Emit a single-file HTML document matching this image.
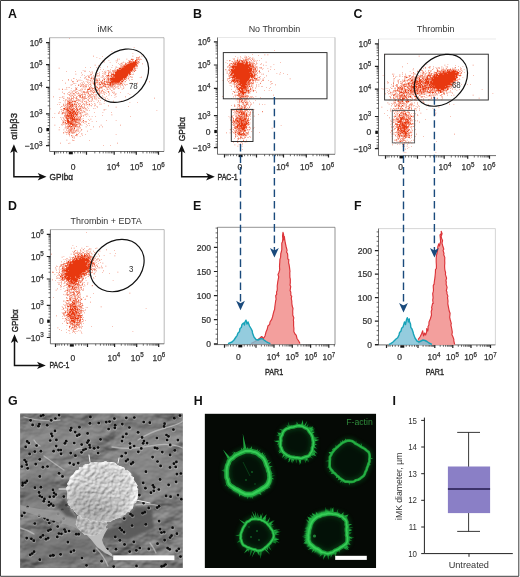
<!DOCTYPE html>
<html><head><meta charset="utf-8"><title>Figure</title>
<style>html,body{margin:0;padding:0;background:#fff;}svg{display:block;}text{font-family:"Liberation Sans",sans-serif;}</style></head>
<body>
<div style="width:520px;height:577px;transform:translateZ(0);will-change:transform;background:#fff">
<svg width="520" height="577" viewBox="0 0 520 577" font-family="Liberation Sans, sans-serif">
<rect x="0" y="0" width="520" height="577" fill="#fff"/>
<defs><filter id="b1" x="-50%" y="-50%" width="200%" height="200%"><feGaussianBlur stdDeviation="1"/></filter><filter id="b15" x="-50%" y="-50%" width="200%" height="200%"><feGaussianBlur stdDeviation="1.6"/></filter><filter id="b2" x="-50%" y="-50%" width="200%" height="200%"><feGaussianBlur stdDeviation="2.2"/></filter><filter id="b4" x="-50%" y="-50%" width="200%" height="200%"><feGaussianBlur stdDeviation="4"/></filter><filter id="b06" x="-30%" y="-30%" width="160%" height="160%"><feGaussianBlur stdDeviation="0.6"/></filter><filter id="b03" x="-5%" y="-5%" width="110%" height="110%"><feGaussianBlur stdDeviation="0.35"/></filter></defs>
<text transform="translate(8.00,18.00)" font-size="12.4" text-anchor="start" fill="#111" font-weight="bold" >A</text>
<ellipse cx="0" cy="0" rx="10.5" ry="2.6" transform="translate(124.5,71.6) rotate(-40)" fill="#e8380f" opacity="1.0" filter="url(#b1)"/>
<path transform="scale(0.6)" d="M115 64h1v1h-1m108 14h1v1h-1m-37 5h1v1h-1m35 3h1v1h-1m-66 3h1v1h-1m66-1h1v1h-1m15-1h1v1h-1m-66 0h1v1h-1m62-1h1v1h-1m-71 0h1v1h-1m67-1h1v1h-1m3-1h1v1h-1m-4 0h2v1h-2m3-1h1v1h-1m2-1h1v1h-1m-66 0h1v1h-1m64-1h1v1h-1m-35 0h1v1h-1m3-1h1v1h-1m13-1h1v1h-1m8-1h1v1h-1m2-1h1v1h-1m6-1h1v1h-1m2-1h1v1h-1m5-1h1v1h-1m-16 0h5v1h-5m9-1h2v1h-2m3-1h3v1h-3m5-1h1v1h-1m-54 0h1v1h-1m40-1h1v1h-1m4-1h4v1h-4m7-1h1v1h-1m-61 0h1v1h-1m22-1h1v1h-1m2-1h1v1h-1m19-1h2v1h-2m3-1h1v1h-1m3-1h1v1h-1m5-1h2v1h-2m3-1h1v1h-1m-55 0h1v1h-1m42-1h5v1h-5m6-1h2v1h-2m3-1h3v1h-3m4-1h1v1h-1m2-1h2v1h-2m-25 0h1v1h-1m10-1h1v1h-1m3-1h1v1h-1m3-1h8v1h-8m9-1h1v1h-1m-57 0h1v1h-1m10-1h1v1h-1m11-1h1v1h-1m9-1h1v1h-1m5-1h1v1h-1m4-1h16v1h-16m17-1h1v1h-1m2-1h2v1h-2m-34 0h1v1h-1m6-1h1v1h-1m6-1h2v1h-2m7-1h11v1h-11m12-1h2v1h-2m-27 0h2v1h-2m8-1h1v1h-1m2-1h1v1h-1m2-1h16v1h-16m17-1h1v1h-1m7-1h1v1h-1m-38 0h1v1h-1m5-1h1v1h-1m4-1h2v1h-2m3-1h17v1h-17m-53 0h1v1h-1m42-1h1v1h-1m5-1h1v1h-1m2-1h1v1h-1m2-1h20v1h-20m-45 0h1v1h-1m23-1h1v1h-1m15-1h2v1h-2m4-1h2v1h-2m3-1h17v1h-17m18-1h1v1h-1m2-1h1v1h-1m-27 0h1v1h-1m2-1h1v1h-1m2-1h20v1h-20m21-1h3v1h-3m-48 0h1v1h-1m14-1h1v1h-1m7-1h1v1h-1m3-1h1v1h-1m2-1h20v1h-20m21-1h1v1h-1m-84 0h1v1h-1m8-1h1v1h-1m10-1h1v1h-1m7-1h1v1h-1m19-1h1v1h-1m7-1h1v1h-1m3-1h1v1h-1m6-1h1v1h-1m2-1h2v1h-2m3-1h17v1h-17m-109 0h1v1h-1m100-1h4v1h-4m5-1h19v1h-19m20-1h2v1h-2m3-1h1v1h-1m2-1h1v1h-1m-36 0h1v1h-1m6-1h24v1h-24m25-1h1v1h-1m2-1h1v1h-1m-58 0h1v1h-1m5-1h1v1h-1m19-1h1v1h-1m4-1h1v1h-1m3-1h1v1h-1m3-1h21v1h-21m23-1h1v1h-1m-40 0h1v1h-1m9-1h1v1h-1m2-1h27v1h-27m28-1h1v1h-1m2-1h1v1h-1m-87 0h1v1h-1m23-1h2v1h-2m18-1h2v1h-2m8-1h2v1h-2m3-1h1v1h-1m2-1h2v1h-2m3-1h25v1h-25m26-1h2v1h-2m4-1h2v1h-2m-85 0h1v1h-1m2-1h1v1h-1m34-1h1v1h-1m4-1h1v1h-1m2-1h1v1h-1m6-1h2v1h-2m3-1h1v1h-1m3-1h27v1h-27m29-1h2v1h-2m-113 0h1v1h-1m15-1h1v1h-1m24-1h1v1h-1m4-1h1v1h-1m17-1h1v1h-1m4-1h1v1h-1m10-1h1v1h-1m3-1h1v1h-1m3-1h1v1h-1m2-1h25v1h-25m26-1h1v1h-1m5-1h1v1h-1m-72 0h1v1h-1m3-1h1v1h-1m6-1h1v1h-1m13-1h1v1h-1m2-1h1v1h-1m6-1h2v1h-2m7-1h2v1h-2m3-1h27v1h-27m30-1h1v1h-1m-86 0h1v1h-1m30-1h1v1h-1m11-1h1v1h-1m5-1h1v1h-1m3-1h2v1h-2m7-1h27v1h-27m-37 0h1v1h-1m8-1h2v1h-2m8-1h1v1h-1m3-1h1v1h-1m7-1h1v1h-1m6-1h1v1h-1m3-1h1v1h-1m3-1h25v1h-25m-66 0h1v1h-1m25-1h1v1h-1m8-1h1v1h-1m14-1h1v1h-1m2-1h1v1h-1m5-1h2v1h-2m5-1h1v1h-1m2-1h3v1h-3m4-1h23v1h-23m24-1h4v1h-4m7-1h1v1h-1m-85 0h1v1h-1m14-1h2v1h-2m10-1h1v1h-1m4-1h1v1h-1m20-1h29v1h-29m30-1h1v1h-1m2-1h1v1h-1m3-1h1v1h-1m-84 0h1v1h-1m4-1h1v1h-1m6-1h1v1h-1m2-1h1v1h-1m3-1h1v1h-1m9-1h1v1h-1m11-1h1v1h-1m7-1h1v1h-1m2-1h2v1h-2m3-1h2v1h-2m3-1h1v1h-1m2-1h26v1h-26m27-1h1v1h-1m-60 0h1v1h-1m4-1h1v1h-1m3-1h1v1h-1m2-1h2v1h-2m7-1h1v1h-1m6-1h5v1h-5m8-1h2v1h-2m4-1h24v1h-24m-45 0h1v1h-1m3-1h1v1h-1m11-1h1v1h-1m3-1h1v1h-1m11-1h1v1h-1m3-1h1v1h-1m4-1h1v1h-1m3-1h1v1h-1m2-1h3v1h-3m4-1h24v1h-24m26-1h1v1h-1m3-1h2v1h-2m-75 0h1v1h-1m5-1h3v1h-3m5-1h2v1h-2m6-1h1v1h-1m10-1h1v1h-1m2-1h1v1h-1m10-1h1v1h-1m6-1h2v1h-2m3-1h1v1h-1m2-1h20v1h-20m25-1h1v1h-1m4-1h1v1h-1m15-1h1v1h-1m-101 0h1v1h-1m7-1h1v1h-1m15-1h1v1h-1m17-1h1v1h-1m4-1h1v1h-1m2-1h1v1h-1m2-1h1v1h-1m3-1h2v1h-2m3-1h24v1h-24m26-1h1v1h-1m6-1h1v1h-1m14-1h1v1h-1m-111 0h2v1h-2m18-1h1v1h-1m12-1h1v1h-1m3-1h1v1h-1m8-1h1v1h-1m12-1h1v1h-1m3-1h1v1h-1m3-1h1v1h-1m2-1h22v1h-22m23-1h3v1h-3m4-1h1v1h-1m4-1h1v1h-1m-71 0h1v1h-1m7-1h1v1h-1m2-1h2v1h-2m3-1h1v1h-1m3-1h1v1h-1m2-1h1v1h-1m5-1h1v1h-1m7-1h1v1h-1m2-1h1v1h-1m5-1h3v1h-3m4-1h23v1h-23m24-1h2v1h-2m4-1h1v1h-1m3-1h1v1h-1m-100 0h1v1h-1m13-1h1v1h-1m17-1h2v1h-2m3-1h1v1h-1m8-1h1v1h-1m6-1h1v1h-1m12-1h2v1h-2m4-1h1v1h-1m2-1h2v1h-2m3-1h1v1h-1m2-1h21v1h-21m22-1h4v1h-4m13-1h2v1h-2m-105 0h1v1h-1m5-1h1v1h-1m12-1h1v1h-1m2-1h1v1h-1m24-1h1v1h-1m2-1h2v1h-2m3-1h2v1h-2m3-1h2v1h-2m5-1h1v1h-1m4-1h1v1h-1m6-1h2v1h-2m3-1h20v1h-20m21-1h2v1h-2m11-1h1v1h-1m-111 0h1v1h-1m25-1h1v1h-1m7-1h1v1h-1m10-1h1v1h-1m2-1h1v1h-1m2-1h2v1h-2m4-1h1v1h-1m3-1h1v1h-1m3-1h1v1h-1m2-1h1v1h-1m8-1h2v1h-2m7-1h1v1h-1m2-1h1v1h-1m2-1h1v1h-1m3-1h2v1h-2m3-1h15v1h-15m16-1h1v1h-1m2-1h2v1h-2m5-1h1v1h-1m-89 0h1v1h-1m7-1h2v1h-2m15-1h1v1h-1m8-1h1v1h-1m5-1h1v1h-1m7-1h1v1h-1m4-1h2v1h-2m7-1h1v1h-1m2-1h1v1h-1m4-1h1v1h-1m2-1h1v1h-1m3-1h16v1h-16m17-1h3v1h-3m7-1h1v1h-1m-89 0h1v1h-1m2-1h1v1h-1m17-1h1v1h-1m7-1h1v1h-1m7-1h1v1h-1m4-1h1v1h-1m3-1h1v1h-1m2-1h1v1h-1m7-1h2v1h-2m4-1h2v1h-2m3-1h5v1h-5m7-1h17v1h-17m19-1h3v1h-3m4-1h1v1h-1m2-1h1v1h-1m41-1h1v1h-1m-113 0h1v1h-1m9-1h1v1h-1m4-1h1v1h-1m7-1h1v1h-1m2-1h1v1h-1m2-1h1v1h-1m2-1h2v1h-2m3-1h2v1h-2m3-1h2v1h-2m3-1h1v1h-1m6-1h1v1h-1m2-1h12v1h-12m13-1h6v1h-6m7-1h2v1h-2m-90 0h1v1h-1m28-1h1v1h-1m3-1h1v1h-1m7-1h1v1h-1m3-1h1v1h-1m3-1h1v1h-1m2-1h1v1h-1m3-1h2v1h-2m3-1h1v1h-1m5-1h1v1h-1m3-1h1v1h-1m2-1h4v1h-4m7-1h1v1h-1m3-1h5v1h-5m6-1h2v1h-2m3-1h4v1h-4m5-1h1v1h-1m2-1h2v1h-2m3-1h4v1h-4m18-1h1v1h-1m11-1h1v1h-1m-107 0h1v1h-1m2-1h1v1h-1m2-1h1v1h-1m8-1h1v1h-1m21-1h1v1h-1m3-1h1v1h-1m5-1h1v1h-1m2-1h1v1h-1m4-1h3v1h-3m5-1h2v1h-2m5-1h1v1h-1m4-1h3v1h-3m4-1h3v1h-3m4-1h1v1h-1m2-1h2v1h-2m3-1h1v1h-1m2-1h1v1h-1m2-1h1v1h-1m2-1h1v1h-1m4-1h1v1h-1m-88 0h1v1h-1m2-1h1v1h-1m13-1h1v1h-1m4-1h1v1h-1m9-1h1v1h-1m3-1h3v1h-3m6-1h1v1h-1m4-1h1v1h-1m3-1h1v1h-1m4-1h2v1h-2m4-1h2v1h-2m3-1h9v1h-9m10-1h2v1h-2m4-1h5v1h-5m7-1h4v1h-4m6-1h1v1h-1m3-1h1v1h-1m4-1h2v1h-2m3-1h1v1h-1m2-1h1v1h-1m-82 0h1v1h-1m5-1h1v1h-1m3-1h2v1h-2m4-1h1v1h-1m2-1h1v1h-1m15-1h1v1h-1m4-1h1v1h-1m2-1h4v1h-4m8-1h1v1h-1m2-1h1v1h-1m4-1h1v1h-1m2-1h7v1h-7m8-1h1v1h-1m3-1h1v1h-1m6-1h2v1h-2m3-1h1v1h-1m3-1h1v1h-1m-86 0h1v1h-1m7-1h1v1h-1m5-1h2v1h-2m6-1h1v1h-1m4-1h1v1h-1m7-1h1v1h-1m5-1h1v1h-1m6-1h1v1h-1m14-1h2v1h-2m10-1h1v1h-1m2-1h1v1h-1m3-1h2v1h-2m4-1h1v1h-1m12-1h1v1h-1m6-1h1v1h-1m-75 0h1v1h-1m2-1h1v1h-1m6-1h1v1h-1m2-1h1v1h-1m6-1h1v1h-1m8-1h1v1h-1m3-1h1v1h-1m10-1h3v1h-3m4-1h2v1h-2m5-1h2v1h-2m3-1h4v1h-4m8-1h1v1h-1m4-1h1v1h-1m2-1h1v1h-1m3-1h1v1h-1m5-1h1v1h-1m-71 0h1v1h-1m4-1h2v1h-2m3-1h1v1h-1m2-1h1v1h-1m4-1h1v1h-1m4-1h1v1h-1m8-1h2v1h-2m6-1h1v1h-1m2-1h1v1h-1m2-1h2v1h-2m5-1h2v1h-2m4-1h1v1h-1m9-1h2v1h-2m3-1h1v1h-1m3-1h1v1h-1m-80 0h1v1h-1m2-1h1v1h-1m10-1h1v1h-1m3-1h1v1h-1m15-1h1v1h-1m6-1h1v1h-1m4-1h1v1h-1m4-1h1v1h-1m4-1h2v1h-2m5-1h4v1h-4m10-1h1v1h-1m3-1h3v1h-3m4-1h1v1h-1m2-1h1v1h-1m8-1h1v1h-1m8-1h1v1h-1m-91 0h1v1h-1m28-1h1v1h-1m3-1h1v1h-1m8-1h1v1h-1m2-1h2v1h-2m6-1h1v1h-1m3-1h1v1h-1m2-1h1v1h-1m3-1h1v1h-1m3-1h1v1h-1m2-1h1v1h-1m7-1h1v1h-1m10-1h1v1h-1m2-1h1v1h-1m3-1h1v1h-1m4-1h1v1h-1m10-1h1v1h-1m-87 0h1v1h-1m7-1h2v1h-2m10-1h1v1h-1m13-1h2v1h-2m4-1h4v1h-4m11-1h3v1h-3m4-1h1v1h-1m14-1h1v1h-1m8-1h1v1h-1m7-1h2v1h-2m8-1h1v1h-1m-107 0h1v1h-1m6-1h1v1h-1m22-1h2v1h-2m16-1h1v1h-1m4-1h4v1h-4m8-1h1v1h-1m3-1h1v1h-1m6-1h2v1h-2m15-1h2v1h-2m6-1h1v1h-1m5-1h1v1h-1m14-1h1v1h-1m-99 0h1v1h-1m4-1h1v1h-1m3-1h1v1h-1m15-1h1v1h-1m2-1h1v1h-1m6-1h1v1h-1m2-1h2v1h-2m4-1h1v1h-1m5-1h4v1h-4m5-1h1v1h-1m3-1h1v1h-1m5-1h1v1h-1m2-1h2v1h-2m5-1h1v1h-1m6-1h1v1h-1m3-1h1v1h-1m7-1h1v1h-1m9-1h1v1h-1m-72 0h1v1h-1m4-1h1v1h-1m2-1h2v1h-2m7-1h2v1h-2m5-1h1v1h-1m14-1h1v1h-1m3-1h1v1h-1m2-1h2v1h-2m3-1h1v1h-1m4-1h2v1h-2m4-1h1v1h-1m4-1h1v1h-1m6-1h1v1h-1m10-1h1v1h-1m-52 0h1v1h-1m11-1h2v1h-2m6-1h2v1h-2m11-1h1v1h-1m3-1h1v1h-1m4-1h2v1h-2m17-1h1v1h-1m-65 0h1v1h-1m2-1h1v1h-1m4-1h1v1h-1m2-1h1v1h-1m7-1h1v1h-1m3-1h2v1h-2m7-1h1v1h-1m3-1h1v1h-1m2-1h1v1h-1m3-1h1v1h-1m3-1h1v1h-1m3-1h1v1h-1m5-1h1v1h-1m3-1h1v1h-1m4-1h1v1h-1m6-1h1v1h-1m2-1h2v1h-2m-76 0h1v1h-1m11-1h1v1h-1m3-1h1v1h-1m2-1h1v1h-1m5-1h1v1h-1m13-1h3v1h-3m5-1h3v1h-3m4-1h1v1h-1m4-1h1v1h-1m3-1h1v1h-1m2-1h2v1h-2m3-1h1v1h-1m5-1h1v1h-1m5-1h1v1h-1m3-1h1v1h-1m2-1h1v1h-1m6-1h1v1h-1m8-1h1v1h-1m2-1h1v1h-1m-76 0h1v1h-1m11-1h1v1h-1m2-1h1v1h-1m3-1h1v1h-1m6-1h1v1h-1m4-1h1v1h-1m2-1h1v1h-1m4-1h1v1h-1m9-1h2v1h-2m10-1h1v1h-1m2-1h1v1h-1m8-1h1v1h-1m6-1h1v1h-1m6-1h1v1h-1m13-1h1v1h-1m-94 0h1v1h-1m12-1h1v1h-1m5-1h1v1h-1m4-1h1v1h-1m3-1h1v1h-1m13-1h1v1h-1m4-1h1v1h-1m8-1h1v1h-1m9-1h1v1h-1m2-1h1v1h-1m2-1h1v1h-1m3-1h1v1h-1m6-1h1v1h-1m12-1h1v1h-1m24-1h1v1h-1m-106 0h1v1h-1m5-1h1v1h-1m5-1h1v1h-1m4-1h3v1h-3m8-1h1v1h-1m2-1h1v1h-1m2-1h1v1h-1m4-1h1v1h-1m3-1h1v1h-1m6-1h2v1h-2m6-1h1v1h-1m12-1h2v1h-2m9-1h1v1h-1m9-1h1v1h-1m9-1h1v1h-1m2-1h1v1h-1m-79 0h2v1h-2m21-1h2v1h-2m3-1h1v1h-1m2-1h1v1h-1m2-1h1v1h-1m7-1h1v1h-1m2-1h1v1h-1m2-1h2v1h-2m5-1h1v1h-1m2-1h1v1h-1m5-1h2v1h-2m9-1h1v1h-1m18-1h1v1h-1m24-1h1v1h-1m-100 0h1v1h-1m3-1h1v1h-1m5-1h2v1h-2m8-1h2v1h-2m5-1h1v1h-1m5-1h1v1h-1m6-1h1v1h-1m2-1h1v1h-1m5-1h1v1h-1m3-1h1v1h-1m2-1h1v1h-1m21-1h1v1h-1m-65 0h1v1h-1m4-1h2v1h-2m10-1h2v1h-2m3-1h2v1h-2m3-1h1v1h-1m9-1h1v1h-1m4-1h1v1h-1m2-1h1v1h-1m19-1h1v1h-1m15-1h1v1h-1m6-1h1v1h-1m-87 0h1v1h-1m2-1h1v1h-1m11-1h1v1h-1m5-1h1v1h-1m7-1h1v1h-1m4-1h1v1h-1m4-1h1v1h-1m3-1h3v1h-3m7-1h1v1h-1m2-1h1v1h-1m3-1h1v1h-1m4-1h1v1h-1m5-1h1v1h-1m5-1h1v1h-1m11-1h1v1h-1m16-1h1v1h-1m-104 0h1v1h-1m30-1h1v1h-1m3-1h1v1h-1m5-1h1v1h-1m5-1h3v1h-3m5-1h2v1h-2m10-1h1v1h-1m3-1h1v1h-1m4-1h1v1h-1m3-1h2v1h-2m14-1h1v1h-1m38-1h1v1h-1m-110 0h1v1h-1m2-1h1v1h-1m3-1h1v1h-1m8-1h1v1h-1m3-1h1v1h-1m7-1h1v1h-1m2-1h1v1h-1m3-1h1v1h-1m6-1h1v1h-1m2-1h1v1h-1m2-1h2v1h-2m4-1h1v1h-1m5-1h1v1h-1m5-1h2v1h-2m12-1h1v1h-1m5-1h1v1h-1m5-1h1v1h-1m18-1h1v1h-1m-85 0h1v1h-1m6-1h1v1h-1m2-1h1v1h-1m5-1h1v1h-1m6-1h1v1h-1m2-1h1v1h-1m9-1h1v1h-1m2-1h1v1h-1m2-1h3v1h-3m8-1h1v1h-1m5-1h1v1h-1m4-1h2v1h-2m3-1h1v1h-1m8-1h1v1h-1m7-1h1v1h-1m82-1h1v1h-1m-151 0h1v1h-1m9-1h2v1h-2m4-1h4v1h-4m8-1h1v1h-1m2-1h1v1h-1m9-1h1v1h-1m5-1h2v1h-2m6-1h1v1h-1m5-1h1v1h-1m10-1h2v1h-2m15-1h1v1h-1m-80 0h1v1h-1m10-1h1v1h-1m4-1h1v1h-1m4-1h1v1h-1m2-1h1v1h-1m3-1h1v1h-1m8-1h2v1h-2m3-1h1v1h-1m4-1h2v1h-2m3-1h1v1h-1m13-1h1v1h-1m5-1h1v1h-1m23-1h1v1h-1m-71 0h1v1h-1m5-1h1v1h-1m3-1h1v1h-1m9-1h1v1h-1m2-1h1v1h-1m17-1h2v1h-2m7-1h1v1h-1m8-1h1v1h-1m14-1h1v1h-1m-70 0h1v1h-1m4-1h1v1h-1m3-1h2v1h-2m4-1h1v1h-1m2-1h1v1h-1m9-1h2v1h-2m3-1h1v1h-1m2-1h2v1h-2m6-1h1v1h-1m9-1h1v1h-1m6-1h1v1h-1m11-1h1v1h-1m3-1h1v1h-1m10-1h1v1h-1m-69 0h1v1h-1m5-1h1v1h-1m2-1h1v1h-1m2-1h1v1h-1m2-1h8v1h-8m12-1h1v1h-1m5-1h2v1h-2m7-1h1v1h-1m8-1h1v1h-1m23-1h1v1h-1m15-1h1v1h-1m13-1h1v1h-1m-90 0h3v1h-3m4-1h1v1h-1m4-1h1v1h-1m4-1h2v1h-2m10-1h1v1h-1m6-1h2v1h-2m3-1h1v1h-1m5-1h2v1h-2m4-1h1v1h-1m4-1h1v1h-1m8-1h1v1h-1m-66 0h1v1h-1m2-1h1v1h-1m15-1h2v1h-2m3-1h2v1h-2m5-1h1v1h-1m3-1h1v1h-1m3-1h1v1h-1m7-1h2v1h-2m8-1h1v1h-1m2-1h1v1h-1m16-1h1v1h-1m54-1h1v1h-1m13-1h1v1h-1m-121 0h1v1h-1m4-1h7v1h-7m8-1h1v1h-1m6-1h1v1h-1m3-1h1v1h-1m14-1h1v1h-1m23-1h1v1h-1m-54 0h1v1h-1m2-1h2v1h-2m4-1h1v1h-1m6-1h1v1h-1m6-1h1v1h-1m2-1h1v1h-1m2-1h1v1h-1m5-1h1v1h-1m4-1h1v1h-1m9-1h1v1h-1m5-1h1v1h-1m16-1h1v1h-1m-68 0h1v1h-1m4-1h1v1h-1m2-1h2v1h-2m3-1h5v1h-5m6-1h2v1h-2m3-1h3v1h-3m4-1h1v1h-1m4-1h1v1h-1m7-1h1v1h-1m2-1h1v1h-1m4-1h1v1h-1m4-1h2v1h-2m10-1h1v1h-1m10-1h1v1h-1m-73 0h1v1h-1m4-1h1v1h-1m7-1h1v1h-1m5-1h1v1h-1m2-1h1v1h-1m2-1h1v1h-1m3-1h4v1h-4m6-1h1v1h-1m2-1h2v1h-2m4-1h1v1h-1m4-1h1v1h-1m3-1h1v1h-1m4-1h1v1h-1m4-1h2v1h-2m4-1h1v1h-1m5-1h1v1h-1m12-1h1v1h-1m-61 0h1v1h-1m3-1h1v1h-1m3-1h3v1h-3m4-1h1v1h-1m2-1h2v1h-2m3-1h1v1h-1m2-1h1v1h-1m6-1h1v1h-1m4-1h1v1h-1m3-1h1v1h-1m8-1h1v1h-1m8-1h1v1h-1m8-1h1v1h-1m-53 0h1v1h-1m3-1h1v1h-1m4-1h1v1h-1m4-1h5v1h-5m6-1h1v1h-1m2-1h1v1h-1m2-1h1v1h-1m5-1h1v1h-1m3-1h1v1h-1m5-1h1v1h-1m8-1h1v1h-1m4-1h1v1h-1m5-1h1v1h-1m23-1h1v1h-1m-78 0h2v1h-2m5-1h1v1h-1m3-1h1v1h-1m2-1h2v1h-2m3-1h4v1h-4m5-1h2v1h-2m3-1h1v1h-1m3-1h2v1h-2m4-1h2v1h-2m3-1h3v1h-3m28-1h1v1h-1m53-1h1v1h-1m-103 0h1v1h-1m3-1h3v1h-3m4-1h1v1h-1m3-1h1v1h-1m5-1h2v1h-2m10-1h3v1h-3m4-1h1v1h-1m5-1h1v1h-1m17-1h1v1h-1m31-1h1v1h-1m-93 0h1v1h-1m8-1h2v1h-2m3-1h3v1h-3m5-1h1v1h-1m2-1h2v1h-2m4-1h1v1h-1m3-1h1v1h-1m3-1h1v1h-1m3-1h1v1h-1m3-1h1v1h-1m7-1h1v1h-1m-36 0h4v1h-4m6-1h3v1h-3m4-1h1v1h-1m2-1h2v1h-2m5-1h1v1h-1m2-1h1v1h-1m3-1h2v1h-2m6-1h1v1h-1m3-1h1v1h-1m2-1h2v1h-2m4-1h2v1h-2m5-1h1v1h-1m8-1h1v1h-1m3-1h1v1h-1m-75 0h1v1h-1m23-1h3v1h-3m4-1h1v1h-1m2-1h1v1h-1m2-1h3v1h-3m4-1h1v1h-1m2-1h3v1h-3m4-1h1v1h-1m3-1h2v1h-2m5-1h3v1h-3m9-1h1v1h-1m-40 0h2v1h-2m6-1h7v1h-7m9-1h6v1h-6m9-1h2v1h-2m3-1h2v1h-2m3-1h2v1h-2m12-1h1v1h-1m30-1h1v1h-1m3-1h1v1h-1m-73 0h1v1h-1m2-1h1v1h-1m5-1h1v1h-1m2-1h3v1h-3m5-1h1v1h-1m2-1h5v1h-5m7-1h1v1h-1m2-1h3v1h-3m5-1h1v1h-1m2-1h2v1h-2m8-1h1v1h-1m2-1h1v1h-1m28-1h1v1h-1m-68 0h1v1h-1m3-1h1v1h-1m3-1h6v1h-6m7-1h3v1h-3m5-1h2v1h-2m4-1h1v1h-1m2-1h1v1h-1m5-1h1v1h-1m5-1h1v1h-1m10-1h1v1h-1m112-1h1v1h-1m-159 0h1v1h-1m7-1h2v1h-2m3-1h1v1h-1m2-1h4v1h-4m5-1h6v1h-6m8-1h2v1h-2m4-1h1v1h-1m9-1h1v1h-1m-41 0h1v1h-1m7-1h1v1h-1m5-1h2v1h-2m3-1h5v1h-5m7-1h5v1h-5m6-1h1v1h-1m3-1h1v1h-1m2-1h1v1h-1m4-1h1v1h-1m3-1h1v1h-1m2-1h1v1h-1m-37 0h2v1h-2m4-1h1v1h-1m3-1h1v1h-1m2-1h2v1h-2m3-1h7v1h-7m8-1h3v1h-3m4-1h3v1h-3m6-1h1v1h-1m2-1h2v1h-2m5-1h1v1h-1m16-1h1v1h-1m14-1h1v1h-1m14-1h1v1h-1m-88 0h2v1h-2m6-1h3v1h-3m4-1h4v1h-4m5-1h1v1h-1m2-1h10v1h-10m11-1h2v1h-2m3-1h2v1h-2m4-1h1v1h-1m2-1h1v1h-1m9-1h1v1h-1m-52 0h1v1h-1m12-1h1v1h-1m9-1h1v1h-1m2-1h5v1h-5m6-1h2v1h-2m3-1h4v1h-4m5-1h1v1h-1m3-1h1v1h-1m3-1h1v1h-1m2-1h1v1h-1m9-1h1v1h-1m-42 0h1v1h-1m6-1h1v1h-1m3-1h2v1h-2m4-1h1v1h-1m2-1h2v1h-2m4-1h8v1h-8m12-1h2v1h-2m10-1h1v1h-1m-36 0h1v1h-1m2-1h1v1h-1m2-1h2v1h-2m3-1h9v1h-9m11-1h3v1h-3m5-1h1v1h-1m10-1h2v1h-2m5-1h1v1h-1m40-1h1v1h-1m-79 0h1v1h-1m2-1h12v1h-12m13-1h2v1h-2m5-1h2v1h-2m7-1h1v1h-1m2-1h1v1h-1m3-1h1v1h-1m31-1h1v1h-1m-63 0h1v1h-1m2-1h1v1h-1m2-1h4v1h-4m5-1h1v1h-1m2-1h6v1h-6m7-1h2v1h-2m4-1h1v1h-1m6-1h1v1h-1m4-1h1v1h-1m-31 0h1v1h-1m2-1h2v1h-2m3-1h7v1h-7m8-1h3v1h-3m5-1h1v1h-1m2-1h1v1h-1m3-1h2v1h-2m3-1h2v1h-2m10-1h1v1h-1m5-1h1v1h-1m4-1h1v1h-1m6-1h1v1h-1m58-1h1v1h-1m-130 0h1v1h-1m3-1h1v1h-1m10-1h1v1h-1m3-1h1v1h-1m2-1h1v1h-1m5-1h2v1h-2m5-1h3v1h-3m4-1h3v1h-3m4-1h2v1h-2m4-1h1v1h-1m2-1h2v1h-2m4-1h2v1h-2m-25 0h3v1h-3m4-1h3v1h-3m4-1h6v1h-6m7-1h2v1h-2m3-1h1v1h-1m5-1h1v1h-1m2-1h1v1h-1m-28 0h1v1h-1m5-1h3v1h-3m4-1h9v1h-9m10-1h2v1h-2m3-1h1v1h-1m2-1h1v1h-1m2-1h1v1h-1m3-1h1v1h-1m4-1h1v1h-1m-36 0h1v1h-1m4-1h1v1h-1m5-1h4v1h-4m6-1h1v1h-1m2-1h6v1h-6m7-1h5v1h-5m6-1h2v1h-2m4-1h1v1h-1m15-1h1v1h-1m-44 0h1v1h-1m4-1h2v1h-2m5-1h2v1h-2m3-1h9v1h-9m10-1h2v1h-2m3-1h2v1h-2m15-1h1v1h-1m-39 0h2v1h-2m3-1h4v1h-4m6-1h1v1h-1m2-1h8v1h-8m9-1h3v1h-3m11-1h1v1h-1m10-1h1v1h-1m28-1h1v1h-1m16-1h1v1h-1m-89 0h1v1h-1m2-1h1v1h-1m2-1h1v1h-1m3-1h4v1h-4m5-1h1v1h-1m2-1h4v1h-4m6-1h1v1h-1m2-1h2v1h-2m5-1h4v1h-4m7-1h2v1h-2m-33 0h1v1h-1m6-1h7v1h-7m8-1h2v1h-2m3-1h5v1h-5m15-1h1v1h-1m4-1h2v1h-2m3-1h1v1h-1m9-1h1v1h-1m7-1h1v1h-1m-54 0h1v1h-1m3-1h1v1h-1m3-1h8v1h-8m9-1h2v1h-2m4-1h7v1h-7m10-1h1v1h-1m8-1h1v1h-1m-39 0h3v1h-3m4-1h2v1h-2m4-1h4v1h-4m5-1h1v1h-1m2-1h3v1h-3m5-1h1v1h-1m2-1h1v1h-1m2-1h1v1h-1m4-1h1v1h-1m6-1h2v1h-2m-32 0h1v1h-1m3-1h2v1h-2m4-1h1v1h-1m2-1h5v1h-5m6-1h2v1h-2m3-1h1v1h-1m4-1h1v1h-1m4-1h2v1h-2m9-1h1v1h-1m6-1h2v1h-2m-43 0h1v1h-1m4-1h1v1h-1m2-1h5v1h-5m6-1h6v1h-6m7-1h1v1h-1m2-1h2v1h-2m5-1h2v1h-2m3-1h1v1h-1m-31 0h1v1h-1m3-1h1v1h-1m3-1h1v1h-1m6-1h1v1h-1m2-1h9v1h-9m10-1h4v1h-4m7-1h2v1h-2m11-1h1v1h-1m-53 0h1v1h-1m12-1h1v1h-1m11-1h1v1h-1m2-1h1v1h-1m4-1h3v1h-3m4-1h1v1h-1m2-1h2v1h-2m6-1h1v1h-1m4-1h1v1h-1m32-1h1v1h-1m32-1h1v1h-1m-91 0h1v1h-1m3-1h1v1h-1m3-1h3v1h-3m5-1h1v1h-1m2-1h1v1h-1m2-1h3v1h-3m4-1h1v1h-1m5-1h1v1h-1m12-1h1v1h-1m4-1h1v1h-1m-39 0h1v1h-1m2-1h2v1h-2m3-1h8v1h-8m9-1h3v1h-3m4-1h1v1h-1m4-1h1v1h-1m-23 0h1v1h-1m4-1h3v1h-3m5-1h2v1h-2m5-1h1v1h-1m2-1h1v1h-1m2-1h1v1h-1m2-1h2v1h-2m3-1h1v1h-1m11-1h1v1h-1m12-1h1v1h-1m10-1h1v1h-1m5-1h1v1h-1m-71 0h1v1h-1m9-1h1v1h-1m2-1h1v1h-1m3-1h1v1h-1m4-1h2v1h-2m4-1h1v1h-1m2-1h1v1h-1m8-1h1v1h-1m3-1h1v1h-1m-22 0h2v1h-2m5-1h1v1h-1m3-1h1v1h-1m3-1h2v1h-2m5-1h1v1h-1m-20 0h1v1h-1m3-1h1v1h-1m2-1h1v1h-1m3-1h1v1h-1m2-1h3v1h-3m5-1h2v1h-2m8-1h1v1h-1m2-1h1v1h-1m-23 0h1v1h-1m5-1h2v1h-2m3-1h2v1h-2m3-1h1v1h-1m2-1h1v1h-1m4-1h1v1h-1m2-1h1v1h-1m6-1h2v1h-2m16-1h1v1h-1m-53 0h1v1h-1m8-1h1v1h-1m8-1h1v1h-1m3-1h2v1h-2m4-1h1v1h-1m2-1h1v1h-1m7-1h1v1h-1m-20 0h1v1h-1m3-1h1v1h-1m2-1h1v1h-1m2-1h1v1h-1m2-1h1v1h-1m3-1h2v1h-2m4-1h3v1h-3m9-1h1v1h-1m-22 0h1v1h-1m3-1h2v1h-2m3-1h2v1h-2m6-1h1v1h-1m3-1h1v1h-1m2-1h1v1h-1m3-1h1v1h-1m12-1h1v1h-1m-37 0h1v1h-1m5-1h1v1h-1m2-1h1v1h-1m3-1h1v1h-1m4-1h2v1h-2m4-1h1v1h-1m-17 0h4v1h-4m5-1h3v1h-3m4-1h2v1h-2m3-1h3v1h-3m5-1h1v1h-1m6-1h1v1h-1m-27 0h2v1h-2m10-1h1v1h-1m5-1h1v1h-1m4-1h1v1h-1m-10 0h1v1h-1m4-1h1v1h-1m2-1h1v1h-1m2-1h1v1h-1m8-1h1v1h-1m6-1h1v1h-1m-26 0h1v1h-1m3-1h1v1h-1m2-1h1v1h-1m12-1h1v1h-1m9-1h1v1h-1m-21 0h1v1h-1m12-1h3v1h-3m15-1h1v1h-1m51-1h1v1h-1m-74 0h1v1h-1m2-1h1v1h-1m4-1h3v1h-3m12-1h1v1h-1m-22 0h1v1h-1m4-1h1v1h-1m9-1h1v1h-1m-5 0h1v1h-1m10-1h1v1h-1m-13 0h2v1h-2m4 0h1v1h-1m-1 0h1v1h-1m-12 2h1v1h-1m9-1h1v1h-1m2 0h2v1h-2m27-1h1v1h-1m-49 3h1v1h-1m16-1h1v1h-1m79-1h1v1h-1m-81 0h1v1h-1m58 2h1v1h-1m12-1h1v1h-1" fill="#e8380f" opacity="1.0"/>
<line x1="49.6" y1="37.7" x2="164" y2="37.7" stroke="#8a8a8a" stroke-width="0.6"/>
<line x1="164" y1="37.7" x2="164" y2="151.5" stroke="#8a8a8a" stroke-width="0.6"/>
<line x1="49.6" y1="37.7" x2="49.6" y2="151.5" stroke="#4a4a4a" stroke-width="0.8"/>
<line x1="49.6" y1="151.5" x2="164" y2="151.5" stroke="#4a4a4a" stroke-width="0.8"/>
<path d="M46.0 42.7H49.6M46.0 64.6H49.6M46.0 87.3H49.6M46.0 113.8H49.6M46.0 145.7H49.6" stroke="#222" stroke-width="1.2"/>
<path d="M47.7 58.0H49.6M47.7 54.2H49.6M47.7 51.4H49.6M47.7 49.3H49.6M47.7 47.6H49.6M47.7 46.1H49.6M47.7 44.8H49.6M47.7 43.7H49.6M47.7 80.5H49.6M47.7 76.5H49.6M47.7 73.6H49.6M47.7 71.4H49.6M47.7 69.6H49.6M47.7 68.1H49.6M47.7 66.8H49.6M47.7 65.6H49.6M47.7 105.8H49.6M47.7 101.2H49.6M47.7 97.8H49.6M47.7 95.3H49.6M47.7 93.2H49.6M47.7 91.4H49.6M47.7 89.9H49.6M47.7 88.5H49.6M47.7 125.6H49.6M47.7 133.6H49.6M47.7 122.5H49.6M47.7 136.8H49.6M47.7 119.8H49.6M47.7 139.6H49.6M47.7 117.3H49.6M47.7 142.2H49.6M47.7 115.4H49.6M47.7 144.1H49.6" stroke="#2a2a2a" stroke-width="0.7"/>
<rect x="46.4" y="128.0" width="2.6" height="3.2" fill="#111"/>
<path d="M54.5 151.5V154.7M86.5 151.5V154.7M114.2 151.5V154.7M136.3 151.5V154.7M158.5 151.5V154.7" stroke="#222" stroke-width="1.2"/>
<path d="M94.8 151.5V153.4M99.7 151.5V153.4M103.2 151.5V153.4M105.9 151.5V153.4M108.1 151.5V153.4M109.9 151.5V153.4M111.5 151.5V153.4M112.9 151.5V153.4M120.9 151.5V153.4M124.7 151.5V153.4M127.5 151.5V153.4M129.6 151.5V153.4M131.4 151.5V153.4M132.9 151.5V153.4M134.2 151.5V153.4M135.3 151.5V153.4M143.0 151.5V153.4M146.9 151.5V153.4M149.7 151.5V153.4M151.8 151.5V153.4M153.6 151.5V153.4M155.1 151.5V153.4M156.3 151.5V153.4M157.5 151.5V153.4M74.7 151.5V153.4M66.7 151.5V153.4M77.9 151.5V153.4M63.5 151.5V153.4M80.5 151.5V153.4M60.7 151.5V153.4M83.0 151.5V153.4M58.1 151.5V153.4M84.9 151.5V153.4M56.1 151.5V153.4" stroke="#2a2a2a" stroke-width="0.7"/>
<rect x="68.8" y="151.9" width="4" height="2.4" fill="#111"/>
<text transform="translate(29.70,45.80)" font-size="8.8" text-anchor="start" fill="#333" font-weight="normal" stroke="#333" stroke-width="0.25" textLength="12.8" lengthAdjust="spacingAndGlyphs">10<tspan font-size="6.51" dy="-3.2">6</tspan></text>
<text transform="translate(29.70,67.70)" font-size="8.8" text-anchor="start" fill="#333" font-weight="normal" stroke="#333" stroke-width="0.25" textLength="12.8" lengthAdjust="spacingAndGlyphs">10<tspan font-size="6.51" dy="-3.2">5</tspan></text>
<text transform="translate(29.70,90.40)" font-size="8.8" text-anchor="start" fill="#333" font-weight="normal" stroke="#333" stroke-width="0.25" textLength="12.8" lengthAdjust="spacingAndGlyphs">10<tspan font-size="6.51" dy="-3.2">4</tspan></text>
<text transform="translate(29.70,116.90)" font-size="8.8" text-anchor="start" fill="#333" font-weight="normal" stroke="#333" stroke-width="0.25" textLength="12.8" lengthAdjust="spacingAndGlyphs">10<tspan font-size="6.51" dy="-3.2">3</tspan></text>
<text transform="translate(42.50,132.70) scale(0.97,1)" font-size="8.8" text-anchor="end" fill="#333" font-weight="normal" stroke="#333" stroke-width="0.25">0</text>
<text transform="translate(24.50,148.80)" font-size="8.8" text-anchor="start" fill="#333" font-weight="normal" stroke="#333" stroke-width="0.25" textLength="18.0" lengthAdjust="spacingAndGlyphs">−10<tspan font-size="6.51" dy="-3.2">3</tspan></text>
<text transform="translate(73.00,170.20) scale(0.97,1)" font-size="8.8" text-anchor="middle" fill="#333" font-weight="normal" stroke="#333" stroke-width="0.25">0</text>
<text transform="translate(106.80,170.20)" font-size="8.8" text-anchor="start" fill="#333" font-weight="normal" stroke="#333" stroke-width="0.25" textLength="12.8" lengthAdjust="spacingAndGlyphs">10<tspan font-size="6.51" dy="-3.2">4</tspan></text>
<text transform="translate(130.10,170.20)" font-size="8.8" text-anchor="start" fill="#333" font-weight="normal" stroke="#333" stroke-width="0.25" textLength="12.8" lengthAdjust="spacingAndGlyphs">10<tspan font-size="6.51" dy="-3.2">5</tspan></text>
<text transform="translate(152.00,170.20)" font-size="8.8" text-anchor="start" fill="#333" font-weight="normal" stroke="#333" stroke-width="0.25" textLength="12.8" lengthAdjust="spacingAndGlyphs">10<tspan font-size="6.51" dy="-3.2">6</tspan></text>
<text transform="translate(105.20,31.60)" font-size="8.95" text-anchor="middle" fill="#333" font-weight="normal" >iMK</text>
<ellipse cx="0" cy="0" rx="29.9" ry="23.4" transform="translate(121.6,75.7) rotate(-43.6)" fill="none" stroke="#111" stroke-width="1.2"/>
<text transform="translate(133.30,88.90) scale(0.9,1)" font-size="8.8" text-anchor="middle" fill="#333" font-weight="normal" >78</text>
<path d="M13.9 149.3V176.7H41.5" stroke="#111" stroke-width="1.5" fill="none" stroke-linejoin="miter"/>
<path d="M13.9 144.3l-3.7 8.8l3.7 -2.3l3.7 2.3z" fill="#111"/>
<path d="M46.5 176.7l-8.8 -3.7l2.3 3.7l-2.3 3.7z" fill="#111"/>
<text transform="translate(49.60,179.60)" font-size="9.8" text-anchor="start" fill="#2a2a2a" font-weight="normal" stroke="#2a2a2a" stroke-width="0.42" textLength="23.5" lengthAdjust="spacingAndGlyphs">GPIbα</text>
<text transform="translate(16.50,139.80) rotate(-90)" font-size="9.8" text-anchor="start" fill="#2a2a2a" font-weight="normal" stroke="#2a2a2a" stroke-width="0.42" textLength="26.8" lengthAdjust="spacingAndGlyphs">αIIbβ3</text>
<text transform="translate(193.00,18.00)" font-size="12.4" text-anchor="start" fill="#111" font-weight="bold" >B</text>
<ellipse cx="0" cy="0" rx="5.0" ry="4.6" transform="translate(242.0,72.5) rotate(0)" fill="#e8380f" opacity="1.0" filter="url(#b15)"/>
<path transform="scale(0.6)" d="M457 84h1v1h-1m-66 2h1v1h-1m48-1h1v1h-1m-19 2h1v1h-1m21 0h1v1h-1m5-1h1v1h-1m-16 0h1v1h-1m-22 0h1v1h-1m-16 0h1v1h-1m8-1h1v1h-1m10-1h1v1h-1m4-1h1v1h-1m-13 0h1v1h-1m6-1h1v1h-1m4-1h1v1h-1m6-1h1v1h-1m-21 0h1v1h-1m13-1h2v1h-2m6-1h1v1h-1m6-1h1v1h-1m-33 0h1v1h-1m2-1h1v1h-1m14-1h1v1h-1m10-1h2v1h-2m4-1h1v1h-1m17-1h1v1h-1m-39 0h1v1h-1m4-1h1v1h-1m6-1h1v1h-1m3-1h2v1h-2m3-1h2v1h-2m8-1h2v1h-2m3-1h1v1h-1m-34 0h2v1h-2m6-1h1v1h-1m4-1h1v1h-1m7-1h1v1h-1m3-1h2v1h-2m4-1h1v1h-1m3-1h2v1h-2m-38 0h1v1h-1m4-1h1v1h-1m2-1h1v1h-1m6-1h1v1h-1m2-1h1v1h-1m3-1h2v1h-2m4-1h2v1h-2m3-1h1v1h-1m3-1h1v1h-1m2-1h4v1h-4m7-1h1v1h-1m4-1h1v1h-1m11-1h1v1h-1m3-1h1v1h-1m-50 0h1v1h-1m12-1h3v1h-3m5-1h1v1h-1m2-1h5v1h-5m7-1h1v1h-1m2-1h1v1h-1m2-1h1v1h-1m7-1h1v1h-1m3-1h2v1h-2m4-1h1v1h-1m-40 0h2v1h-2m4-1h1v1h-1m2-1h1v1h-1m3-1h1v1h-1m2-1h3v1h-3m6-1h2v1h-2m3-1h2v1h-2m4-1h2v1h-2m5-1h2v1h-2m9-1h1v1h-1m-36 0h1v1h-1m3-1h1v1h-1m2-1h2v1h-2m3-1h4v1h-4m5-1h5v1h-5m6-1h7v1h-7m9-1h1v1h-1m4-1h1v1h-1m7-1h1v1h-1m16-1h1v1h-1m-67 0h1v1h-1m13-1h1v1h-1m2-1h3v1h-3m4-1h4v1h-4m5-1h1v1h-1m4-1h4v1h-4m6-1h3v1h-3m4-1h4v1h-4m5-1h1v1h-1m3-1h1v1h-1m45-1h1v1h-1m-88 0h1v1h-1m4-1h1v1h-1m2-1h2v1h-2m4-1h1v1h-1m2-1h3v1h-3m4-1h11v1h-11m12-1h1v1h-1m2-1h4v1h-4m7-1h1v1h-1m2-1h2v1h-2m4-1h1v1h-1m2-1h1v1h-1m4-1h1v1h-1m-45 0h1v1h-1m3-1h1v1h-1m2-1h5v1h-5m6-1h13v1h-13m14-1h6v1h-6m7-1h3v1h-3m5-1h2v1h-2m3-1h1v1h-1m4-1h1v1h-1m8-1h1v1h-1m-53 0h1v1h-1m5-1h1v1h-1m3-1h23v1h-23m24-1h5v1h-5m7-1h1v1h-1m5-1h1v1h-1m8-1h1v1h-1m22-1h1v1h-1m-74 0h1v1h-1m2-1h1v1h-1m3-1h1v1h-1m2-1h1v1h-1m2-1h3v1h-3m4-1h23v1h-23m24-1h4v1h-4m6-1h1v1h-1m14-1h1v1h-1m-58 0h2v1h-2m5-1h1v1h-1m2-1h4v1h-4m5-1h26v1h-26m27-1h1v1h-1m3-1h1v1h-1m20-1h1v1h-1m-64 0h1v1h-1m4-1h1v1h-1m3-1h29v1h-29m30-1h5v1h-5m6-1h1v1h-1m3-1h1v1h-1m2-1h1v1h-1m-47 0h1v1h-1m4-1h34v1h-34m35-1h5v1h-5m9-1h1v1h-1m23-1h1v1h-1m-72 0h1v1h-1m3-1h1v1h-1m2-1h1v1h-1m2-1h31v1h-31m32-1h1v1h-1m2-1h1v1h-1m2-1h2v1h-2m4-1h2v1h-2m6-1h1v1h-1m2-1h2v1h-2m-52 0h1v1h-1m4-1h4v1h-4m5-1h29v1h-29m30-1h1v1h-1m2-1h3v1h-3m6-1h1v1h-1m6-1h1v1h-1m-52 0h1v1h-1m5-1h26v1h-26m27-1h6v1h-6m7-1h1v1h-1m3-1h2v1h-2m8-1h1v1h-1m5-1h1v1h-1m8-1h1v1h-1m-70 0h1v1h-1m8-1h4v1h-4m5-1h31v1h-31m32-1h2v1h-2m3-1h3v1h-3m5-1h1v1h-1m8-1h1v1h-1m13-1h1v1h-1m7-1h1v1h-1m-81 0h1v1h-1m4-1h1v1h-1m2-1h2v1h-2m3-1h35v1h-35m36-1h2v1h-2m3-1h2v1h-2m-43 0h2v1h-2m4-1h35v1h-35m37-1h1v1h-1m4-1h2v1h-2m3-1h1v1h-1m3-1h1v1h-1m-54 0h1v1h-1m5-1h1v1h-1m2-1h36v1h-36m37-1h4v1h-4m5-1h1v1h-1m5-1h1v1h-1m15-1h1v1h-1m-64 0h2v1h-2m3-1h33v1h-33m34-1h3v1h-3m6-1h2v1h-2m5-1h2v1h-2m-48 0h2v1h-2m3-1h30v1h-30m31-1h2v1h-2m3-1h1v1h-1m2-1h2v1h-2m3-1h2v1h-2m9-1h1v1h-1m33-1h1v1h-1m-89 0h1v1h-1m4-1h1v1h-1m3-1h35v1h-35m36-1h3v1h-3m8-1h1v1h-1m3-1h1v1h-1m-54 0h1v1h-1m4-1h1v1h-1m3-1h35v1h-35m36-1h1v1h-1m3-1h1v1h-1m2-1h1v1h-1m2-1h1v1h-1m33-1h1v1h-1m11-1h1v1h-1m-92 0h1v1h-1m3-1h5v1h-5m7-1h32v1h-32m33-1h2v1h-2m3-1h1v1h-1m10-1h1v1h-1m3-1h1v1h-1m27-1h1v1h-1m-94 0h1v1h-1m12-1h3v1h-3m4-1h29v1h-29m30-1h4v1h-4m6-1h4v1h-4m55-1h1v1h-1m-98 0h2v1h-2m3-1h3v1h-3m4-1h37v1h-37m38-1h1v1h-1m-43 0h2v1h-2m3-1h36v1h-36m37-1h2v1h-2m3-1h1v1h-1m3-1h1v1h-1m15-1h1v1h-1m-63 0h2v1h-2m7-1h37v1h-37m46-1h1v1h-1m-49 0h32v1h-32m33-1h5v1h-5m7-1h1v1h-1m7-1h1v1h-1m-50 0h3v1h-3m4-1h6v1h-6m7-1h24v1h-24m25-1h3v1h-3m4-1h3v1h-3m7-1h2v1h-2m3-1h1v1h-1m8-1h1v1h-1m-59 0h3v1h-3m6-1h4v1h-4m5-1h25v1h-25m27-1h2v1h-2m4-1h2v1h-2m3-1h2v1h-2m3-1h1v1h-1m-50 0h1v1h-1m2-1h1v1h-1m6-1h1v1h-1m3-1h25v1h-25m26-1h1v1h-1m4-1h1v1h-1m3-1h5v1h-5m10-1h1v1h-1m5-1h1v1h-1m45-1h1v1h-1m-97 0h1v1h-1m2-1h5v1h-5m6-1h2v1h-2m3-1h18v1h-18m19-1h6v1h-6m11-1h2v1h-2m4-1h1v1h-1m-52 0h1v1h-1m7-1h6v1h-6m7-1h5v1h-5m6-1h20v1h-20m22-1h2v1h-2m4-1h2v1h-2m3-1h1v1h-1m3-1h1v1h-1m6-1h1v1h-1m2-1h1v1h-1m-68 0h1v1h-1m11-1h1v1h-1m2-1h1v1h-1m2-1h28v1h-28m29-1h3v1h-3m5-1h3v1h-3m4-1h1v1h-1m4-1h1v1h-1m3-1h1v1h-1m7-1h1v1h-1m9-1h1v1h-1m-67 0h1v1h-1m5-1h31v1h-31m37-1h1v1h-1m13-1h1v1h-1m17-1h1v1h-1m-71 0h1v1h-1m4-1h1v1h-1m3-1h2v1h-2m3-1h2v1h-2m3-1h3v1h-3m4-1h14v1h-14m16-1h4v1h-4m6-1h1v1h-1m5-1h1v1h-1m25-1h1v1h-1m-66 0h2v1h-2m6-1h3v1h-3m5-1h4v1h-4m5-1h16v1h-16m18-1h2v1h-2m4-1h1v1h-1m6-1h1v1h-1m-46 0h1v1h-1m2-1h1v1h-1m6-1h2v1h-2m4-1h1v1h-1m2-1h1v1h-1m2-1h12v1h-12m13-1h1v1h-1m2-1h2v1h-2m3-1h1v1h-1m2-1h1v1h-1m3-1h2v1h-2m13-1h1v1h-1m-48 0h1v1h-1m3-1h1v1h-1m5-1h1v1h-1m2-1h2v1h-2m3-1h15v1h-15m16-1h3v1h-3m4-1h3v1h-3m15-1h1v1h-1m18-1h1v1h-1m2-1h1v1h-1m-66 0h1v1h-1m4-1h1v1h-1m3-1h7v1h-7m8-1h10v1h-10m11-1h3v1h-3m5-1h1v1h-1m32-1h1v1h-1m-61 0h2v1h-2m4-1h1v1h-1m3-1h15v1h-15m16-1h3v1h-3m8-1h1v1h-1m6-1h1v1h-1m4-1h1v1h-1m28-1h1v1h-1m-76 0h1v1h-1m11-1h3v1h-3m5-1h10v1h-10m11-1h1v1h-1m2-1h2v1h-2m7-1h1v1h-1m-34 0h1v1h-1m6-1h1v1h-1m3-1h1v1h-1m2-1h1v1h-1m5-1h9v1h-9m10-1h2v1h-2m4-1h2v1h-2m4-1h1v1h-1m2-1h1v1h-1m6-1h1v1h-1m-36 0h1v1h-1m2-1h2v1h-2m3-1h3v1h-3m5-1h12v1h-12m13-1h3v1h-3m4-1h1v1h-1m13-1h1v1h-1m4-1h1v1h-1m2-1h1v1h-1m-47 0h1v1h-1m5-1h2v1h-2m3-1h5v1h-5m6-1h7v1h-7m9-1h1v1h-1m8-1h1v1h-1m5-1h1v1h-1m18-1h1v1h-1m6-1h1v1h-1m-57 0h4v1h-4m6-1h14v1h-14m15-1h1v1h-1m3-1h1v1h-1m3-1h1v1h-1m-24 0h14v1h-14m15-1h1v1h-1m2-1h1v1h-1m4-1h2v1h-2m8-1h1v1h-1m24-1h1v1h-1m-53 0h4v1h-4m5-1h5v1h-5m6-1h1v1h-1m2-1h4v1h-4m8-1h1v1h-1m4-1h1v1h-1m-36 0h1v1h-1m8-1h1v1h-1m2-1h1v1h-1m2-1h3v1h-3m5-1h4v1h-4m5-1h4v1h-4m7-1h1v1h-1m2-1h3v1h-3m-24 0h1v1h-1m4-1h1v1h-1m2-1h3v1h-3m5-1h2v1h-2m3-1h6v1h-6m7-1h3v1h-3m9-1h2v1h-2m3-1h1v1h-1m15-1h1v1h-1m8-1h1v1h-1m4-1h1v1h-1m-54 0h9v1h-9m12-1h5v1h-5m6-1h1v1h-1m2-1h1v1h-1m3-1h2v1h-2m-33 0h2v1h-2m3-1h1v1h-1m5-1h3v1h-3m4-1h6v1h-6m8-1h1v1h-1m3-1h1v1h-1m2-1h2v1h-2m4-1h1v1h-1m5-1h1v1h-1m-31 0h1v1h-1m3-1h1v1h-1m3-1h1v1h-1m3-1h12v1h-12m13-1h1v1h-1m2-1h2v1h-2m12-1h1v1h-1m-37 0h2v1h-2m5-1h1v1h-1m3-1h1v1h-1m2-1h1v1h-1m2-1h8v1h-8m11-1h2v1h-2m-16 0h4v1h-4m5-1h8v1h-8m9-1h1v1h-1m2-1h2v1h-2m3-1h1v1h-1m-29 0h1v1h-1m10-1h1v1h-1m2-1h2v1h-2m4-1h4v1h-4m-6 0h3v1h-3m5-1h2v1h-2m3-1h2v1h-2m4-1h1v1h-1m-18 0h2v1h-2m3-1h3v1h-3m4-1h1v1h-1m2-1h1v1h-1m2-1h1v1h-1m2-1h3v1h-3m4-1h1v1h-1m3-1h1v1h-1m44-1h1v1h-1m-59 0h5v1h-5m6-1h1v1h-1m2-1h1v1h-1m4-1h1v1h-1m2-1h1v1h-1m2-1h2v1h-2m-42 0h1v1h-1m27-1h2v1h-2m5-1h9v1h-9m11-1h2v1h-2m13-1h1v1h-1m-37 0h1v1h-1m3-1h1v1h-1m7-1h4v1h-4m5-1h2v1h-2m5-1h1v1h-1m2-1h2v1h-2m6-1h1v1h-1m2-1h2v1h-2m-20 0h3v1h-3m5-1h1v1h-1m2-1h1v1h-1m2-1h1v1h-1m3-1h1v1h-1m4-1h1v1h-1m3-1h1v1h-1m4-1h1v1h-1m12-1h1v1h-1m-38 0h1v1h-1m5-1h2v1h-2m4-1h1v1h-1m2-1h1v1h-1m5-1h1v1h-1m-27 0h1v1h-1m10-1h1v1h-1m2-1h1v1h-1m2-1h1v1h-1m3-1h1v1h-1m6-1h1v1h-1m2-1h2v1h-2m6-1h1v1h-1m-20 0h1v1h-1m2-1h5v1h-5m6-1h1v1h-1m3-1h1v1h-1m2-1h1v1h-1m2-1h1v1h-1m3-1h1v1h-1m-21 0h1v1h-1m3-1h1v1h-1m2-1h1v1h-1m2-1h1v1h-1m4-1h1v1h-1m4-1h1v1h-1m3-1h1v1h-1m-12 0h1v1h-1m3-1h3v1h-3m6-1h1v1h-1m17-1h1v1h-1m-26 0h1v1h-1m3-1h1v1h-1m4-1h3v1h-3m5-1h1v1h-1m4-1h1v1h-1m-19 0h1v1h-1m3-1h1v1h-1m2-1h3v1h-3m10-1h1v1h-1m-15 0h1v1h-1m2-1h1v1h-1m3-1h1v1h-1m2-1h3v1h-3m5-1h2v1h-2m3-1h1v1h-1m6-1h1v1h-1m-18 0h1v1h-1m4-1h1v1h-1m2-1h1v1h-1m4-1h2v1h-2m3-1h2v1h-2m10-1h1v1h-1m-16 0h1v1h-1m6-1h1v1h-1m6-1h1v1h-1m-20 0h1v1h-1m6-1h2v1h-2m6-1h2v1h-2m22-1h1v1h-1m-42 0h1v1h-1m5-1h1v1h-1m2-1h2v1h-2m9-1h1v1h-1m2-1h1v1h-1m2-1h1v1h-1m2-1h2v1h-2m5-1h1v1h-1m2-1h1v1h-1m18-1h1v1h-1m4-1h1v1h-1m-56 0h1v1h-1m11-1h1v1h-1m2-1h2v1h-2m9-1h2v1h-2m7-1h1v1h-1m3-1h1v1h-1m-27 0h2v1h-2m9-1h1v1h-1m2-1h2v1h-2m4-1h1v1h-1m2-1h1v1h-1m2-1h2v1h-2m-18 0h1v1h-1m6-1h1v1h-1m2-1h1v1h-1m3-1h1v1h-1m2-1h1v1h-1m4-1h1v1h-1m8-1h1v1h-1m-21 0h1v1h-1m8-1h1v1h-1m3-1h4v1h-4m9-1h1v1h-1m-16 0h2v1h-2m3-1h1v1h-1m2-1h1v1h-1m3-1h1v1h-1m5-1h1v1h-1m3-1h1v1h-1m-22 0h1v1h-1m3-1h1v1h-1m2-1h2v1h-2m3-1h4v1h-4m5-1h2v1h-2m8-1h1v1h-1m-18 0h1v1h-1m4-1h3v1h-3m7-1h1v1h-1m2-1h3v1h-3m-25 0h1v1h-1m7-1h1v1h-1m2-1h1v1h-1m4-1h1v1h-1m3-1h4v1h-4m6-1h1v1h-1m3-1h1v1h-1m3-1h1v1h-1m10-1h2v1h-2m-33 0h1v1h-1m5-1h2v1h-2m5-1h1v1h-1m2-1h1v1h-1m6-1h6v1h-6m-20 0h1v1h-1m3-1h1v1h-1m3-1h2v1h-2m4-1h2v1h-2m3-1h5v1h-5m15-1h1v1h-1m4-1h1v1h-1m-29 0h1v1h-1m2-1h1v1h-1m2-1h3v1h-3m6-1h1v1h-1m3-1h1v1h-1m6-1h1v1h-1m28-1h1v1h-1m-52 0h1v1h-1m9-1h2v1h-2m3-1h12v1h-12m15-1h1v1h-1m2-1h1v1h-1m3-1h1v1h-1m20-1h1v1h-1m-48 0h1v1h-1m2-1h2v1h-2m6-1h3v1h-3m4-1h3v1h-3m4-1h1v1h-1m2-1h1v1h-1m3-1h1v1h-1m6-1h2v1h-2m5-1h1v1h-1m-27 0h2v1h-2m5-1h1v1h-1m2-1h7v1h-7m8-1h1v1h-1m2-1h1v1h-1m-20 0h1v1h-1m2-1h1v1h-1m4-1h2v1h-2m5-1h2v1h-2m3-1h3v1h-3m5-1h2v1h-2m6-1h2v1h-2m-21 0h1v1h-1m3-1h1v1h-1m2-1h1v1h-1m2-1h1v1h-1m2-1h5v1h-5m6-1h2v1h-2m5-1h3v1h-3m15-1h1v1h-1m-39 0h1v1h-1m2-1h1v1h-1m4-1h1v1h-1m3-1h6v1h-6m7-1h1v1h-1m2-1h3v1h-3m5-1h1v1h-1m-25 0h1v1h-1m4-1h1v1h-1m3-1h4v1h-4m8-1h1v1h-1m2-1h2v1h-2m3-1h4v1h-4m6-1h2v1h-2m-30 0h3v1h-3m8-1h1v1h-1m4-1h1v1h-1m2-1h1v1h-1m2-1h2v1h-2m6-1h2v1h-2m3-1h2v1h-2m13-1h1v1h-1m-42 0h1v1h-1m4-1h1v1h-1m7-1h1v1h-1m2-1h2v1h-2m4-1h10v1h-10m11-1h2v1h-2m3-1h3v1h-3m5-1h1v1h-1m-32 0h1v1h-1m2-1h1v1h-1m8-1h4v1h-4m5-1h6v1h-6m7-1h1v1h-1m2-1h2v1h-2m-26 0h1v1h-1m5-1h1v1h-1m5-1h3v1h-3m6-1h2v1h-2m4-1h1v1h-1m2-1h1v1h-1m2-1h2v1h-2m3-1h1v1h-1m4-1h1v1h-1m-25 0h1v1h-1m4-1h12v1h-12m13-1h6v1h-6m8-1h1v1h-1m-26 0h2v1h-2m4-1h2v1h-2m3-1h1v1h-1m2-1h6v1h-6m7-1h2v1h-2m3-1h3v1h-3m4-1h1v1h-1m2-1h2v1h-2m4-1h1v1h-1m-33 0h1v1h-1m8-1h3v1h-3m4-1h1v1h-1m3-1h4v1h-4m5-1h6v1h-6m7-1h2v1h-2m-27 0h1v1h-1m5-1h1v1h-1m3-1h6v1h-6m7-1h17v1h-17m-13 0h1v1h-1m2-1h2v1h-2m3-1h2v1h-2m3-1h3v1h-3m4-1h2v1h-2m3-1h6v1h-6m7-1h1v1h-1m4-1h2v1h-2m-23 0h3v1h-3m5-1h10v1h-10m11-1h1v1h-1m2-1h6v1h-6m-20 0h2v1h-2m3-1h3v1h-3m4-1h5v1h-5m7-1h11v1h-11m12-1h2v1h-2m-27 0h1v1h-1m2-1h1v1h-1m3-1h1v1h-1m3-1h1v1h-1m3-1h7v1h-7m9-1h1v1h-1m3-1h3v1h-3m4-1h2v1h-2m3-1h1v1h-1m-27 0h1v1h-1m4-1h3v1h-3m5-1h10v1h-10m11-1h4v1h-4m5-1h1v1h-1m-25 0h2v1h-2m3-1h2v1h-2m3-1h1v1h-1m2-1h3v1h-3m4-1h4v1h-4m5-1h8v1h-8m10-1h1v1h-1m-29 0h1v1h-1m3-1h1v1h-1m3-1h1v1h-1m2-1h1v1h-1m2-1h3v1h-3m4-1h11v1h-11m12-1h3v1h-3m-24 0h1v1h-1m6-1h16v1h-16m19-1h1v1h-1m-26 0h1v1h-1m2-1h2v1h-2m3-1h1v1h-1m2-1h3v1h-3m4-1h11v1h-11m13-1h1v1h-1m56-1h1v1h-1m-76 0h16v1h-16m17-1h3v1h-3m6-1h1v1h-1m-25 0h1v1h-1m2-1h1v1h-1m2-1h3v1h-3m5-1h5v1h-5m6-1h6v1h-6m-17 0h1v1h-1m2-1h1v1h-1m2-1h1v1h-1m2-1h3v1h-3m5-1h1v1h-1m2-1h11v1h-11m12-1h1v1h-1m2-1h2v1h-2m8-1h1v1h-1m-33 0h1v1h-1m2-1h9v1h-9m10-1h7v1h-7m8-1h1v1h-1m7-1h1v1h-1m36-1h1v1h-1m-67 0h1v1h-1m5-1h2v1h-2m6-1h1v1h-1m2-1h10v1h-10m11-1h1v1h-1m12-1h1v1h-1m-39 0h1v1h-1m5-1h1v1h-1m5-1h1v1h-1m2-1h1v1h-1m2-1h3v1h-3m5-1h5v1h-5m6-1h1v1h-1m3-1h1v1h-1m2-1h1v1h-1m3-1h1v1h-1m-32 0h1v1h-1m5-1h1v1h-1m4-1h1v1h-1m3-1h1v1h-1m2-1h1v1h-1m2-1h2v1h-2m3-1h6v1h-6m9-1h1v1h-1m3-1h1v1h-1m-25 0h1v1h-1m3-1h2v1h-2m4-1h1v1h-1m2-1h4v1h-4m5-1h1v1h-1m2-1h4v1h-4m5-1h1v1h-1m-19 0h2v1h-2m4-1h4v1h-4m5-1h1v1h-1m2-1h1v1h-1m2-1h1v1h-1m2-1h3v1h-3m7-1h1v1h-1m-27 0h1v1h-1m3-1h1v1h-1m3-1h1v1h-1m2-1h1v1h-1m5-1h4v1h-4m5-1h1v1h-1m2-1h1v1h-1m12-1h1v1h-1m-31 0h1v1h-1m3-1h3v1h-3m5-1h1v1h-1m2-1h3v1h-3m7-1h1v1h-1m4-1h2v1h-2m4-1h1v1h-1m19-1h1v1h-1m-55 0h1v1h-1m6-1h1v1h-1m6-1h1v1h-1m3-1h2v1h-2m4-1h5v1h-5m6-1h1v1h-1m3-1h2v1h-2m5-1h1v1h-1m2-1h1v1h-1m2-1h1v1h-1m-24 0h1v1h-1m5-1h2v1h-2m3-1h2v1h-2m3-1h1v1h-1m2-1h5v1h-5m7-1h1v1h-1m2-1h1v1h-1m-20 0h1v1h-1m4-1h9v1h-9m10-1h4v1h-4m6-1h1v1h-1m2-1h1v1h-1m-22 0h2v1h-2m5-1h1v1h-1m2-1h5v1h-5m6-1h3v1h-3m5-1h1v1h-1m-12 0h2v1h-2m3-1h6v1h-6m7-1h2v1h-2m3-1h1v1h-1m-19 0h2v1h-2m4-1h1v1h-1m5-1h1v1h-1m5-1h1v1h-1m2-1h1v1h-1m2-1h1v1h-1m-18 0h1v1h-1m3-1h1v1h-1m5-1h1v1h-1m15-1h1v1h-1m-23 0h1v1h-1m9-1h3v1h-3m6-1h1v1h-1m2-1h1v1h-1m8-1h1v1h-1m-20 0h1v1h-1m3-1h2v1h-2m8-1h1v1h-1m4-1h1v1h-1m2-1h1v1h-1m-24 0h1v1h-1m7-1h1v1h-1m2-1h1v1h-1m2-1h1v1h-1m2-1h3v1h-3m4-1h1v1h-1m-12 0h1v1h-1m2-1h1v1h-1m3-1h1v1h-1m-3 0h1v1h-1m8 0h1v1h-1m5-1h1v1h-1m-15 0h1v1h-1m10-1h1v1h-1m-16 0h1v1h-1m7-1h1v1h-1m9-1h1v1h-1m4-1h2v1h-2m-14 0h2v1h-2m6-1h1v1h-1m10-1h1v1h-1m-22 0h1v1h-1m7-1h1v1h-1m6-1h1v1h-1m6-1h1v1h-1m-4 0h1v1h-1m-4 0h1v1h-1m-2 0h1v1h-1m6-1h1v1h-1m-13 0h1v1h-1m5 1h1v1h-1m7-1h1v1h-1m1 5h1v1h-1" fill="#e8380f" opacity="1.0"/>
<line x1="217.5" y1="37.5" x2="335" y2="37.5" stroke="#d8d8d8" stroke-width="0.6"/>
<line x1="335" y1="37.5" x2="335" y2="154.3" stroke="#8a8a8a" stroke-width="0.6"/>
<line x1="217.5" y1="37.5" x2="217.5" y2="154.3" stroke="#4a4a4a" stroke-width="0.8"/>
<line x1="217.5" y1="154.3" x2="335" y2="154.3" stroke="#4a4a4a" stroke-width="0.8"/>
<path d="M213.9 41.9H217.5M213.9 65.0H217.5M213.9 88.3H217.5M213.9 115.6H217.5M213.9 147.7H217.5" stroke="#222" stroke-width="1.2"/>
<path d="M215.6 58.0H217.5M215.6 54.0H217.5M215.6 51.1H217.5M215.6 48.9H217.5M215.6 47.0H217.5M215.6 45.5H217.5M215.6 44.1H217.5M215.6 43.0H217.5M215.6 81.3H217.5M215.6 77.2H217.5M215.6 74.3H217.5M215.6 72.0H217.5M215.6 70.2H217.5M215.6 68.6H217.5M215.6 67.3H217.5M215.6 66.1H217.5M215.6 107.4H217.5M215.6 102.6H217.5M215.6 99.2H217.5M215.6 96.5H217.5M215.6 94.4H217.5M215.6 92.5H217.5M215.6 90.9H217.5M215.6 89.5H217.5M215.6 127.5H217.5M215.6 135.6H217.5M215.6 124.3H217.5M215.6 138.8H217.5M215.6 121.6H217.5M215.6 141.5H217.5M215.6 119.1H217.5M215.6 144.1H217.5M215.6 117.2H217.5M215.6 146.1H217.5" stroke="#2a2a2a" stroke-width="0.7"/>
<rect x="214.3" y="129.9" width="2.6" height="3.2" fill="#111"/>
<path d="M224.5 154.3V157.5M256.5 154.3V157.5M283.5 154.3V157.5M306.3 154.3V157.5M328.5 154.3V157.5" stroke="#222" stroke-width="1.2"/>
<path d="M264.6 154.3V156.2M269.4 154.3V156.2M272.8 154.3V156.2M275.4 154.3V156.2M277.5 154.3V156.2M279.3 154.3V156.2M280.9 154.3V156.2M282.3 154.3V156.2M290.4 154.3V156.2M294.4 154.3V156.2M297.2 154.3V156.2M299.4 154.3V156.2M301.2 154.3V156.2M302.8 154.3V156.2M304.1 154.3V156.2M305.3 154.3V156.2M313.0 154.3V156.2M316.9 154.3V156.2M319.7 154.3V156.2M321.8 154.3V156.2M323.6 154.3V156.2M325.1 154.3V156.2M326.3 154.3V156.2M327.5 154.3V156.2M244.6 154.3V156.2M236.6 154.3V156.2M247.8 154.3V156.2M233.4 154.3V156.2M250.5 154.3V156.2M230.6 154.3V156.2M253.0 154.3V156.2M228.0 154.3V156.2M254.9 154.3V156.2M226.1 154.3V156.2" stroke="#2a2a2a" stroke-width="0.7"/>
<rect x="238.6" y="154.7" width="4" height="2.4" fill="#111"/>
<text transform="translate(197.70,45.00)" font-size="8.8" text-anchor="start" fill="#333" font-weight="normal" stroke="#333" stroke-width="0.25" textLength="12.8" lengthAdjust="spacingAndGlyphs">10<tspan font-size="6.51" dy="-3.2">6</tspan></text>
<text transform="translate(197.70,68.10)" font-size="8.8" text-anchor="start" fill="#333" font-weight="normal" stroke="#333" stroke-width="0.25" textLength="12.8" lengthAdjust="spacingAndGlyphs">10<tspan font-size="6.51" dy="-3.2">5</tspan></text>
<text transform="translate(197.70,91.40)" font-size="8.8" text-anchor="start" fill="#333" font-weight="normal" stroke="#333" stroke-width="0.25" textLength="12.8" lengthAdjust="spacingAndGlyphs">10<tspan font-size="6.51" dy="-3.2">4</tspan></text>
<text transform="translate(197.70,118.70)" font-size="8.8" text-anchor="start" fill="#333" font-weight="normal" stroke="#333" stroke-width="0.25" textLength="12.8" lengthAdjust="spacingAndGlyphs">10<tspan font-size="6.51" dy="-3.2">3</tspan></text>
<text transform="translate(210.50,134.60) scale(0.97,1)" font-size="8.8" text-anchor="end" fill="#333" font-weight="normal" stroke="#333" stroke-width="0.25">0</text>
<text transform="translate(192.50,150.80)" font-size="8.8" text-anchor="start" fill="#333" font-weight="normal" stroke="#333" stroke-width="0.25" textLength="18.0" lengthAdjust="spacingAndGlyphs">−10<tspan font-size="6.51" dy="-3.2">3</tspan></text>
<text transform="translate(239.90,170.00) scale(0.97,1)" font-size="8.8" text-anchor="middle" fill="#333" font-weight="normal" stroke="#333" stroke-width="0.25">0</text>
<text transform="translate(276.20,170.00)" font-size="8.8" text-anchor="start" fill="#333" font-weight="normal" stroke="#333" stroke-width="0.25" textLength="12.8" lengthAdjust="spacingAndGlyphs">10<tspan font-size="6.51" dy="-3.2">4</tspan></text>
<text transform="translate(300.10,170.00)" font-size="8.8" text-anchor="start" fill="#333" font-weight="normal" stroke="#333" stroke-width="0.25" textLength="12.8" lengthAdjust="spacingAndGlyphs">10<tspan font-size="6.51" dy="-3.2">5</tspan></text>
<text transform="translate(321.30,170.00)" font-size="8.8" text-anchor="start" fill="#333" font-weight="normal" stroke="#333" stroke-width="0.25" textLength="12.8" lengthAdjust="spacingAndGlyphs">10<tspan font-size="6.51" dy="-3.2">6</tspan></text>
<text transform="translate(274.40,31.60)" font-size="8.95" text-anchor="middle" fill="#333" font-weight="normal" >No Thrombin</text>
<rect x="223.3" y="52.6" width="103.7" height="46.2" fill="none" stroke="#2a2a2a" stroke-width="0.95"/>
<rect x="231.3" y="109.4" width="21.7" height="32.1" fill="none" stroke="#2a2a2a" stroke-width="0.95"/>
<path d="M181.7 149.5V176.7H209.8" stroke="#111" stroke-width="1.5" fill="none" stroke-linejoin="miter"/>
<path d="M181.7 144.5l-3.7 8.8l3.7 -2.3l3.7 2.3z" fill="#111"/>
<path d="M214.8 176.7l-8.8 -3.7l2.3 3.7l-2.3 3.7z" fill="#111"/>
<text transform="translate(217.60,179.50)" font-size="9.8" text-anchor="start" fill="#2a2a2a" font-weight="normal" stroke="#2a2a2a" stroke-width="0.42" textLength="20.0" lengthAdjust="spacingAndGlyphs">PAC-1</text>
<text transform="translate(185.20,141.20) rotate(-90)" font-size="9.8" text-anchor="start" fill="#2a2a2a" font-weight="normal" stroke="#2a2a2a" stroke-width="0.42" textLength="24.0" lengthAdjust="spacingAndGlyphs">GPIbα</text>
<text transform="translate(353.50,18.00)" font-size="12.4" text-anchor="start" fill="#111" font-weight="bold" >C</text>
<ellipse cx="0" cy="0" rx="6.8" ry="3.8" transform="translate(446.0,79.5) rotate(-30)" fill="#e8380f" opacity="1.0" filter="url(#b15)"/>
<path transform="scale(0.6)" d="M641 91h1v1h-1m57 1h1v1h-1m-19 11h1v1h-1m32 1h1v1h-1m35-1h1v1h-1m-5 0h1v1h-1m47-1h1v1h-1m-29 0h1v1h-1m-14 0h1v1h-1m19-1h1v1h-1m7-1h1v1h-1m-101 0h1v1h-1m36-1h1v1h-1m9-1h1v1h-1m2-1h1v1h-1m5-1h1v1h-1m14-1h1v1h-1m7-1h1v1h-1m-34 0h1v1h-1m5-1h2v1h-2m12-1h1v1h-1m5-1h1v1h-1m14-1h1v1h-1m13-1h2v1h-2m9-1h1v1h-1m-58 0h1v1h-1m19-1h1v1h-1m3-1h2v1h-2m5-1h1v1h-1m3-1h1v1h-1m15-1h1v1h-1m4-1h1v1h-1m-69 0h1v1h-1m16-1h1v1h-1m11-1h1v1h-1m6-1h1v1h-1m5-1h1v1h-1m16-1h2v1h-2m7-1h1v1h-1m6-1h1v1h-1m11-1h1v1h-1m2-1h1v1h-1m-70 0h1v1h-1m21-1h2v1h-2m20-1h1v1h-1m8-1h1v1h-1m2-1h1v1h-1m3-1h2v1h-2m6-1h1v1h-1m5-1h1v1h-1m3-1h1v1h-1m6-1h1v1h-1m-85 0h1v1h-1m14-1h1v1h-1m26-1h2v1h-2m7-1h1v1h-1m2-1h3v1h-3m5-1h1v1h-1m2-1h4v1h-4m5-1h3v1h-3m6-1h3v1h-3m5-1h1v1h-1m3-1h1v1h-1m5-1h1v1h-1m-66 0h1v1h-1m2-1h1v1h-1m10-1h1v1h-1m2-1h1v1h-1m2-1h1v1h-1m11-1h2v1h-2m6-1h1v1h-1m5-1h1v1h-1m2-1h1v1h-1m3-1h2v1h-2m4-1h1v1h-1m2-1h2v1h-2m3-1h3v1h-3m4-1h2v1h-2m6-1h1v1h-1m5-1h1v1h-1m-74 0h1v1h-1m9-1h1v1h-1m5-1h1v1h-1m5-1h1v1h-1m4-1h1v1h-1m10-1h2v1h-2m3-1h2v1h-2m3-1h2v1h-2m3-1h6v1h-6m8-1h6v1h-6m7-1h9v1h-9m10-1h1v1h-1m4-1h1v1h-1m4-1h1v1h-1m-87 0h1v1h-1m13-1h1v1h-1m9-1h1v1h-1m12-1h1v1h-1m6-1h1v1h-1m6-1h2v1h-2m3-1h1v1h-1m2-1h1v1h-1m2-1h1v1h-1m2-1h2v1h-2m3-1h1v1h-1m2-1h3v1h-3m4-1h4v1h-4m5-1h11v1h-11m13-1h1v1h-1m2-1h1v1h-1m-97 0h1v1h-1m19-1h1v1h-1m12-1h1v1h-1m5-1h1v1h-1m5-1h1v1h-1m3-1h1v1h-1m2-1h1v1h-1m9-1h3v1h-3m4-1h1v1h-1m4-1h2v1h-2m3-1h1v1h-1m2-1h3v1h-3m4-1h1v1h-1m2-1h15v1h-15m17-1h4v1h-4m5-1h1v1h-1m3-1h1v1h-1m5-1h1v1h-1m-85 0h1v1h-1m15-1h3v1h-3m11-1h2v1h-2m8-1h2v1h-2m3-1h2v1h-2m4-1h1v1h-1m2-1h1v1h-1m2-1h2v1h-2m3-1h28v1h-28m32-1h1v1h-1m-83 0h1v1h-1m5-1h1v1h-1m13-1h1v1h-1m2-1h1v1h-1m3-1h2v1h-2m7-1h1v1h-1m2-1h3v1h-3m9-1h2v1h-2m3-1h15v1h-15m16-1h20v1h-20m21-1h1v1h-1m2-1h1v1h-1m-115 0h1v1h-1m2-1h1v1h-1m14-1h1v1h-1m5-1h1v1h-1m14-1h1v1h-1m2-1h1v1h-1m10-1h1v1h-1m7-1h1v1h-1m5-1h3v1h-3m6-1h1v1h-1m3-1h1v1h-1m2-1h6v1h-6m8-1h6v1h-6m7-1h24v1h-24m28-1h1v1h-1m-101 0h1v1h-1m27-1h1v1h-1m11-1h2v1h-2m4-1h1v1h-1m8-1h2v1h-2m3-1h1v1h-1m4-1h3v1h-3m4-1h3v1h-3m4-1h34v1h-34m-93 0h1v1h-1m46-1h1v1h-1m19-1h2v1h-2m4-1h1v1h-1m6-1h7v1h-7m8-1h1v1h-1m2-1h46v1h-46m66-1h1v1h-1m-134 0h1v1h-1m11-1h1v1h-1m10-1h1v1h-1m5-1h3v1h-3m8-1h1v1h-1m5-1h1v1h-1m3-1h2v1h-2m3-1h4v1h-4m9-1h1v1h-1m2-1h5v1h-5m6-1h1v1h-1m3-1h1v1h-1m2-1h3v1h-3m4-1h33v1h-33m34-1h2v1h-2m5-1h1v1h-1m2-1h1v1h-1m12-1h1v1h-1m-124 0h1v1h-1m6-1h1v1h-1m5-1h1v1h-1m4-1h1v1h-1m4-1h2v1h-2m8-1h1v1h-1m4-1h2v1h-2m3-1h1v1h-1m4-1h1v1h-1m2-1h1v1h-1m4-1h2v1h-2m5-1h2v1h-2m3-1h1v1h-1m4-1h2v1h-2m4-1h3v1h-3m6-1h8v1h-8m9-1h32v1h-32m-71 0h1v1h-1m15-1h1v1h-1m2-1h3v1h-3m11-1h1v1h-1m4-1h2v1h-2m3-1h1v1h-1m5-1h1v1h-1m2-1h1v1h-1m2-1h1v1h-1m3-1h2v1h-2m3-1h1v1h-1m2-1h3v1h-3m6-1h2v1h-2m3-1h1v1h-1m2-1h41v1h-41m-46 0h2v1h-2m3-1h1v1h-1m2-1h1v1h-1m4-1h2v1h-2m4-1h1v1h-1m2-1h2v1h-2m3-1h5v1h-5m7-1h1v1h-1m3-1h2v1h-2m6-1h3v1h-3m5-1h1v1h-1m2-1h42v1h-42m43-1h3v1h-3m11-1h1v1h-1m-114 0h1v1h-1m26-1h2v1h-2m3-1h2v1h-2m5-1h5v1h-5m7-1h2v1h-2m5-1h3v1h-3m4-1h1v1h-1m3-1h5v1h-5m6-1h1v1h-1m3-1h3v1h-3m4-1h39v1h-39m-67 0h1v1h-1m18-1h1v1h-1m2-1h1v1h-1m6-1h1v1h-1m2-1h1v1h-1m5-1h2v1h-2m3-1h1v1h-1m4-1h1v1h-1m2-1h2v1h-2m6-1h2v1h-2m4-1h2v1h-2m3-1h3v1h-3m4-1h45v1h-45m50-1h1v1h-1m-100 0h1v1h-1m15-1h2v1h-2m6-1h3v1h-3m5-1h2v1h-2m3-1h1v1h-1m3-1h1v1h-1m2-1h4v1h-4m6-1h2v1h-2m3-1h10v1h-10m11-1h41v1h-41m43-1h1v1h-1m2-1h1v1h-1m2-1h1v1h-1m-110 0h1v1h-1m7-1h1v1h-1m7-1h1v1h-1m3-1h2v1h-2m6-1h2v1h-2m3-1h1v1h-1m2-1h4v1h-4m6-1h3v1h-3m4-1h2v1h-2m4-1h5v1h-5m6-1h1v1h-1m2-1h1v1h-1m2-1h5v1h-5m6-1h1v1h-1m4-1h43v1h-43m-55 0h1v1h-1m10-1h1v1h-1m2-1h1v1h-1m2-1h1v1h-1m2-1h1v1h-1m6-1h3v1h-3m4-1h1v1h-1m4-1h2v1h-2m3-1h1v1h-1m2-1h4v1h-4m6-1h1v1h-1m2-1h3v1h-3m4-1h2v1h-2m3-1h5v1h-5m6-1h37v1h-37m38-1h1v1h-1m2-1h1v1h-1m2-1h2v1h-2m-105 0h1v1h-1m7-1h1v1h-1m5-1h1v1h-1m3-1h4v1h-4m5-1h1v1h-1m7-1h2v1h-2m3-1h1v1h-1m3-1h4v1h-4m5-1h10v1h-10m11-1h2v1h-2m4-1h50v1h-50m53-1h1v1h-1m2-1h1v1h-1m-119 0h1v1h-1m18-1h1v1h-1m4-1h1v1h-1m12-1h1v1h-1m6-1h1v1h-1m2-1h2v1h-2m3-1h7v1h-7m8-1h2v1h-2m3-1h4v1h-4m5-1h1v1h-1m2-1h7v1h-7m9-1h3v1h-3m4-1h35v1h-35m37-1h1v1h-1m-111 0h1v1h-1m8-1h1v1h-1m9-1h1v1h-1m6-1h1v1h-1m5-1h1v1h-1m6-1h2v1h-2m3-1h1v1h-1m3-1h3v1h-3m4-1h6v1h-6m8-1h4v1h-4m5-1h2v1h-2m3-1h50v1h-50m-67 0h1v1h-1m6-1h1v1h-1m9-1h1v1h-1m14-1h2v1h-2m11-1h3v1h-3m6-1h2v1h-2m3-1h1v1h-1m2-1h3v1h-3m5-1h6v1h-6m8-1h7v1h-7m8-1h3v1h-3m4-1h35v1h-35m37-1h1v1h-1m2-1h2v1h-2m-100 0h1v1h-1m9-1h1v1h-1m3-1h2v1h-2m7-1h2v1h-2m3-1h5v1h-5m6-1h5v1h-5m6-1h3v1h-3m4-1h6v1h-6m7-1h2v1h-2m4-1h1v1h-1m2-1h1v1h-1m2-1h8v1h-8m9-1h36v1h-36m37-1h1v1h-1m2-1h1v1h-1m2-1h2v1h-2m-106 0h1v1h-1m3-1h1v1h-1m5-1h1v1h-1m2-1h1v1h-1m9-1h1v1h-1m2-1h3v1h-3m4-1h1v1h-1m3-1h1v1h-1m2-1h2v1h-2m5-1h3v1h-3m6-1h4v1h-4m5-1h1v1h-1m2-1h4v1h-4m6-1h1v1h-1m5-1h2v1h-2m3-1h4v1h-4m5-1h35v1h-35m38-1h1v1h-1m12-1h1v1h-1m10-1h1v1h-1m5-1h1v1h-1m-123 0h1v1h-1m8-1h1v1h-1m2-1h2v1h-2m3-1h2v1h-2m3-1h1v1h-1m2-1h3v1h-3m6-1h2v1h-2m4-1h1v1h-1m3-1h4v1h-4m5-1h3v1h-3m4-1h3v1h-3m5-1h8v1h-8m9-1h40v1h-40m-60 0h1v1h-1m4-1h2v1h-2m3-1h1v1h-1m5-1h1v1h-1m4-1h3v1h-3m6-1h1v1h-1m5-1h2v1h-2m3-1h2v1h-2m5-1h1v1h-1m2-1h1v1h-1m5-1h5v1h-5m6-1h2v1h-2m4-1h6v1h-6m7-1h3v1h-3m4-1h2v1h-2m3-1h25v1h-25m27-1h1v1h-1m3-1h1v1h-1m2-1h2v1h-2m6-1h1v1h-1m-106 0h1v1h-1m2-1h1v1h-1m6-1h1v1h-1m7-1h2v1h-2m6-1h2v1h-2m6-1h4v1h-4m5-1h1v1h-1m2-1h8v1h-8m9-1h6v1h-6m7-1h5v1h-5m6-1h1v1h-1m4-1h1v1h-1m2-1h8v1h-8m9-1h24v1h-24m25-1h1v1h-1m2-1h2v1h-2m4-1h1v1h-1m-100 0h1v1h-1m6-1h2v1h-2m4-1h1v1h-1m3-1h1v1h-1m2-1h1v1h-1m2-1h8v1h-8m11-1h14v1h-14m15-1h1v1h-1m2-1h2v1h-2m3-1h3v1h-3m4-1h6v1h-6m7-1h1v1h-1m2-1h3v1h-3m4-1h22v1h-22m23-1h8v1h-8m13-1h1v1h-1m5-1h1v1h-1m-111 0h1v1h-1m13-1h1v1h-1m3-1h3v1h-3m4-1h2v1h-2m3-1h1v1h-1m6-1h2v1h-2m4-1h3v1h-3m4-1h3v1h-3m4-1h4v1h-4m5-1h2v1h-2m3-1h4v1h-4m5-1h1v1h-1m2-1h1v1h-1m2-1h8v1h-8m9-1h29v1h-29m30-1h2v1h-2m5-1h1v1h-1m-94 0h1v1h-1m4-1h4v1h-4m5-1h2v1h-2m4-1h1v1h-1m3-1h1v1h-1m4-1h2v1h-2m3-1h1v1h-1m4-1h6v1h-6m8-1h2v1h-2m3-1h6v1h-6m7-1h5v1h-5m6-1h3v1h-3m4-1h7v1h-7m8-1h26v1h-26m27-1h1v1h-1m3-1h1v1h-1m-115 0h1v1h-1m7-1h1v1h-1m3-1h1v1h-1m6-1h2v1h-2m5-1h1v1h-1m2-1h1v1h-1m4-1h2v1h-2m3-1h1v1h-1m2-1h4v1h-4m5-1h2v1h-2m7-1h3v1h-3m4-1h1v1h-1m2-1h1v1h-1m2-1h1v1h-1m2-1h4v1h-4m5-1h3v1h-3m7-1h1v1h-1m2-1h6v1h-6m7-1h4v1h-4m6-1h1v1h-1m3-1h2v1h-2m3-1h3v1h-3m4-1h17v1h-17m18-1h1v1h-1m2-1h1v1h-1m3-1h1v1h-1m4-1h1v1h-1m-116 0h1v1h-1m24-1h1v1h-1m3-1h3v1h-3m4-1h3v1h-3m6-1h2v1h-2m5-1h1v1h-1m2-1h1v1h-1m2-1h3v1h-3m4-1h2v1h-2m4-1h2v1h-2m3-1h1v1h-1m3-1h1v1h-1m2-1h1v1h-1m3-1h8v1h-8m11-1h1v1h-1m3-1h1v1h-1m3-1h1v1h-1m2-1h1v1h-1m2-1h1v1h-1m3-1h6v1h-6m7-1h7v1h-7m8-1h1v1h-1m3-1h3v1h-3m13-1h1v1h-1m-109 0h1v1h-1m9-1h1v1h-1m4-1h2v1h-2m6-1h3v1h-3m5-1h3v1h-3m4-1h3v1h-3m5-1h2v1h-2m3-1h1v1h-1m2-1h1v1h-1m3-1h1v1h-1m3-1h6v1h-6m7-1h3v1h-3m4-1h3v1h-3m5-1h1v1h-1m2-1h4v1h-4m5-1h1v1h-1m2-1h4v1h-4m6-1h1v1h-1m2-1h1v1h-1m3-1h3v1h-3m5-1h6v1h-6m7-1h1v1h-1m3-1h3v1h-3m10-1h1v1h-1m11-1h1v1h-1m38-1h1v1h-1m-158 0h1v1h-1m11-1h1v1h-1m3-1h5v1h-5m11-1h1v1h-1m3-1h4v1h-4m5-1h1v1h-1m2-1h2v1h-2m3-1h4v1h-4m6-1h2v1h-2m3-1h5v1h-5m6-1h1v1h-1m2-1h2v1h-2m4-1h2v1h-2m4-1h3v1h-3m4-1h1v1h-1m3-1h8v1h-8m9-1h1v1h-1m2-1h10v1h-10m12-1h3v1h-3m5-1h1v1h-1m2-1h1v1h-1m16-1h1v1h-1m-112 0h1v1h-1m7-1h2v1h-2m3-1h1v1h-1m3-1h1v1h-1m2-1h3v1h-3m4-1h2v1h-2m4-1h1v1h-1m3-1h2v1h-2m3-1h1v1h-1m2-1h2v1h-2m3-1h3v1h-3m4-1h3v1h-3m4-1h2v1h-2m3-1h2v1h-2m3-1h1v1h-1m2-1h3v1h-3m4-1h1v1h-1m2-1h4v1h-4m7-1h1v1h-1m6-1h1v1h-1m6-1h2v1h-2m3-1h1v1h-1m2-1h6v1h-6m7-1h2v1h-2m3-1h2v1h-2m3-1h3v1h-3m8-1h1v1h-1m-103 0h1v1h-1m8-1h1v1h-1m4-1h1v1h-1m2-1h1v1h-1m3-1h3v1h-3m4-1h1v1h-1m4-1h1v1h-1m2-1h3v1h-3m5-1h1v1h-1m3-1h1v1h-1m2-1h2v1h-2m3-1h1v1h-1m2-1h1v1h-1m3-1h2v1h-2m3-1h2v1h-2m3-1h5v1h-5m6-1h1v1h-1m2-1h1v1h-1m2-1h6v1h-6m8-1h3v1h-3m5-1h1v1h-1m3-1h1v1h-1m2-1h1v1h-1m2-1h1v1h-1m3-1h1v1h-1m2-1h3v1h-3m4-1h1v1h-1m-87 0h1v1h-1m4-1h1v1h-1m4-1h1v1h-1m9-1h4v1h-4m5-1h2v1h-2m3-1h3v1h-3m5-1h1v1h-1m4-1h4v1h-4m5-1h5v1h-5m6-1h1v1h-1m4-1h1v1h-1m3-1h1v1h-1m2-1h5v1h-5m8-1h6v1h-6m8-1h3v1h-3m5-1h2v1h-2m5-1h1v1h-1m3-1h4v1h-4m5-1h2v1h-2m6-1h1v1h-1m4-1h1v1h-1m3-1h1v1h-1m-106 0h1v1h-1m5-1h1v1h-1m2-1h1v1h-1m3-1h1v1h-1m5-1h1v1h-1m5-1h7v1h-7m8-1h2v1h-2m3-1h6v1h-6m8-1h1v1h-1m2-1h1v1h-1m2-1h1v1h-1m3-1h2v1h-2m3-1h1v1h-1m2-1h3v1h-3m4-1h4v1h-4m5-1h1v1h-1m5-1h1v1h-1m3-1h1v1h-1m2-1h2v1h-2m3-1h6v1h-6m7-1h1v1h-1m5-1h1v1h-1m3-1h2v1h-2m3-1h1v1h-1m4-1h1v1h-1m6-1h1v1h-1m7-1h1v1h-1m-104 0h1v1h-1m10-1h2v1h-2m7-1h1v1h-1m5-1h2v1h-2m4-1h1v1h-1m2-1h5v1h-5m6-1h4v1h-4m7-1h1v1h-1m2-1h1v1h-1m2-1h3v1h-3m5-1h1v1h-1m3-1h2v1h-2m3-1h1v1h-1m3-1h1v1h-1m3-1h1v1h-1m2-1h1v1h-1m7-1h1v1h-1m8-1h1v1h-1m2-1h1v1h-1m2-1h1v1h-1m7-1h2v1h-2m5-1h2v1h-2m10-1h1v1h-1m67-1h1v1h-1m-179 0h1v1h-1m5-1h1v1h-1m3-1h1v1h-1m3-1h1v1h-1m5-1h1v1h-1m4-1h1v1h-1m3-1h2v1h-2m3-1h1v1h-1m3-1h4v1h-4m11-1h1v1h-1m5-1h1v1h-1m2-1h1v1h-1m2-1h1v1h-1m3-1h5v1h-5m6-1h1v1h-1m2-1h2v1h-2m5-1h1v1h-1m9-1h2v1h-2m5-1h1v1h-1m3-1h1v1h-1m2-1h2v1h-2m13-1h2v1h-2m-86 0h1v1h-1m3-1h2v1h-2m3-1h1v1h-1m2-1h1v1h-1m3-1h1v1h-1m5-1h2v1h-2m8-1h1v1h-1m2-1h1v1h-1m2-1h2v1h-2m3-1h2v1h-2m3-1h3v1h-3m5-1h1v1h-1m2-1h1v1h-1m7-1h1v1h-1m2-1h1v1h-1m2-1h1v1h-1m2-1h2v1h-2m21-1h1v1h-1m7-1h1v1h-1m2-1h1v1h-1m3-1h1v1h-1m24-1h1v1h-1m-109 0h4v1h-4m8-1h1v1h-1m2-1h1v1h-1m2-1h1v1h-1m2-1h3v1h-3m4-1h2v1h-2m4-1h2v1h-2m4-1h1v1h-1m3-1h1v1h-1m6-1h1v1h-1m9-1h1v1h-1m11-1h1v1h-1m5-1h1v1h-1m4-1h2v1h-2m3-1h2v1h-2m3-1h1v1h-1m3-1h1v1h-1m7-1h1v1h-1m10-1h1v1h-1m11-1h1v1h-1m32-1h1v1h-1m-136 0h1v1h-1m3-1h1v1h-1m5-1h1v1h-1m2-1h1v1h-1m3-1h1v1h-1m2-1h3v1h-3m4-1h1v1h-1m2-1h3v1h-3m4-1h1v1h-1m4-1h1v1h-1m5-1h1v1h-1m3-1h1v1h-1m4-1h1v1h-1m6-1h2v1h-2m14-1h1v1h-1m2-1h3v1h-3m18-1h2v1h-2m19-1h1v1h-1m-103 0h1v1h-1m10-1h5v1h-5m8-1h1v1h-1m2-1h2v1h-2m4-1h3v1h-3m6-1h2v1h-2m3-1h3v1h-3m8-1h4v1h-4m12-1h1v1h-1m4-1h2v1h-2m7-1h1v1h-1m3-1h1v1h-1m2-1h1v1h-1m-68 0h1v1h-1m6-1h1v1h-1m9-1h3v1h-3m4-1h1v1h-1m2-1h3v1h-3m4-1h3v1h-3m6-1h1v1h-1m2-1h2v1h-2m3-1h1v1h-1m5-1h4v1h-4m6-1h1v1h-1m4-1h1v1h-1m2-1h2v1h-2m19-1h1v1h-1m2-1h1v1h-1m11-1h1v1h-1m2-1h1v1h-1m-87 0h1v1h-1m5-1h1v1h-1m4-1h1v1h-1m2-1h2v1h-2m6-1h2v1h-2m3-1h1v1h-1m3-1h1v1h-1m2-1h1v1h-1m2-1h1v1h-1m3-1h2v1h-2m4-1h2v1h-2m11-1h1v1h-1m2-1h1v1h-1m5-1h1v1h-1m6-1h1v1h-1m3-1h1v1h-1m8-1h1v1h-1m3-1h2v1h-2m-71 0h1v1h-1m4-1h2v1h-2m8-1h1v1h-1m2-1h2v1h-2m5-1h3v1h-3m4-1h1v1h-1m2-1h3v1h-3m11-1h1v1h-1m32-1h1v1h-1m10-1h1v1h-1m8-1h1v1h-1m61-1h1v1h-1m-141 0h2v1h-2m5-1h2v1h-2m4-1h2v1h-2m4-1h5v1h-5m8-1h1v1h-1m8-1h1v1h-1m6-1h3v1h-3m7-1h1v1h-1m6-1h1v1h-1m13-1h1v1h-1m5-1h1v1h-1m5-1h1v1h-1m-77 0h1v1h-1m7-1h1v1h-1m2-1h1v1h-1m7-1h1v1h-1m2-1h4v1h-4m5-1h1v1h-1m2-1h1v1h-1m3-1h2v1h-2m5-1h1v1h-1m14-1h1v1h-1m4-1h1v1h-1m14-1h1v1h-1m-68 0h1v1h-1m10-1h1v1h-1m5-1h3v1h-3m4-1h2v1h-2m3-1h1v1h-1m2-1h1v1h-1m5-1h1v1h-1m2-1h1v1h-1m2-1h1v1h-1m6-1h1v1h-1m3-1h3v1h-3m8-1h1v1h-1m3-1h1v1h-1m4-1h1v1h-1m9-1h1v1h-1m22-1h1v1h-1m-78 0h2v1h-2m5-1h1v1h-1m6-1h2v1h-2m10-1h1v1h-1m5-1h3v1h-3m10-1h1v1h-1m-38 0h1v1h-1m2-1h1v1h-1m5-1h2v1h-2m5-1h1v1h-1m2-1h2v1h-2m5-1h1v1h-1m2-1h5v1h-5m26-1h1v1h-1m-41 0h1v1h-1m2-1h4v1h-4m5-1h3v1h-3m7-1h3v1h-3m4-1h2v1h-2m3-1h1v1h-1m22-1h1v1h-1m-48 0h3v1h-3m8-1h1v1h-1m2-1h1v1h-1m2-1h1v1h-1m3-1h1v1h-1m5-1h1v1h-1m3-1h1v1h-1m26-1h1v1h-1m-60 0h1v1h-1m10-1h1v1h-1m8-1h2v1h-2m3-1h1v1h-1m3-1h1v1h-1m3-1h1v1h-1m4-1h3v1h-3m9-1h1v1h-1m4-1h1v1h-1m5-1h1v1h-1m11-1h1v1h-1m-54 0h1v1h-1m4-1h1v1h-1m3-1h1v1h-1m4-1h1v1h-1m3-1h3v1h-3m4-1h4v1h-4m5-1h1v1h-1m9-1h1v1h-1m-36 0h1v1h-1m6-1h1v1h-1m3-1h1v1h-1m3-1h1v1h-1m3-1h1v1h-1m2-1h1v1h-1m4-1h1v1h-1m5-1h1v1h-1m11-1h3v1h-3m10-1h1v1h-1m54-1h1v1h-1m-88 0h1v1h-1m2-1h1v1h-1m3-1h1v1h-1m6-1h1v1h-1m4-1h2v1h-2m6-1h3v1h-3m32-1h1v1h-1m42-1h1v1h-1m-96 0h2v1h-2m3-1h3v1h-3m7-1h2v1h-2m6-1h2v1h-2m6-1h2v1h-2m3-1h1v1h-1m5-1h1v1h-1m26-1h1v1h-1m-64 0h1v1h-1m5-1h1v1h-1m2-1h1v1h-1m5-1h2v1h-2m4-1h1v1h-1m2-1h2v1h-2m3-1h1v1h-1m8-1h1v1h-1m5-1h1v1h-1m3-1h1v1h-1m8-1h1v1h-1m14-1h1v1h-1m-53 0h2v1h-2m3-1h1v1h-1m3-1h3v1h-3m4-1h2v1h-2m4-1h1v1h-1m5-1h1v1h-1m2-1h2v1h-2m14-1h1v1h-1m6-1h1v1h-1m-63 0h1v1h-1m32-1h1v1h-1m7-1h1v1h-1m2-1h1v1h-1m4-1h3v1h-3m4-1h1v1h-1m10-1h1v1h-1m36-1h1v1h-1m-68 0h2v1h-2m5-1h1v1h-1m8-1h1v1h-1m6-1h1v1h-1m-27 0h2v1h-2m3-1h1v1h-1m3-1h1v1h-1m2-1h2v1h-2m3-1h2v1h-2m4-1h2v1h-2m6-1h1v1h-1m2-1h1v1h-1m2-1h2v1h-2m5-1h1v1h-1m5-1h1v1h-1m2-1h1v1h-1m29-1h1v1h-1m-70 0h1v1h-1m9-1h1v1h-1m3-1h1v1h-1m4-1h1v1h-1m2-1h2v1h-2m12-1h2v1h-2m4-1h1v1h-1m8-1h1v1h-1m6-1h1v1h-1m-45 0h1v1h-1m3-1h2v1h-2m10-1h1v1h-1m5-1h1v1h-1m4-1h1v1h-1m5-1h1v1h-1m4-1h1v1h-1m6-1h1v1h-1m20-1h1v1h-1m-61 0h1v1h-1m11-1h1v1h-1m4-1h1v1h-1m4-1h1v1h-1m2-1h1v1h-1m2-1h2v1h-2m5-1h1v1h-1m3-1h1v1h-1m9-1h1v1h-1m-45 0h1v1h-1m21-1h2v1h-2m5-1h1v1h-1m7-1h1v1h-1m4-1h1v1h-1m12-1h1v1h-1m5-1h1v1h-1m26-1h1v1h-1m-74 0h1v1h-1m4-1h1v1h-1m7-1h1v1h-1m7-1h2v1h-2m4-1h3v1h-3m-14 0h1v1h-1m2-1h1v1h-1m2-1h1v1h-1m2-1h1v1h-1m7-1h2v1h-2m7-1h2v1h-2m-11 0h4v1h-4m8-1h1v1h-1m2-1h1v1h-1m2-1h1v1h-1m2-1h1v1h-1m-25 0h1v1h-1m4-1h1v1h-1m6-1h3v1h-3m5-1h1v1h-1m3-1h2v1h-2m6-1h2v1h-2m20-1h1v1h-1m25-1h1v1h-1m-86 0h1v1h-1m17-1h1v1h-1m5-1h1v1h-1m2-1h1v1h-1m3-1h1v1h-1m3-1h7v1h-7m15-1h1v1h-1m4-1h1v1h-1m3-1h1v1h-1m-30 0h1v1h-1m3-1h2v1h-2m4-1h1v1h-1m3-1h1v1h-1m2-1h2v1h-2m3-1h2v1h-2m7-1h1v1h-1m-25 0h1v1h-1m2-1h1v1h-1m4-1h2v1h-2m5-1h1v1h-1m2-1h2v1h-2m3-1h3v1h-3m5-1h1v1h-1m2-1h1v1h-1m9-1h1v1h-1m4-1h1v1h-1m30-1h1v1h-1m-80 0h1v1h-1m18-1h1v1h-1m2-1h5v1h-5m6-1h1v1h-1m3-1h2v1h-2m3-1h4v1h-4m7-1h1v1h-1m12-1h1v1h-1m-39 0h1v1h-1m2-1h1v1h-1m2-1h1v1h-1m2-1h1v1h-1m3-1h1v1h-1m3-1h1v1h-1m2-1h2v1h-2m7-1h1v1h-1m2-1h1v1h-1m4-1h3v1h-3m4-1h2v1h-2m-32 0h1v1h-1m2-1h2v1h-2m6-1h3v1h-3m6-1h1v1h-1m2-1h3v1h-3m4-1h3v1h-3m5-1h2v1h-2m4-1h2v1h-2m65-1h1v1h-1m-93 0h1v1h-1m3-1h1v1h-1m5-1h4v1h-4m5-1h5v1h-5m7-1h1v1h-1m2-1h1v1h-1m2-1h1v1h-1m2-1h1v1h-1m5-1h1v1h-1m-39 0h1v1h-1m13-1h2v1h-2m5-1h5v1h-5m6-1h1v1h-1m3-1h1v1h-1m4-1h2v1h-2m4-1h1v1h-1m-24 0h2v1h-2m4-1h2v1h-2m3-1h8v1h-8m9-1h2v1h-2m4-1h1v1h-1m2-1h3v1h-3m-27 0h1v1h-1m4-1h2v1h-2m3-1h2v1h-2m5-1h3v1h-3m4-1h3v1h-3m4-1h1v1h-1m2-1h3v1h-3m4-1h3v1h-3m4-1h1v1h-1m5-1h1v1h-1m-37 0h1v1h-1m3-1h2v1h-2m4-1h1v1h-1m2-1h3v1h-3m4-1h6v1h-6m7-1h8v1h-8m10-1h1v1h-1m5-1h1v1h-1m21-1h1v1h-1m-53 0h1v1h-1m10-1h2v1h-2m3-1h1v1h-1m4-1h1v1h-1m2-1h2v1h-2m3-1h3v1h-3m6-1h1v1h-1m8-1h1v1h-1m-41 0h1v1h-1m5-1h1v1h-1m3-1h2v1h-2m3-1h8v1h-8m9-1h2v1h-2m4-1h1v1h-1m2-1h1v1h-1m2-1h3v1h-3m5-1h2v1h-2m3-1h1v1h-1m8-1h1v1h-1m-43 0h1v1h-1m9-1h2v1h-2m3-1h6v1h-6m7-1h1v1h-1m4-1h1v1h-1m2-1h3v1h-3m4-1h1v1h-1m2-1h1v1h-1m8-1h1v1h-1m-37 0h1v1h-1m2-1h1v1h-1m2-1h1v1h-1m5-1h6v1h-6m7-1h2v1h-2m3-1h10v1h-10m26-1h1v1h-1m-44 0h1v1h-1m7-1h4v1h-4m5-1h4v1h-4m5-1h6v1h-6m7-1h3v1h-3m4-1h2v1h-2m-30 0h1v1h-1m6-1h1v1h-1m2-1h1v1h-1m6-1h5v1h-5m6-1h1v1h-1m2-1h2v1h-2m3-1h4v1h-4m6-1h1v1h-1m3-1h1v1h-1m-33 0h1v1h-1m5-1h2v1h-2m3-1h1v1h-1m4-1h3v1h-3m4-1h9v1h-9m10-1h1v1h-1m2-1h4v1h-4m5-1h1v1h-1m2-1h1v1h-1m2-1h1v1h-1m-40 0h1v1h-1m3-1h1v1h-1m4-1h15v1h-15m16-1h2v1h-2m3-1h1v1h-1m2-1h1v1h-1m2-1h3v1h-3m4-1h2v1h-2m-24 0h3v1h-3m4-1h2v1h-2m4-1h6v1h-6m7-1h2v1h-2m4-1h1v1h-1m11-1h1v1h-1m-34 0h1v1h-1m4-1h1v1h-1m4-1h13v1h-13m16-1h2v1h-2m-21 0h2v1h-2m3-1h15v1h-15m16-1h3v1h-3m4-1h1v1h-1m2-1h1v1h-1m3-1h2v1h-2m-36 0h1v1h-1m3-1h2v1h-2m4-1h1v1h-1m3-1h2v1h-2m3-1h3v1h-3m5-1h1v1h-1m2-1h9v1h-9m14-1h1v1h-1m-33 0h1v1h-1m7-1h5v1h-5m7-1h13v1h-13m14-1h1v1h-1m3-1h1v1h-1m-21 0h5v1h-5m6-1h6v1h-6m7-1h3v1h-3m4-1h1v1h-1m5-1h1v1h-1m-28 0h3v1h-3m5-1h3v1h-3m4-1h5v1h-5m6-1h6v1h-6m7-1h1v1h-1m-22 0h1v1h-1m5-1h3v1h-3m4-1h3v1h-3m4-1h1v1h-1m2-1h4v1h-4m5-1h3v1h-3m5-1h1v1h-1m4-1h1v1h-1m6-1h1v1h-1m-36 0h1v1h-1m6-1h3v1h-3m5-1h3v1h-3m4-1h1v1h-1m2-1h4v1h-4m7-1h3v1h-3m-28 0h1v1h-1m2-1h1v1h-1m8-1h1v1h-1m2-1h3v1h-3m4-1h7v1h-7m9-1h2v1h-2m3-1h2v1h-2m7-1h1v1h-1m3-1h1v1h-1m-38 0h1v1h-1m2-1h1v1h-1m8-1h2v1h-2m3-1h12v1h-12m13-1h3v1h-3m6-1h1v1h-1m2-1h1v1h-1m-26 0h1v1h-1m4-1h1v1h-1m3-1h1v1h-1m2-1h1v1h-1m2-1h5v1h-5m6-1h3v1h-3m-27 0h1v1h-1m8-1h3v1h-3m4-1h1v1h-1m2-1h2v1h-2m5-1h4v1h-4m5-1h4v1h-4m5-1h2v1h-2m5-1h1v1h-1m2-1h1v1h-1m-30 0h1v1h-1m5-1h1v1h-1m2-1h2v1h-2m3-1h6v1h-6m7-1h5v1h-5m8-1h2v1h-2m3-1h2v1h-2m-31 0h1v1h-1m9-1h1v1h-1m4-1h3v1h-3m5-1h10v1h-10m11-1h1v1h-1m-28 0h1v1h-1m2-1h1v1h-1m7-1h5v1h-5m8-1h2v1h-2m4-1h4v1h-4m5-1h1v1h-1m14-1h1v1h-1m63-1h1v1h-1m-104 0h1v1h-1m5-1h1v1h-1m3-1h1v1h-1m2-1h2v1h-2m5-1h1v1h-1m5-1h4v1h-4m5-1h1v1h-1m2-1h1v1h-1m2-1h1v1h-1m4-1h1v1h-1m-27 0h1v1h-1m3-1h1v1h-1m3-1h1v1h-1m2-1h1v1h-1m2-1h3v1h-3m5-1h2v1h-2m3-1h1v1h-1m3-1h1v1h-1m2-1h1v1h-1m3-1h1v1h-1m-26 0h1v1h-1m4-1h4v1h-4m5-1h2v1h-2m4-1h8v1h-8m9-1h3v1h-3m4-1h1v1h-1m-32 0h1v1h-1m8-1h1v1h-1m4-1h2v1h-2m4-1h3v1h-3m4-1h2v1h-2m3-1h1v1h-1m14-1h1v1h-1m2-1h1v1h-1m13-1h1v1h-1m-43 0h2v1h-2m4-1h1v1h-1m6-1h2v1h-2m3-1h4v1h-4m5-1h3v1h-3m-15 0h1v1h-1m6-1h1v1h-1m4-1h1v1h-1m6-1h2v1h-2m4-1h1v1h-1m-21 0h2v1h-2m4-1h1v1h-1m2-1h1v1h-1m2-1h1v1h-1m2-1h2v1h-2m9-1h1v1h-1m-29 0h1v1h-1m8-1h1v1h-1m2-1h1v1h-1m4-1h1v1h-1m3-1h1v1h-1m2-1h1v1h-1m-13 0h1v1h-1m4-1h1v1h-1m3-1h1v1h-1m3-1h1v1h-1m2-1h1v1h-1m-15 0h1v1h-1m2-1h3v1h-3m8-1h1v1h-1m4-1h1v1h-1m2-1h1v1h-1m5-1h1v1h-1m11-1h1v1h-1m-24 0h1v1h-1m3-1h2v1h-2m3-1h2v1h-2m3-1h2v1h-2m11-1h1v1h-1m-19 0h3v1h-3m4-1h2v1h-2m6-1h1v1h-1m7-1h1v1h-1m44-1h1v1h-1m-66 0h1v1h-1m2-1h1v1h-1m2-1h1v1h-1m2-1h2v1h-2m9-1h1v1h-1m4-1h1v1h-1m-23 0h1v1h-1m16-1h2v1h-2m3-1h2v1h-2m3-1h2v1h-2m4-1h1v1h-1m-2 0h1v1h-1m5-1h1v1h-1m-27 0h1v1h-1m11-1h1v1h-1m2-1h1v1h-1m2-1h1v1h-1m-12 0h1v1h-1m4-1h1v1h-1m4-1h2v1h-2m4-1h1v1h-1m5-1h1v1h-1m-25 0h1v1h-1m17 1h1v1h-1m3-1h1v1h-1m4-1h1v1h-1m7 0h1v1h-1m-4 0h1v1h-1m-2 1h1v1h-1m-7 0h1v1h-1m3-1h1v1h-1m-2 5h1v1h-1m3-1h1v1h-1m50-1h1v1h-1" fill="#e8380f" opacity="1.0"/>
<line x1="378.5" y1="39" x2="496" y2="39" stroke="#dcdcdc" stroke-width="0.6"/>
<line x1="378.5" y1="39" x2="378.5" y2="155.6" stroke="#4a4a4a" stroke-width="0.8"/>
<line x1="378.5" y1="155.6" x2="496" y2="155.6" stroke="#4a4a4a" stroke-width="0.8"/>
<path d="M374.9 43.8H378.5M374.9 66.3H378.5M374.9 89.2H378.5M374.9 116.5H378.5M374.9 148.7H378.5" stroke="#222" stroke-width="1.2"/>
<path d="M376.6 59.5H378.5M376.6 55.6H378.5M376.6 52.8H378.5M376.6 50.6H378.5M376.6 48.8H378.5M376.6 47.3H378.5M376.6 46.0H378.5M376.6 44.8H378.5M376.6 82.3H378.5M376.6 78.3H378.5M376.6 75.4H378.5M376.6 73.2H378.5M376.6 71.4H378.5M376.6 69.8H378.5M376.6 68.5H378.5M376.6 67.3H378.5M376.6 108.3H378.5M376.6 103.5H378.5M376.6 100.1H378.5M376.6 97.4H378.5M376.6 95.3H378.5M376.6 93.4H378.5M376.6 91.8H378.5M376.6 90.4H378.5M376.6 128.4H378.5M376.6 136.4H378.5M376.6 125.2H378.5M376.6 139.7H378.5M376.6 122.5H378.5M376.6 142.5H378.5M376.6 120.0H378.5M376.6 145.1H378.5M376.6 118.1H378.5M376.6 147.1H378.5" stroke="#2a2a2a" stroke-width="0.7"/>
<rect x="375.3" y="130.7" width="2.6" height="3.2" fill="#111"/>
<path d="M385.5 155.6V158.8M417.5 155.6V158.8M444.2 155.6V158.8M467.7 155.6V158.8M489.5 155.6V158.8" stroke="#222" stroke-width="1.2"/>
<path d="M425.5 155.6V157.5M430.2 155.6V157.5M433.6 155.6V157.5M436.2 155.6V157.5M438.3 155.6V157.5M440.1 155.6V157.5M441.6 155.6V157.5M443.0 155.6V157.5M451.3 155.6V157.5M455.4 155.6V157.5M458.3 155.6V157.5M460.6 155.6V157.5M462.5 155.6V157.5M464.1 155.6V157.5M465.4 155.6V157.5M466.6 155.6V157.5M474.3 155.6V157.5M478.1 155.6V157.5M480.8 155.6V157.5M482.9 155.6V157.5M484.7 155.6V157.5M486.1 155.6V157.5M487.4 155.6V157.5M488.5 155.6V157.5M405.5 155.6V157.5M397.5 155.6V157.5M408.7 155.6V157.5M394.3 155.6V157.5M411.4 155.6V157.5M391.6 155.6V157.5M414.0 155.6V157.5M389.0 155.6V157.5M415.9 155.6V157.5M387.1 155.6V157.5" stroke="#2a2a2a" stroke-width="0.7"/>
<rect x="399.5" y="156.0" width="4" height="2.4" fill="#111"/>
<text transform="translate(358.50,46.90)" font-size="8.8" text-anchor="start" fill="#333" font-weight="normal" stroke="#333" stroke-width="0.25" textLength="12.8" lengthAdjust="spacingAndGlyphs">10<tspan font-size="6.51" dy="-3.2">6</tspan></text>
<text transform="translate(358.50,69.40)" font-size="8.8" text-anchor="start" fill="#333" font-weight="normal" stroke="#333" stroke-width="0.25" textLength="12.8" lengthAdjust="spacingAndGlyphs">10<tspan font-size="6.51" dy="-3.2">5</tspan></text>
<text transform="translate(358.50,92.30)" font-size="8.8" text-anchor="start" fill="#333" font-weight="normal" stroke="#333" stroke-width="0.25" textLength="12.8" lengthAdjust="spacingAndGlyphs">10<tspan font-size="6.51" dy="-3.2">4</tspan></text>
<text transform="translate(358.50,119.60)" font-size="8.8" text-anchor="start" fill="#333" font-weight="normal" stroke="#333" stroke-width="0.25" textLength="12.8" lengthAdjust="spacingAndGlyphs">10<tspan font-size="6.51" dy="-3.2">3</tspan></text>
<text transform="translate(371.30,135.40) scale(0.97,1)" font-size="8.8" text-anchor="end" fill="#333" font-weight="normal" stroke="#333" stroke-width="0.25">0</text>
<text transform="translate(353.30,151.80)" font-size="8.8" text-anchor="start" fill="#333" font-weight="normal" stroke="#333" stroke-width="0.25" textLength="18.0" lengthAdjust="spacingAndGlyphs">−10<tspan font-size="6.51" dy="-3.2">3</tspan></text>
<text transform="translate(400.50,170.00) scale(0.97,1)" font-size="8.8" text-anchor="middle" fill="#333" font-weight="normal" stroke="#333" stroke-width="0.25">0</text>
<text transform="translate(438.60,170.00)" font-size="8.8" text-anchor="start" fill="#333" font-weight="normal" stroke="#333" stroke-width="0.25" textLength="12.8" lengthAdjust="spacingAndGlyphs">10<tspan font-size="6.51" dy="-3.2">4</tspan></text>
<text transform="translate(461.60,170.00)" font-size="8.8" text-anchor="start" fill="#333" font-weight="normal" stroke="#333" stroke-width="0.25" textLength="12.8" lengthAdjust="spacingAndGlyphs">10<tspan font-size="6.51" dy="-3.2">5</tspan></text>
<text transform="translate(482.60,170.00)" font-size="8.8" text-anchor="start" fill="#333" font-weight="normal" stroke="#333" stroke-width="0.25" textLength="12.8" lengthAdjust="spacingAndGlyphs">10<tspan font-size="6.51" dy="-3.2">6</tspan></text>
<text transform="translate(435.60,31.60)" font-size="8.95" text-anchor="middle" fill="#333" font-weight="normal" >Thrombin</text>
<rect x="384.6" y="54.2" width="103.7" height="45.8" fill="none" stroke="#2a2a2a" stroke-width="0.95"/>
<rect x="392.3" y="110.4" width="22.3" height="32.5" fill="none" stroke="#555" stroke-width="0.9"/>
<ellipse cx="0" cy="0" rx="29.5" ry="22.6" transform="translate(440.9,80.3) rotate(-42)" fill="none" stroke="#111" stroke-width="1.2"/>
<text transform="translate(456.30,88.40) scale(0.9,1)" font-size="8.8" text-anchor="middle" fill="#333" font-weight="normal" >68</text>
<text transform="translate(8.00,210.00)" font-size="12.4" text-anchor="start" fill="#111" font-weight="bold" >D</text>
<ellipse cx="0" cy="0" rx="7.5" ry="3.8" transform="translate(77.0,268.2) rotate(-36)" fill="#e8380f" opacity="1.0" filter="url(#b15)"/>
<path transform="scale(0.6)" d="M144 387h1v1h-1m-23 21h1v1h-1m6 0h1v1h-1m17-1h1v1h-1m2-1h1v1h-1m-27 2h1v1h-1m4-1h1v1h-1m13-1h1v1h-1m25-1h1v1h-1m-21 0h1v1h-1m9-1h1v1h-1m2-1h1v1h-1m8-1h1v1h-1m-25 0h1v1h-1m4-1h1v1h-1m11-1h1v1h-1m-10 0h1v1h-1m8-1h1v1h-1m4-1h1v1h-1m26-1h1v1h-1m-52 0h2v1h-2m9-1h1v1h-1m10-1h2v1h-2m46-1h1v1h-1m-66 0h1v1h-1m5-1h1v1h-1m5-1h1v1h-1m2-1h1v1h-1m5-1h1v1h-1m14-1h1v1h-1m11-1h1v1h-1m-45 0h1v1h-1m3-1h1v1h-1m20-1h1v1h-1m2-1h1v1h-1m2-1h1v1h-1m2-1h1v1h-1m-22 0h1v1h-1m2-1h1v1h-1m8-1h1v1h-1m7-1h1v1h-1m4-1h1v1h-1m8-1h1v1h-1m-35 0h2v1h-2m4-1h1v1h-1m2-1h1v1h-1m4-1h1v1h-1m2-1h1v1h-1m3-1h1v1h-1m2-1h1v1h-1m5-1h1v1h-1m7-1h1v1h-1m7-1h1v1h-1m-33 0h1v1h-1m2-1h1v1h-1m2-1h1v1h-1m3-1h1v1h-1m3-1h1v1h-1m6-1h2v1h-2m4-1h4v1h-4m7-1h1v1h-1m31-1h1v1h-1m9-1h1v1h-1m-107 0h1v1h-1m33-1h1v1h-1m6-1h1v1h-1m5-1h3v1h-3m4-1h4v1h-4m7-1h2v1h-2m4-1h1v1h-1m3-1h2v1h-2m6-1h1v1h-1m11-1h1v1h-1m-42 0h2v1h-2m8-1h1v1h-1m7-1h1v1h-1m3-1h1v1h-1m3-1h3v1h-3m6-1h1v1h-1m8-1h1v1h-1m-22 0h3v1h-3m5-1h3v1h-3m5-1h2v1h-2m3-1h1v1h-1m3-1h1v1h-1m14-1h1v1h-1m8-1h1v1h-1m-49 0h3v1h-3m4-1h5v1h-5m6-1h4v1h-4m5-1h7v1h-7m9-1h2v1h-2m43-1h1v1h-1m-85 0h1v1h-1m19-1h2v1h-2m4-1h6v1h-6m7-1h2v1h-2m3-1h4v1h-4m5-1h2v1h-2m3-1h1v1h-1m2-1h4v1h-4m12-1h1v1h-1m4-1h1v1h-1m-62 0h1v1h-1m13-1h1v1h-1m6-1h1v1h-1m3-1h2v1h-2m3-1h1v1h-1m2-1h1v1h-1m4-1h8v1h-8m10-1h5v1h-5m6-1h1v1h-1m3-1h3v1h-3m5-1h1v1h-1m-40 0h1v1h-1m2-1h3v1h-3m4-1h1v1h-1m2-1h1v1h-1m2-1h10v1h-10m11-1h1v1h-1m2-1h3v1h-3m5-1h5v1h-5m6-1h1v1h-1m-42 0h1v1h-1m2-1h1v1h-1m8-1h2v1h-2m4-1h11v1h-11m12-1h6v1h-6m7-1h3v1h-3m4-1h1v1h-1m2-1h1v1h-1m2-1h1v1h-1m2-1h2v1h-2m6-1h1v1h-1m3-1h1v1h-1m-45 0h1v1h-1m6-1h2v1h-2m3-1h3v1h-3m4-1h1v1h-1m2-1h19v1h-19m23-1h1v1h-1m2-1h1v1h-1m7-1h1v1h-1m-58 0h1v1h-1m3-1h1v1h-1m4-1h1v1h-1m4-1h1v1h-1m2-1h1v1h-1m2-1h4v1h-4m5-1h4v1h-4m5-1h17v1h-17m19-1h2v1h-2m4-1h2v1h-2m6-1h1v1h-1m2-1h1v1h-1m7-1h1v1h-1m-59 0h1v1h-1m5-1h2v1h-2m5-1h4v1h-4m5-1h24v1h-24m28-1h1v1h-1m2-1h1v1h-1m6-1h1v1h-1m4-1h2v1h-2m-52 0h1v1h-1m4-1h1v1h-1m3-1h1v1h-1m2-1h29v1h-29m30-1h2v1h-2m3-1h1v1h-1m3-1h1v1h-1m-51 0h1v1h-1m6-1h2v1h-2m3-1h1v1h-1m2-1h1v1h-1m2-1h23v1h-23m24-1h7v1h-7m8-1h2v1h-2m11-1h1v1h-1m-61 0h1v1h-1m9-1h1v1h-1m2-1h2v1h-2m3-1h26v1h-26m27-1h5v1h-5m6-1h4v1h-4m5-1h1v1h-1m4-1h1v1h-1m-48 0h1v1h-1m2-1h37v1h-37m38-1h2v1h-2m3-1h1v1h-1m2-1h1v1h-1m5-1h1v1h-1m7-1h1v1h-1m-61 0h1v1h-1m5-1h2v1h-2m3-1h1v1h-1m2-1h3v1h-3m5-1h24v1h-24m25-1h2v1h-2m3-1h3v1h-3m4-1h5v1h-5m18-1h1v1h-1m-65 0h7v1h-7m8-1h33v1h-33m34-1h2v1h-2m3-1h1v1h-1m3-1h2v1h-2m4-1h1v1h-1m6-1h1v1h-1m-61 0h1v1h-1m3-1h1v1h-1m6-1h2v1h-2m3-1h36v1h-36m41-1h2v1h-2m-55 0h2v1h-2m3-1h3v1h-3m4-1h1v1h-1m4-1h33v1h-33m34-1h6v1h-6m7-1h2v1h-2m3-1h2v1h-2m5-1h1v1h-1m-59 0h1v1h-1m6-1h5v1h-5m6-1h30v1h-30m31-1h3v1h-3m4-1h2v1h-2m4-1h1v1h-1m5-1h1v1h-1m2-1h1v1h-1m-66 0h1v1h-1m6-1h2v1h-2m6-1h1v1h-1m2-1h5v1h-5m6-1h31v1h-31m32-1h6v1h-6m8-1h1v1h-1m3-1h1v1h-1m5-1h1v1h-1m7-1h1v1h-1m7-1h1v1h-1m-81 0h1v1h-1m4-1h1v1h-1m4-1h3v1h-3m5-1h1v1h-1m2-1h1v1h-1m3-1h37v1h-37m38-1h1v1h-1m2-1h1v1h-1m2-1h1v1h-1m4-1h1v1h-1m3-1h1v1h-1m-58 0h1v1h-1m2-1h1v1h-1m4-1h38v1h-38m39-1h1v1h-1m3-1h1v1h-1m7-1h1v1h-1m-67 0h1v1h-1m7-1h1v1h-1m5-1h2v1h-2m3-1h1v1h-1m3-1h1v1h-1m2-1h38v1h-38m39-1h1v1h-1m12-1h1v1h-1m2-1h1v1h-1m3-1h1v1h-1m2-1h1v1h-1m-67 0h2v1h-2m3-1h1v1h-1m2-1h42v1h-42m43-1h1v1h-1m3-1h1v1h-1m2-1h1v1h-1m4-1h1v1h-1m-67 0h1v1h-1m5-1h1v1h-1m5-1h5v1h-5m6-1h39v1h-39m41-1h1v1h-1m2-1h1v1h-1m4-1h3v1h-3m-55 0h1v1h-1m5-1h2v1h-2m3-1h37v1h-37m38-1h1v1h-1m4-1h3v1h-3m5-1h1v1h-1m3-1h1v1h-1m-65 0h1v1h-1m10-1h2v1h-2m3-1h7v1h-7m8-1h28v1h-28m29-1h2v1h-2m3-1h1v1h-1m2-1h1v1h-1m4-1h1v1h-1m4-1h2v1h-2m-58 0h1v1h-1m4-1h40v1h-40m41-1h6v1h-6m10-1h1v1h-1m6-1h1v1h-1m12-1h1v1h-1m-70 0h1v1h-1m2-1h1v1h-1m2-1h2v1h-2m3-1h34v1h-34m37-1h3v1h-3m-59 0h2v1h-2m12-1h1v1h-1m5-1h2v1h-2m4-1h1v1h-1m2-1h33v1h-33m34-1h4v1h-4m5-1h1v1h-1m4-1h1v1h-1m5-1h1v1h-1m38-1h1v1h-1m-108 0h1v1h-1m6-1h1v1h-1m2-1h1v1h-1m3-1h1v1h-1m4-1h1v1h-1m2-1h1v1h-1m2-1h2v1h-2m3-1h1v1h-1m2-1h25v1h-25m26-1h1v1h-1m5-1h3v1h-3m5-1h1v1h-1m4-1h2v1h-2m18-1h1v1h-1m-70 0h1v1h-1m3-1h1v1h-1m3-1h1v1h-1m2-1h36v1h-36m43-1h1v1h-1m31-1h1v1h-1m-85 0h1v1h-1m5-1h1v1h-1m2-1h1v1h-1m2-1h30v1h-30m31-1h4v1h-4m5-1h3v1h-3m5-1h1v1h-1m9-1h2v1h-2m-65 0h1v1h-1m8-1h1v1h-1m3-1h2v1h-2m3-1h2v1h-2m3-1h34v1h-34m35-1h3v1h-3m4-1h3v1h-3m-49 0h1v1h-1m4-1h1v1h-1m2-1h1v1h-1m2-1h2v1h-2m3-1h24v1h-24m25-1h3v1h-3m4-1h1v1h-1m2-1h2v1h-2m-45 0h1v1h-1m3-1h1v1h-1m2-1h1v1h-1m2-1h4v1h-4m6-1h28v1h-28m30-1h1v1h-1m2-1h1v1h-1m2-1h2v1h-2m6-1h2v1h-2m-54 0h1v1h-1m6-1h4v1h-4m7-1h4v1h-4m6-1h21v1h-21m22-1h2v1h-2m4-1h2v1h-2m7-1h2v1h-2m6-1h1v1h-1m7-1h1v1h-1m-59 0h2v1h-2m4-1h1v1h-1m2-1h19v1h-19m20-1h12v1h-12m-30 0h1v1h-1m6-1h5v1h-5m6-1h2v1h-2m3-1h6v1h-6m7-1h8v1h-8m9-1h5v1h-5m6-1h1v1h-1m2-1h1v1h-1m8-1h1v1h-1m12-1h1v1h-1m-61 0h1v1h-1m4-1h1v1h-1m3-1h1v1h-1m2-1h2v1h-2m3-1h28v1h-28m29-1h1v1h-1m2-1h3v1h-3m5-1h1v1h-1m-47 0h1v1h-1m3-1h1v1h-1m5-1h2v1h-2m3-1h1v1h-1m2-1h1v1h-1m2-1h18v1h-18m19-1h1v1h-1m2-1h3v1h-3m7-1h1v1h-1m18-1h1v1h-1m-55 0h1v1h-1m2-1h1v1h-1m4-1h1v1h-1m2-1h1v1h-1m2-1h6v1h-6m7-1h12v1h-12m18-1h2v1h-2m3-1h1v1h-1m-52 0h1v1h-1m15-1h6v1h-6m8-1h21v1h-21m22-1h1v1h-1m5-1h1v1h-1m-45 0h1v1h-1m6-1h1v1h-1m2-1h1v1h-1m4-1h2v1h-2m6-1h1v1h-1m2-1h3v1h-3m5-1h3v1h-3m4-1h8v1h-8m10-1h3v1h-3m5-1h2v1h-2m7-1h1v1h-1m45-1h1v1h-1m-77 0h1v1h-1m2-1h3v1h-3m4-1h14v1h-14m17-1h3v1h-3m-32 0h1v1h-1m5-1h1v1h-1m2-1h2v1h-2m5-1h7v1h-7m8-1h1v1h-1m2-1h5v1h-5m6-1h1v1h-1m2-1h2v1h-2m-36 0h1v1h-1m2-1h1v1h-1m3-1h1v1h-1m11-1h2v1h-2m3-1h2v1h-2m3-1h4v1h-4m5-1h4v1h-4m7-1h1v1h-1m3-1h2v1h-2m3-1h1v1h-1m4-1h1v1h-1m-38 0h1v1h-1m5-1h2v1h-2m6-1h1v1h-1m3-1h9v1h-9m10-1h2v1h-2m4-1h2v1h-2m3-1h1v1h-1m5-1h1v1h-1m8-1h1v1h-1m-40 0h1v1h-1m4-1h2v1h-2m3-1h1v1h-1m2-1h11v1h-11m12-1h4v1h-4m10-1h1v1h-1m-40 0h1v1h-1m2-1h1v1h-1m3-1h1v1h-1m10-1h2v1h-2m4-1h1v1h-1m5-1h3v1h-3m4-1h3v1h-3m4-1h1v1h-1m2-1h1v1h-1m6-1h1v1h-1m8-1h1v1h-1m-35 0h3v1h-3m4-1h2v1h-2m3-1h3v1h-3m4-1h1v1h-1m3-1h3v1h-3m4-1h5v1h-5m8-1h2v1h-2m4-1h1v1h-1m-40 0h1v1h-1m9-1h2v1h-2m5-1h3v1h-3m5-1h1v1h-1m4-1h2v1h-2m3-1h1v1h-1m3-1h1v1h-1m2-1h1v1h-1m2-1h1v1h-1m2-1h1v1h-1m2-1h1v1h-1m17-1h1v1h-1m-53 0h1v1h-1m6-1h1v1h-1m6-1h6v1h-6m7-1h1v1h-1m2-1h2v1h-2m4-1h1v1h-1m3-1h2v1h-2m3-1h1v1h-1m2-1h1v1h-1m7-1h1v1h-1m12-1h1v1h-1m-51 0h1v1h-1m3-1h1v1h-1m9-1h2v1h-2m3-1h6v1h-6m10-1h1v1h-1m3-1h1v1h-1m9-1h1v1h-1m-38 0h1v1h-1m11-1h1v1h-1m2-1h3v1h-3m6-1h2v1h-2m3-1h4v1h-4m5-1h1v1h-1m2-1h1v1h-1m5-1h1v1h-1m-25 0h1v1h-1m6-1h1v1h-1m2-1h1v1h-1m2-1h2v1h-2m3-1h1v1h-1m3-1h3v1h-3m5-1h1v1h-1m2-1h3v1h-3m-27 0h1v1h-1m7-1h1v1h-1m7-1h1v1h-1m4-1h1v1h-1m4-1h1v1h-1m2-1h1v1h-1m3-1h1v1h-1m-38 0h1v1h-1m17-1h1v1h-1m4-1h1v1h-1m2-1h8v1h-8m9-1h1v1h-1m4-1h1v1h-1m4-1h1v1h-1m4-1h1v1h-1m-38 0h1v1h-1m12-1h1v1h-1m3-1h2v1h-2m3-1h1v1h-1m2-1h3v1h-3m4-1h2v1h-2m4-1h1v1h-1m2-1h1v1h-1m4-1h1v1h-1m-42 0h1v1h-1m18-1h2v1h-2m3-1h2v1h-2m5-1h1v1h-1m4-1h1v1h-1m3-1h1v1h-1m6-1h2v1h-2m5-1h1v1h-1m2-1h1v1h-1m-30 0h1v1h-1m2-1h2v1h-2m5-1h1v1h-1m8-1h1v1h-1m3-1h1v1h-1m3-1h1v1h-1m-23 0h1v1h-1m2-1h1v1h-1m3-1h1v1h-1m2-1h1v1h-1m2-1h1v1h-1m2-1h1v1h-1m5-1h1v1h-1m2-1h2v1h-2m3-1h2v1h-2m3-1h1v1h-1m-16 0h1v1h-1m6-1h2v1h-2m6-1h2v1h-2m4-1h2v1h-2m-20 0h2v1h-2m6-1h6v1h-6m7-1h1v1h-1m3-1h1v1h-1m4-1h2v1h-2m-19 0h1v1h-1m3-1h1v1h-1m2-1h1v1h-1m5-1h2v1h-2m6-1h4v1h-4m5-1h1v1h-1m83-1h1v1h-1m-106 0h1v1h-1m8-1h1v1h-1m5-1h2v1h-2m8-1h1v1h-1m24-1h1v1h-1m-50 0h1v1h-1m6-1h1v1h-1m4-1h1v1h-1m3-1h1v1h-1m2-1h3v1h-3m4-1h1v1h-1m2-1h1v1h-1m3-1h1v1h-1m5-1h1v1h-1m-26 0h1v1h-1m3-1h4v1h-4m11-1h1v1h-1m2-1h1v1h-1m4-1h2v1h-2m4-1h1v1h-1m-20 0h1v1h-1m4-1h4v1h-4m5-1h1v1h-1m2-1h1v1h-1m3-1h2v1h-2m5-1h1v1h-1m-13 0h1v1h-1m6-1h2v1h-2m6-1h1v1h-1m4-1h1v1h-1m10-1h2v1h-2m-29 0h2v1h-2m5-1h1v1h-1m3-1h1v1h-1m3-1h1v1h-1m3-1h1v1h-1m2-1h1v1h-1m-42 0h1v1h-1m29-1h1v1h-1m7-1h1v1h-1m5-1h4v1h-4m9-1h1v1h-1m11-1h1v1h-1m-40 0h2v1h-2m5-1h1v1h-1m2-1h1v1h-1m2-1h1v1h-1m2-1h1v1h-1m3-1h1v1h-1m2-1h1v1h-1m3-1h1v1h-1m-17 0h1v1h-1m3-1h1v1h-1m2-1h1v1h-1m3-1h1v1h-1m2-1h1v1h-1m2-1h2v1h-2m4-1h2v1h-2m6-1h1v1h-1m-19 0h1v1h-1m2-1h2v1h-2m6-1h1v1h-1m2-1h2v1h-2m8-1h1v1h-1m2-1h2v1h-2m7-1h1v1h-1m-26 0h2v1h-2m5-1h1v1h-1m5-1h3v1h-3m4-1h1v1h-1m5-1h1v1h-1m6-1h1v1h-1m-31 0h1v1h-1m2-1h1v1h-1m2-1h1v1h-1m2-1h2v1h-2m6-1h2v1h-2m3-1h1v1h-1m2-1h1v1h-1m3-1h2v1h-2m4-1h1v1h-1m-28 0h1v1h-1m5-1h3v1h-3m5-1h1v1h-1m2-1h1v1h-1m3-1h5v1h-5m6-1h1v1h-1m3-1h1v1h-1m3-1h1v1h-1m-27 0h1v1h-1m12-1h1v1h-1m2-1h1v1h-1m4-1h2v1h-2m3-1h3v1h-3m4-1h1v1h-1m-22 0h1v1h-1m5-1h1v1h-1m6-1h2v1h-2m3-1h1v1h-1m3-1h1v1h-1m2-1h1v1h-1m2-1h2v1h-2m4-1h1v1h-1m16-1h1v1h-1m-40 0h1v1h-1m5-1h1v1h-1m5-1h6v1h-6m7-1h2v1h-2m5-1h1v1h-1m2-1h1v1h-1m-24 0h1v1h-1m3-1h1v1h-1m6-1h2v1h-2m3-1h3v1h-3m4-1h3v1h-3m4-1h1v1h-1m4-1h3v1h-3m-23 0h2v1h-2m3-1h2v1h-2m3-1h1v1h-1m2-1h1v1h-1m2-1h5v1h-5m12-1h1v1h-1m4-1h1v1h-1m-32 0h1v1h-1m3-1h1v1h-1m3-1h1v1h-1m4-1h4v1h-4m5-1h6v1h-6m7-1h1v1h-1m3-1h1v1h-1m3-1h2v1h-2m-20 0h1v1h-1m4-1h1v1h-1m2-1h3v1h-3m7-1h1v1h-1m2-1h1v1h-1m4-1h2v1h-2m5-1h1v1h-1m-30 0h1v1h-1m2-1h1v1h-1m2-1h2v1h-2m4-1h6v1h-6m7-1h5v1h-5m6-1h1v1h-1m2-1h2v1h-2m5-1h1v1h-1m2-1h2v1h-2m-34 0h1v1h-1m9-1h7v1h-7m8-1h9v1h-9m10-1h2v1h-2m3-1h1v1h-1m3-1h1v1h-1m-27 0h1v1h-1m3-1h3v1h-3m5-1h3v1h-3m4-1h6v1h-6m7-1h1v1h-1m4-1h4v1h-4m36-1h1v1h-1m-64 0h1v1h-1m5-1h1v1h-1m8-1h2v1h-2m4-1h2v1h-2m3-1h1v1h-1m2-1h3v1h-3m7-1h1v1h-1m2-1h1v1h-1m8-1h1v1h-1m2-1h1v1h-1m-40 0h1v1h-1m6-1h1v1h-1m5-1h3v1h-3m4-1h2v1h-2m3-1h4v1h-4m5-1h2v1h-2m3-1h1v1h-1m4-1h1v1h-1m2-1h1v1h-1m-32 0h1v1h-1m3-1h1v1h-1m4-1h2v1h-2m5-1h2v1h-2m3-1h2v1h-2m3-1h4v1h-4m5-1h1v1h-1m3-1h1v1h-1m3-1h1v1h-1m5-1h1v1h-1m104-1h1v1h-1m-140 0h1v1h-1m2-1h1v1h-1m7-1h1v1h-1m3-1h8v1h-8m10-1h5v1h-5m7-1h1v1h-1m-20 0h2v1h-2m4-1h11v1h-11m12-1h6v1h-6m7-1h1v1h-1m7-1h1v1h-1m-35 0h1v1h-1m4-1h2v1h-2m3-1h2v1h-2m4-1h2v1h-2m3-1h5v1h-5m7-1h2v1h-2m3-1h1v1h-1m3-1h2v1h-2m3-1h2v1h-2m4-1h1v1h-1m-32 0h1v1h-1m7-1h6v1h-6m7-1h1v1h-1m2-1h3v1h-3m8-1h4v1h-4m6-1h1v1h-1m-30 0h1v1h-1m2-1h2v1h-2m3-1h5v1h-5m6-1h4v1h-4m5-1h8v1h-8m-22 0h1v1h-1m2-1h1v1h-1m4-1h1v1h-1m2-1h2v1h-2m3-1h4v1h-4m5-1h6v1h-6m7-1h5v1h-5m7-1h1v1h-1m2-1h2v1h-2m-28 0h3v1h-3m5-1h1v1h-1m3-1h4v1h-4m5-1h4v1h-4m5-1h4v1h-4m5-1h2v1h-2m4-1h1v1h-1m6-1h1v1h-1m-36 0h2v1h-2m9-1h2v1h-2m3-1h1v1h-1m2-1h8v1h-8m9-1h2v1h-2m4-1h3v1h-3m4-1h1v1h-1m-30 0h3v1h-3m7-1h5v1h-5m6-1h7v1h-7m8-1h2v1h-2m3-1h1v1h-1m2-1h3v1h-3m-21 0h1v1h-1m2-1h4v1h-4m5-1h4v1h-4m5-1h5v1h-5m6-1h1v1h-1m3-1h1v1h-1m6-1h1v1h-1m-31 0h2v1h-2m4-1h2v1h-2m5-1h6v1h-6m8-1h2v1h-2m3-1h2v1h-2m3-1h8v1h-8m-35 0h1v1h-1m15-1h1v1h-1m2-1h8v1h-8m9-1h1v1h-1m2-1h5v1h-5m6-1h5v1h-5m6-1h2v1h-2m3-1h1v1h-1m-33 0h1v1h-1m3-1h1v1h-1m6-1h3v1h-3m4-1h6v1h-6m7-1h1v1h-1m2-1h2v1h-2m4-1h2v1h-2m3-1h2v1h-2m-21 0h2v1h-2m3-1h1v1h-1m2-1h4v1h-4m5-1h5v1h-5m6-1h2v1h-2m3-1h2v1h-2m3-1h2v1h-2m-24 0h1v1h-1m6-1h3v1h-3m4-1h3v1h-3m4-1h3v1h-3m4-1h1v1h-1m2-1h2v1h-2m3-1h4v1h-4m6-1h1v1h-1m-35 0h1v1h-1m2-1h1v1h-1m3-1h1v1h-1m2-1h1v1h-1m3-1h1v1h-1m2-1h8v1h-8m9-1h7v1h-7m9-1h1v1h-1m-25 0h1v1h-1m4-1h1v1h-1m4-1h15v1h-15m16-1h1v1h-1m4-1h1v1h-1m-27 0h2v1h-2m5-1h1v1h-1m3-1h1v1h-1m5-1h3v1h-3m6-1h1v1h-1m4-1h2v1h-2m3-1h3v1h-3m-26 0h1v1h-1m3-1h1v1h-1m2-1h1v1h-1m3-1h6v1h-6m7-1h1v1h-1m2-1h3v1h-3m4-1h4v1h-4m-23 0h1v1h-1m4-1h1v1h-1m2-1h1v1h-1m2-1h1v1h-1m2-1h8v1h-8m11-1h2v1h-2m3-1h1v1h-1m2-1h1v1h-1m5-1h1v1h-1m3-1h1v1h-1m-35 0h1v1h-1m3-1h1v1h-1m6-1h11v1h-11m13-1h1v1h-1m3-1h3v1h-3m5-1h2v1h-2m-21 0h1v1h-1m2-1h1v1h-1m2-1h1v1h-1m2-1h3v1h-3m6-1h1v1h-1m3-1h2v1h-2m5-1h1v1h-1m-26 0h1v1h-1m6-1h2v1h-2m6-1h10v1h-10m11-1h1v1h-1m-22 0h3v1h-3m4-1h1v1h-1m2-1h5v1h-5m6-1h2v1h-2m4-1h1v1h-1m2-1h2v1h-2m3-1h4v1h-4m-28 0h1v1h-1m8-1h1v1h-1m6-1h1v1h-1m2-1h1v1h-1m6-1h1v1h-1m3-1h1v1h-1m10-1h1v1h-1m-22 0h2v1h-2m4-1h1v1h-1m2-1h3v1h-3m4-1h2v1h-2m3-1h1v1h-1m2-1h1v1h-1m-14 0h1v1h-1m2-1h3v1h-3m7-1h4v1h-4m5-1h1v1h-1m3-1h1v1h-1m-24 0h1v1h-1m10-1h1v1h-1m2-1h3v1h-3m6-1h2v1h-2m-14 0h1v1h-1m2-1h1v1h-1m7-1h4v1h-4m6-1h1v1h-1m2-1h1v1h-1m-17 0h2v1h-2m5-1h1v1h-1m3-1h2v1h-2m4-1h1v1h-1m6-1h1v1h-1m3-1h2v1h-2m16-1h1v1h-1m35-1h1v1h-1m-72 0h1v1h-1m4-1h5v1h-5m7-1h1v1h-1m5-1h1v1h-1m2-1h1v1h-1m2-1h1v1h-1m-39 0h1v1h-1m19-1h1v1h-1m5-1h1v1h-1m4-1h1v1h-1m3-1h1v1h-1m2-1h1v1h-1m3-1h1v1h-1m-14 0h2v1h-2m4-1h1v1h-1m4-1h1v1h-1m9-1h1v1h-1m-11 0h1v1h-1m2-1h1v1h-1m-27 0h1v1h-1m11-1h1v1h-1m8-1h1v1h-1m4-1h1v1h-1m2-1h3v1h-3m-22 0h1v1h-1m12-1h1v1h-1m16-1h1v1h-1m-15 0h1v1h-1m6-1h2v1h-2m12-1h1v1h-1m-11 0h1v1h-1m2-1h1v1h-1m2-1h1v1h-1m2-1h1v1h-1m93-1h1v1h-1m-86 0h1v1h-1m-25 0h1v1h-1m10-1h1v1h-1m4-1h1v1h-1m-8 0h1v1h-1m9-1h1v1h-1m11-1h1v1h-1" fill="#e8380f" opacity="1.0"/>
<line x1="50.4" y1="229.6" x2="164.2" y2="229.6" stroke="#8a8a8a" stroke-width="0.6"/>
<line x1="164.2" y1="229.6" x2="164.2" y2="343.8" stroke="#8a8a8a" stroke-width="0.6"/>
<line x1="50.4" y1="229.6" x2="50.4" y2="343.8" stroke="#4a4a4a" stroke-width="0.8"/>
<line x1="50.4" y1="343.8" x2="164.2" y2="343.8" stroke="#4a4a4a" stroke-width="0.8"/>
<path d="M46.8 234.4H50.4M46.8 256.5H50.4M46.8 279.0H50.4M46.8 305.4H50.4M46.8 337.5H50.4" stroke="#222" stroke-width="1.2"/>
<path d="M48.5 249.8H50.4M48.5 246.0H50.4M48.5 243.2H50.4M48.5 241.1H50.4M48.5 239.3H50.4M48.5 237.8H50.4M48.5 236.5H50.4M48.5 235.4H50.4M48.5 272.2H50.4M48.5 268.3H50.4M48.5 265.5H50.4M48.5 263.3H50.4M48.5 261.5H50.4M48.5 260.0H50.4M48.5 258.7H50.4M48.5 257.5H50.4M48.5 297.5H50.4M48.5 292.8H50.4M48.5 289.5H50.4M48.5 286.9H50.4M48.5 284.9H50.4M48.5 283.1H50.4M48.5 281.6H50.4M48.5 280.2H50.4M48.5 317.2H50.4M48.5 325.3H50.4M48.5 314.1H50.4M48.5 328.5H50.4M48.5 311.4H50.4M48.5 331.3H50.4M48.5 308.9H50.4M48.5 333.9H50.4M48.5 307.0H50.4M48.5 335.9H50.4" stroke="#2a2a2a" stroke-width="0.7"/>
<rect x="47.2" y="319.6" width="2.6" height="3.2" fill="#111"/>
<path d="M55.5 343.8V347.0M87.5 343.8V347.0M114.6 343.8V347.0M136.7 343.8V347.0M158.7 343.8V347.0" stroke="#222" stroke-width="1.2"/>
<path d="M95.7 343.8V345.7M100.4 343.8V345.7M103.8 343.8V345.7M106.4 343.8V345.7M108.6 343.8V345.7M110.4 343.8V345.7M112.0 343.8V345.7M113.4 343.8V345.7M121.3 343.8V345.7M125.1 343.8V345.7M127.9 343.8V345.7M130.0 343.8V345.7M131.8 343.8V345.7M133.3 343.8V345.7M134.6 343.8V345.7M135.7 343.8V345.7M143.3 343.8V345.7M147.2 343.8V345.7M149.9 343.8V345.7M152.1 343.8V345.7M153.8 343.8V345.7M155.3 343.8V345.7M156.6 343.8V345.7M157.7 343.8V345.7M75.7 343.8V345.7M67.7 343.8V345.7M78.9 343.8V345.7M64.5 343.8V345.7M81.5 343.8V345.7M61.7 343.8V345.7M84.0 343.8V345.7M59.1 343.8V345.7M85.9 343.8V345.7M57.1 343.8V345.7" stroke="#2a2a2a" stroke-width="0.7"/>
<rect x="69.8" y="344.2" width="4" height="2.4" fill="#111"/>
<text transform="translate(31.00,237.50)" font-size="8.8" text-anchor="start" fill="#333" font-weight="normal" stroke="#333" stroke-width="0.25" textLength="12.8" lengthAdjust="spacingAndGlyphs">10<tspan font-size="6.51" dy="-3.2">6</tspan></text>
<text transform="translate(31.00,259.60)" font-size="8.8" text-anchor="start" fill="#333" font-weight="normal" stroke="#333" stroke-width="0.25" textLength="12.8" lengthAdjust="spacingAndGlyphs">10<tspan font-size="6.51" dy="-3.2">5</tspan></text>
<text transform="translate(31.00,282.10)" font-size="8.8" text-anchor="start" fill="#333" font-weight="normal" stroke="#333" stroke-width="0.25" textLength="12.8" lengthAdjust="spacingAndGlyphs">10<tspan font-size="6.51" dy="-3.2">4</tspan></text>
<text transform="translate(31.00,308.50)" font-size="8.8" text-anchor="start" fill="#333" font-weight="normal" stroke="#333" stroke-width="0.25" textLength="12.8" lengthAdjust="spacingAndGlyphs">10<tspan font-size="6.51" dy="-3.2">3</tspan></text>
<text transform="translate(43.80,324.30) scale(0.97,1)" font-size="8.8" text-anchor="end" fill="#333" font-weight="normal" stroke="#333" stroke-width="0.25">0</text>
<text transform="translate(25.80,340.60)" font-size="8.8" text-anchor="start" fill="#333" font-weight="normal" stroke="#333" stroke-width="0.25" textLength="18.0" lengthAdjust="spacingAndGlyphs">−10<tspan font-size="6.51" dy="-3.2">3</tspan></text>
<text transform="translate(72.90,360.60) scale(0.97,1)" font-size="8.8" text-anchor="middle" fill="#333" font-weight="normal" stroke="#333" stroke-width="0.25">0</text>
<text transform="translate(107.50,360.60)" font-size="8.8" text-anchor="start" fill="#333" font-weight="normal" stroke="#333" stroke-width="0.25" textLength="12.8" lengthAdjust="spacingAndGlyphs">10<tspan font-size="6.51" dy="-3.2">4</tspan></text>
<text transform="translate(130.80,360.60)" font-size="8.8" text-anchor="start" fill="#333" font-weight="normal" stroke="#333" stroke-width="0.25" textLength="12.8" lengthAdjust="spacingAndGlyphs">10<tspan font-size="6.51" dy="-3.2">5</tspan></text>
<text transform="translate(152.50,360.60)" font-size="8.8" text-anchor="start" fill="#333" font-weight="normal" stroke="#333" stroke-width="0.25" textLength="12.8" lengthAdjust="spacingAndGlyphs">10<tspan font-size="6.51" dy="-3.2">6</tspan></text>
<text transform="translate(106.10,223.50)" font-size="8.95" text-anchor="middle" fill="#333" font-weight="normal" >Thrombin + EDTA</text>
<ellipse cx="0" cy="0" rx="28.9" ry="24.0" transform="translate(117.1,265.6) rotate(-40)" fill="none" stroke="#111" stroke-width="1.2"/>
<text transform="translate(131.30,272.10) scale(0.9,1)" font-size="8.8" text-anchor="middle" fill="#333" font-weight="normal" >3</text>
<path d="M14.5 339.2V365.4H40.8" stroke="#111" stroke-width="1.5" fill="none" stroke-linejoin="miter"/>
<path d="M14.5 334.2l-3.7 8.8l3.7 -2.3l3.7 2.3z" fill="#111"/>
<path d="M45.8 365.4l-8.8 -3.7l2.3 3.7l-2.3 3.7z" fill="#111"/>
<text transform="translate(49.50,368.40)" font-size="9.8" text-anchor="start" fill="#2a2a2a" font-weight="normal" stroke="#2a2a2a" stroke-width="0.42" textLength="19.8" lengthAdjust="spacingAndGlyphs">PAC-1</text>
<text transform="translate(17.60,332.30) rotate(-90)" font-size="9.8" text-anchor="start" fill="#2a2a2a" font-weight="normal" stroke="#2a2a2a" stroke-width="0.42" textLength="23.0" lengthAdjust="spacingAndGlyphs">GPIbα</text>
<line x1="217.5" y1="227.3" x2="335" y2="227.3" stroke="#666" stroke-width="0.7"/>
<line x1="335" y1="227.3" x2="335" y2="344.6" stroke="#666" stroke-width="0.7"/>
<line x1="217.5" y1="227.3" x2="217.5" y2="344.6" stroke="#4a4a4a" stroke-width="0.8"/>
<line x1="214.0" y1="344.6" x2="335" y2="344.6" stroke="#4a4a4a" stroke-width="0.8"/>
<path d="M213.9 343.8H217.5M213.9 319.7H217.5M213.9 295.6H217.5M213.9 271.5H217.5M213.9 247.4H217.5" stroke="#222" stroke-width="1.2"/>
<path d="M215.6 339.0H217.5M215.6 334.2H217.5M215.6 329.3H217.5M215.6 324.5H217.5M215.6 314.9H217.5M215.6 310.1H217.5M215.6 305.2H217.5M215.6 300.4H217.5M215.6 290.8H217.5M215.6 286.0H217.5M215.6 281.1H217.5M215.6 276.3H217.5M215.6 266.7H217.5M215.6 261.9H217.5M215.6 257.0H217.5M215.6 252.2H217.5M215.6 242.6H217.5M215.6 237.8H217.5M215.6 232.9H217.5M215.6 228.1H217.5" stroke="#2a2a2a" stroke-width="0.7"/>
<text transform="translate(210.90,346.90) scale(0.97,1)" font-size="8.8" text-anchor="end" fill="#333" font-weight="normal" stroke="#333" stroke-width="0.25">0</text>
<text transform="translate(210.90,322.80) scale(0.97,1)" font-size="8.8" text-anchor="end" fill="#333" font-weight="normal" stroke="#333" stroke-width="0.25">50</text>
<text transform="translate(210.90,298.70) scale(0.97,1)" font-size="8.8" text-anchor="end" fill="#333" font-weight="normal" stroke="#333" stroke-width="0.25">100</text>
<text transform="translate(210.90,274.60) scale(0.97,1)" font-size="8.8" text-anchor="end" fill="#333" font-weight="normal" stroke="#333" stroke-width="0.25">150</text>
<text transform="translate(210.90,250.50) scale(0.97,1)" font-size="8.8" text-anchor="end" fill="#333" font-weight="normal" stroke="#333" stroke-width="0.25">200</text>
<path d="M224.5 344.6V347.8M256.0 344.6V347.8M274.0 344.6V347.8M292.3 344.6V347.8M310.6 344.6V347.8M328.8 344.6V347.8" stroke="#222" stroke-width="1.2"/>
<path d="M261.4 344.6V346.5M264.6 344.6V346.5M266.8 344.6V346.5M268.6 344.6V346.5M270.0 344.6V346.5M271.2 344.6V346.5M272.3 344.6V346.5M273.2 344.6V346.5M279.5 344.6V346.5M282.7 344.6V346.5M285.0 344.6V346.5M286.8 344.6V346.5M288.2 344.6V346.5M289.5 344.6V346.5M290.5 344.6V346.5M291.5 344.6V346.5M297.8 344.6V346.5M301.0 344.6V346.5M303.3 344.6V346.5M305.1 344.6V346.5M306.5 344.6V346.5M307.8 344.6V346.5M308.8 344.6V346.5M309.8 344.6V346.5M316.1 344.6V346.5M319.3 344.6V346.5M321.6 344.6V346.5M323.3 344.6V346.5M324.8 344.6V346.5M326.0 344.6V346.5M327.0 344.6V346.5M328.0 344.6V346.5M244.2 344.6V346.5M236.4 344.6V346.5M247.4 344.6V346.5M233.2 344.6V346.5M250.0 344.6V346.5M230.5 344.6V346.5M252.5 344.6V346.5M228.0 344.6V346.5M254.4 344.6V346.5M226.1 344.6V346.5M334.3 344.6V346.5" stroke="#2a2a2a" stroke-width="0.7"/>
<rect x="238.3" y="345.0" width="4" height="2.4" fill="#111"/>
<path d="M251.0 343.6 L252.7 342.7 L255.0 341.5 L258.0 339.5 L259.7 338.3 L261.7 336.5 L263.5 338.5 L265.0 336.0 L265.9 332.5 L265.9 332.2 L267.3 329.0 L267.9 326.0 L269.7 324.3 L270.0 322.0 L271.7 319.4 L272.5 317.0 L273.4 313.1 L274.0 311.0 L274.6 309.6 L274.8 307.0 L275.2 304.0 L275.7 300.5 L276.1 299.4 L275.7 295.6 L276.7 294.3 L276.5 292.0 L277.1 290.7 L277.3 288.6 L277.2 286.0 L277.6 283.0 L277.8 281.6 L278.7 276.8 L278.0 274.5 L278.8 272.7 L279.7 269.9 L279.5 266.8 L279.6 264.4 L279.8 262.0 L279.9 259.4 L280.6 257.4 L280.8 253.5 L281.3 252.0 L281.8 249.5 L281.8 244.7 L281.8 243.0 L282.5 241.9 L282.8 238.5 L282.5 236.0 L283.0 232.3 L283.5 234.1 L283.9 237.6 L283.7 240.0 L284.4 236.5 L284.6 238.6 L285.3 243.0 L286.2 247.0 L287.1 250.4 L286.5 252.1 L287.5 253.5 L287.7 255.0 L287.8 258.9 L288.8 259.4 L288.6 263.0 L289.0 264.2 L289.5 267.4 L290.0 271.5 L289.8 272.7 L289.9 276.6 L289.8 276.8 L290.3 279.2 L290.3 283.0 L290.0 285.0 L290.7 286.6 L290.1 290.7 L290.8 292.0 L290.8 295.4 L291.7 296.1 L291.3 298.7 L291.8 301.0 L291.8 303.0 L292.2 306.0 L293.0 308.4 L292.7 311.0 L292.8 313.8 L292.7 315.0 L293.8 317.8 L293.4 320.0 L293.6 321.6 L293.6 325.9 L293.9 328.5 L293.8 331.6 L295.0 334.0 L296.2 335.1 L297.0 338.5 L298.7 341.0 L300.0 343.6 L300.0 344.2 L251.0 344.2Z" fill="#f29a98" fill-opacity="0.95" stroke="none"/>
<path d="M251.0 343.6 L252.7 342.7 L255.0 341.5 L258.0 339.5 L259.7 338.3 L261.7 336.5 L263.5 338.5 L265.0 336.0 L265.9 332.5 L265.9 332.2 L267.3 329.0 L267.9 326.0 L269.7 324.3 L270.0 322.0 L271.7 319.4 L272.5 317.0 L273.4 313.1 L274.0 311.0 L274.6 309.6 L274.8 307.0 L275.2 304.0 L275.7 300.5 L276.1 299.4 L275.7 295.6 L276.7 294.3 L276.5 292.0 L277.1 290.7 L277.3 288.6 L277.2 286.0 L277.6 283.0 L277.8 281.6 L278.7 276.8 L278.0 274.5 L278.8 272.7 L279.7 269.9 L279.5 266.8 L279.6 264.4 L279.8 262.0 L279.9 259.4 L280.6 257.4 L280.8 253.5 L281.3 252.0 L281.8 249.5 L281.8 244.7 L281.8 243.0 L282.5 241.9 L282.8 238.5 L282.5 236.0 L283.0 232.3 L283.5 234.1 L283.9 237.6 L283.7 240.0 L284.4 236.5 L284.6 238.6 L285.3 243.0 L286.2 247.0 L287.1 250.4 L286.5 252.1 L287.5 253.5 L287.7 255.0 L287.8 258.9 L288.8 259.4 L288.6 263.0 L289.0 264.2 L289.5 267.4 L290.0 271.5 L289.8 272.7 L289.9 276.6 L289.8 276.8 L290.3 279.2 L290.3 283.0 L290.0 285.0 L290.7 286.6 L290.1 290.7 L290.8 292.0 L290.8 295.4 L291.7 296.1 L291.3 298.7 L291.8 301.0 L291.8 303.0 L292.2 306.0 L293.0 308.4 L292.7 311.0 L292.8 313.8 L292.7 315.0 L293.8 317.8 L293.4 320.0 L293.6 321.6 L293.6 325.9 L293.9 328.5 L293.8 331.6 L295.0 334.0 L296.2 335.1 L297.0 338.5 L298.7 341.0 L300.0 343.6" fill="none" stroke="#dc3439" stroke-width="1.15" stroke-linejoin="round"/>
<path d="M228.0 343.6 L232.0 342.0 L234.0 340.0 L236.0 337.0 L237.1 335.6 L238.0 333.0 L239.4 331.8 L240.0 328.5 L241.3 327.5 L242.0 324.5 L243.5 323.0 L244.5 325.0 L244.7 322.5 L246.0 320.2 L247.0 324.0 L248.0 322.0 L249.5 326.0 L251.0 328.5 L252.3 331.1 L252.5 333.0 L254.0 337.0 L256.0 339.5 L258.0 340.0 L260.0 339.0 L262.0 338.5 L264.0 340.0 L266.0 341.5 L268.0 342.6 L270.4 343.6 L270.4 344.2 L228.0 344.2Z" fill="#79bfd6" fill-opacity="0.8" stroke="none"/>
<path d="M228.0 343.6 L232.0 342.0 L234.0 340.0 L236.0 337.0 L237.1 335.6 L238.0 333.0 L239.4 331.8 L240.0 328.5 L241.3 327.5 L242.0 324.5 L243.5 323.0 L244.5 325.0 L244.7 322.5 L246.0 320.2 L247.0 324.0 L248.0 322.0 L249.5 326.0 L251.0 328.5 L252.3 331.1 L252.5 333.0 L254.0 337.0 L256.0 339.5 L258.0 340.0 L260.0 339.0 L262.0 338.5 L264.0 340.0 L266.0 341.5 L268.0 342.6 L270.4 343.6" fill="none" stroke="#17a3b8" stroke-width="1.4" stroke-linejoin="round"/>
<text transform="translate(238.30,360.00) scale(0.97,1)" font-size="8.8" text-anchor="middle" fill="#333" font-weight="normal" stroke="#333" stroke-width="0.25">0</text>
<text transform="translate(266.80,360.40)" font-size="8.8" text-anchor="start" fill="#333" font-weight="normal" stroke="#333" stroke-width="0.25" textLength="12.8" lengthAdjust="spacingAndGlyphs">10<tspan font-size="6.51" dy="-3.2">4</tspan></text>
<text transform="translate(285.80,360.40)" font-size="8.8" text-anchor="start" fill="#333" font-weight="normal" stroke="#333" stroke-width="0.25" textLength="12.8" lengthAdjust="spacingAndGlyphs">10<tspan font-size="6.51" dy="-3.2">5</tspan></text>
<text transform="translate(304.40,360.40)" font-size="8.8" text-anchor="start" fill="#333" font-weight="normal" stroke="#333" stroke-width="0.25" textLength="12.8" lengthAdjust="spacingAndGlyphs">10<tspan font-size="6.51" dy="-3.2">6</tspan></text>
<text transform="translate(322.50,360.40)" font-size="8.8" text-anchor="start" fill="#333" font-weight="normal" stroke="#333" stroke-width="0.25" textLength="12.8" lengthAdjust="spacingAndGlyphs">10<tspan font-size="6.51" dy="-3.2">7</tspan></text>
<text transform="translate(265.00,374.80)" font-size="9.8" text-anchor="start" fill="#2a2a2a" font-weight="normal" stroke="#2a2a2a" stroke-width="0.42" textLength="18.2" lengthAdjust="spacingAndGlyphs">PAR1</text>
<text transform="translate(193.00,210.00)" font-size="12.4" text-anchor="start" fill="#111" font-weight="bold" >E</text>
<line x1="378.5" y1="228.6" x2="495.4" y2="228.6" stroke="#c4c4c4" stroke-width="0.7"/>
<line x1="495.4" y1="228.6" x2="495.4" y2="344.9" stroke="#c4c4c4" stroke-width="0.7"/>
<line x1="378.5" y1="228.6" x2="378.5" y2="344.9" stroke="#4a4a4a" stroke-width="0.8"/>
<line x1="375.0" y1="344.9" x2="495.4" y2="344.9" stroke="#4a4a4a" stroke-width="0.8"/>
<path d="M374.9 344.7H378.5M374.9 321.2H378.5M374.9 297.7H378.5M374.9 274.2H378.5M374.9 250.7H378.5" stroke="#222" stroke-width="1.2"/>
<path d="M376.6 340.0H378.5M376.6 335.3H378.5M376.6 330.6H378.5M376.6 325.9H378.5M376.6 316.5H378.5M376.6 311.8H378.5M376.6 307.1H378.5M376.6 302.4H378.5M376.6 293.0H378.5M376.6 288.3H378.5M376.6 283.6H378.5M376.6 278.9H378.5M376.6 269.5H378.5M376.6 264.8H378.5M376.6 260.1H378.5M376.6 255.4H378.5M376.6 246.0H378.5M376.6 241.3H378.5M376.6 236.6H378.5M376.6 231.9H378.5" stroke="#2a2a2a" stroke-width="0.7"/>
<text transform="translate(371.90,347.80) scale(0.97,1)" font-size="8.8" text-anchor="end" fill="#333" font-weight="normal" stroke="#333" stroke-width="0.25">0</text>
<text transform="translate(371.90,324.30) scale(0.97,1)" font-size="8.8" text-anchor="end" fill="#333" font-weight="normal" stroke="#333" stroke-width="0.25">50</text>
<text transform="translate(371.90,300.80) scale(0.97,1)" font-size="8.8" text-anchor="end" fill="#333" font-weight="normal" stroke="#333" stroke-width="0.25">100</text>
<text transform="translate(371.90,277.30) scale(0.97,1)" font-size="8.8" text-anchor="end" fill="#333" font-weight="normal" stroke="#333" stroke-width="0.25">150</text>
<text transform="translate(371.90,253.80) scale(0.97,1)" font-size="8.8" text-anchor="end" fill="#333" font-weight="normal" stroke="#333" stroke-width="0.25">200</text>
<path d="M386.5 344.9V348.1M418.0 344.9V348.1M434.8 344.9V348.1M452.8 344.9V348.1M471.0 344.9V348.1M490.5 344.9V348.1" stroke="#222" stroke-width="1.2"/>
<path d="M423.1 344.9V346.8M426.0 344.9V346.8M428.1 344.9V346.8M429.7 344.9V346.8M431.1 344.9V346.8M432.2 344.9V346.8M433.2 344.9V346.8M434.0 344.9V346.8M440.2 344.9V346.8M443.4 344.9V346.8M445.6 344.9V346.8M447.4 344.9V346.8M448.8 344.9V346.8M450.0 344.9V346.8M451.1 344.9V346.8M452.0 344.9V346.8M458.3 344.9V346.8M461.5 344.9V346.8M463.8 344.9V346.8M465.5 344.9V346.8M467.0 344.9V346.8M468.2 344.9V346.8M469.2 344.9V346.8M470.2 344.9V346.8M476.9 344.9V346.8M480.3 344.9V346.8M482.7 344.9V346.8M484.6 344.9V346.8M486.2 344.9V346.8M487.5 344.9V346.8M488.6 344.9V346.8M489.6 344.9V346.8M406.2 344.9V346.8M398.4 344.9V346.8M409.4 344.9V346.8M395.2 344.9V346.8M412.0 344.9V346.8M392.5 344.9V346.8M414.5 344.9V346.8M390.0 344.9V346.8M416.4 344.9V346.8M388.1 344.9V346.8" stroke="#2a2a2a" stroke-width="0.7"/>
<rect x="400.3" y="345.3" width="4" height="2.4" fill="#111"/>
<path d="M418.0 339.6 L420.0 337.0 L421.5 334.0 L422.7 330.8 L423.1 333.6 L423.6 336.0 L424.6 333.0 L425.6 335.0 L426.7 331.7 L426.7 328.5 L427.8 331.0 L428.1 329.0 L428.0 326.5 L428.9 325.0 L429.0 322.0 L430.3 319.0 L431.5 315.0 L431.2 311.5 L432.0 309.0 L431.6 307.6 L432.6 303.3 L433.2 303.5 L432.7 300.0 L433.1 297.8 L432.7 293.7 L433.3 291.4 L433.5 290.0 L433.3 287.1 L433.3 285.4 L434.1 284.1 L434.4 281.0 L434.8 278.6 L435.1 275.9 L435.4 272.7 L435.5 269.4 L436.4 268.6 L436.4 265.2 L436.2 262.0 L436.2 258.5 L436.5 255.2 L437.0 253.5 L437.7 250.0 L437.8 247.0 L438.7 243.8 L439.5 246.0 L440.2 243.0 L440.6 241.6 L440.3 238.0 L440.0 235.0 L441.4 233.5 L441.2 231.3 L442.1 233.6 L441.1 236.8 L441.9 239.0 L442.6 240.7 L442.0 243.2 L442.8 246.0 L443.8 249.2 L443.1 250.3 L444.0 253.5 L443.7 254.7 L444.8 257.4 L444.7 260.5 L444.8 263.0 L444.6 266.0 L444.7 268.2 L444.9 270.1 L445.6 272.7 L445.4 274.4 L446.6 278.1 L445.9 280.7 L446.3 282.0 L446.1 284.2 L447.1 287.4 L446.3 290.8 L447.0 292.0 L446.9 293.6 L447.9 296.1 L447.5 297.6 L448.0 301.0 L447.8 303.7 L448.3 306.3 L448.7 308.4 L449.2 311.0 L450.1 313.2 L449.8 316.5 L449.6 316.9 L450.3 320.0 L451.3 323.7 L450.9 324.9 L451.7 328.5 L452.3 332.1 L451.9 334.7 L452.6 336.0 L453.8 339.1 L453.8 340.6 L454.6 344.4 L454.6 345.0 L418.0 345.0Z" fill="#f29a98" fill-opacity="0.95" stroke="none"/>
<path d="M418.0 339.6 L420.0 337.0 L421.5 334.0 L422.7 330.8 L423.1 333.6 L423.6 336.0 L424.6 333.0 L425.6 335.0 L426.7 331.7 L426.7 328.5 L427.8 331.0 L428.1 329.0 L428.0 326.5 L428.9 325.0 L429.0 322.0 L430.3 319.0 L431.5 315.0 L431.2 311.5 L432.0 309.0 L431.6 307.6 L432.6 303.3 L433.2 303.5 L432.7 300.0 L433.1 297.8 L432.7 293.7 L433.3 291.4 L433.5 290.0 L433.3 287.1 L433.3 285.4 L434.1 284.1 L434.4 281.0 L434.8 278.6 L435.1 275.9 L435.4 272.7 L435.5 269.4 L436.4 268.6 L436.4 265.2 L436.2 262.0 L436.2 258.5 L436.5 255.2 L437.0 253.5 L437.7 250.0 L437.8 247.0 L438.7 243.8 L439.5 246.0 L440.2 243.0 L440.6 241.6 L440.3 238.0 L440.0 235.0 L441.4 233.5 L441.2 231.3 L442.1 233.6 L441.1 236.8 L441.9 239.0 L442.6 240.7 L442.0 243.2 L442.8 246.0 L443.8 249.2 L443.1 250.3 L444.0 253.5 L443.7 254.7 L444.8 257.4 L444.7 260.5 L444.8 263.0 L444.6 266.0 L444.7 268.2 L444.9 270.1 L445.6 272.7 L445.4 274.4 L446.6 278.1 L445.9 280.7 L446.3 282.0 L446.1 284.2 L447.1 287.4 L446.3 290.8 L447.0 292.0 L446.9 293.6 L447.9 296.1 L447.5 297.6 L448.0 301.0 L447.8 303.7 L448.3 306.3 L448.7 308.4 L449.2 311.0 L450.1 313.2 L449.8 316.5 L449.6 316.9 L450.3 320.0 L451.3 323.7 L450.9 324.9 L451.7 328.5 L452.3 332.1 L451.9 334.7 L452.6 336.0 L453.8 339.1 L453.8 340.6 L454.6 344.4" fill="none" stroke="#dc3439" stroke-width="1.15" stroke-linejoin="round"/>
<path d="M389.0 344.4 L390.7 343.6 L393.0 342.0 L396.0 339.0 L397.7 337.8 L399.0 335.0 L399.6 332.4 L401.0 331.0 L401.6 328.3 L403.0 327.0 L404.0 323.6 L404.5 322.0 L405.5 324.5 L406.1 321.5 L406.5 319.8 L407.3 317.7 L408.2 320.1 L408.3 322.0 L409.3 319.0 L409.3 321.0 L410.5 324.0 L410.8 327.4 L412.0 329.0 L413.1 332.2 L413.5 334.0 L415.0 338.0 L417.0 341.0 L419.0 342.0 L421.0 341.0 L423.0 340.0 L425.0 340.5 L427.0 341.5 L429.0 343.0 L432.0 344.4 L432.0 345.0 L389.0 345.0Z" fill="#79bfd6" fill-opacity="0.8" stroke="none"/>
<path d="M389.0 344.4 L390.7 343.6 L393.0 342.0 L396.0 339.0 L397.7 337.8 L399.0 335.0 L399.6 332.4 L401.0 331.0 L401.6 328.3 L403.0 327.0 L404.0 323.6 L404.5 322.0 L405.5 324.5 L406.1 321.5 L406.5 319.8 L407.3 317.7 L408.2 320.1 L408.3 322.0 L409.3 319.0 L409.3 321.0 L410.5 324.0 L410.8 327.4 L412.0 329.0 L413.1 332.2 L413.5 334.0 L415.0 338.0 L417.0 341.0 L419.0 342.0 L421.0 341.0 L423.0 340.0 L425.0 340.5 L427.0 341.5 L429.0 343.0 L432.0 344.4" fill="none" stroke="#17a3b8" stroke-width="1.4" stroke-linejoin="round"/>
<text transform="translate(399.70,360.00) scale(0.97,1)" font-size="8.8" text-anchor="middle" fill="#333" font-weight="normal" stroke="#333" stroke-width="0.25">0</text>
<text transform="translate(427.60,360.40)" font-size="8.8" text-anchor="start" fill="#333" font-weight="normal" stroke="#333" stroke-width="0.25" textLength="12.8" lengthAdjust="spacingAndGlyphs">10<tspan font-size="6.51" dy="-3.2">4</tspan></text>
<text transform="translate(446.10,360.40)" font-size="8.8" text-anchor="start" fill="#333" font-weight="normal" stroke="#333" stroke-width="0.25" textLength="12.8" lengthAdjust="spacingAndGlyphs">10<tspan font-size="6.51" dy="-3.2">5</tspan></text>
<text transform="translate(464.20,360.40)" font-size="8.8" text-anchor="start" fill="#333" font-weight="normal" stroke="#333" stroke-width="0.25" textLength="12.8" lengthAdjust="spacingAndGlyphs">10<tspan font-size="6.51" dy="-3.2">6</tspan></text>
<text transform="translate(483.90,360.40)" font-size="8.8" text-anchor="start" fill="#333" font-weight="normal" stroke="#333" stroke-width="0.25" textLength="12.8" lengthAdjust="spacingAndGlyphs">10<tspan font-size="6.51" dy="-3.2">7</tspan></text>
<text transform="translate(425.80,374.80)" font-size="9.8" text-anchor="start" fill="#2a2a2a" font-weight="normal" stroke="#2a2a2a" stroke-width="0.42" textLength="18.2" lengthAdjust="spacingAndGlyphs">PAR1</text>
<text transform="translate(354.00,210.00)" font-size="12.4" text-anchor="start" fill="#111" font-weight="bold" >F</text>
<line x1="240.5" y1="143.9" x2="240.5" y2="303.7" stroke="#1a4a7c" stroke-width="1.4" stroke-dasharray="7.6 3.94"/>
<path d="M240.5 310.2l-4.4 -9.4l4.4 2.4l4.4 -2.4z" fill="#1a4a7c"/>
<line x1="274.4" y1="97.1" x2="274.4" y2="251.0" stroke="#1a4a7c" stroke-width="1.4" stroke-dasharray="7.6 3.94"/>
<path d="M274.4 257.5l-4.4 -9.4l4.4 2.4l4.4 -2.4z" fill="#1a4a7c"/>
<line x1="403.5" y1="143.9" x2="403.5" y2="306.0" stroke="#1a4a7c" stroke-width="1.4" stroke-dasharray="7.6 3.94"/>
<path d="M403.5 312.5l-4.4 -9.4l4.4 2.4l4.4 -2.4z" fill="#1a4a7c"/>
<line x1="434.4" y1="97.1" x2="434.4" y2="251.0" stroke="#1a4a7c" stroke-width="1.4" stroke-dasharray="7.6 3.94"/>
<path d="M434.4 257.5l-4.4 -9.4l4.4 2.4l4.4 -2.4z" fill="#1a4a7c"/>
<text transform="translate(8.00,405.20)" font-size="12.4" text-anchor="start" fill="#111" font-weight="bold" >G</text>
<defs>
<clipPath id="gclip"><rect x="20.2" y="413.6" width="162.5" height="154.39999999999998"/></clipPath>
<filter id="gbg" x="0" y="0" width="100%" height="100%" color-interpolation-filters="sRGB"><feTurbulence type="fractalNoise" baseFrequency="0.03 0.045" numOctaves="4" seed="12" result="t"/><feDiffuseLighting in="t" surfaceScale="3.2" diffuseConstant="1" lighting-color="#fff" result="l"><feDistantLight azimuth="240" elevation="52"/></feDiffuseLighting><feColorMatrix in="l" type="matrix" values="0.62 0 0 0 0.0  0.62 0 0 0 0.0  0.62 0 0 0 0.0  0 0 0 1 0"/></filter>
<filter id="cellf" x="-5%" y="-5%" width="110%" height="110%" color-interpolation-filters="sRGB"><feTurbulence type="fractalNoise" baseFrequency="0.28" numOctaves="3" seed="3" result="t"/><feDiffuseLighting in="t" surfaceScale="1.0" diffuseConstant="1.06" lighting-color="#fff" result="l"><feDistantLight azimuth="235" elevation="58"/></feDiffuseLighting><feComposite in="l" in2="SourceGraphic" operator="in"/></filter>
<radialGradient id="cellg" cx="0.5" cy="0.48" r="0.55"><stop offset="0" stop-color="#000" stop-opacity="0.13"/><stop offset="0.6" stop-color="#000" stop-opacity="0.10"/><stop offset="0.85" stop-color="#fff" stop-opacity="0.2"/><stop offset="1" stop-color="#fff" stop-opacity="0.8"/></radialGradient>
<linearGradient id="cellsh" x1="0.7" y1="0" x2="0.3" y2="1"><stop offset="0.45" stop-color="#000" stop-opacity="0"/><stop offset="1" stop-color="#000" stop-opacity="0.28"/></linearGradient>
</defs>
<g clip-path="url(#gclip)">
<rect x="20.2" y="413.6" width="162.5" height="154.39999999999998" fill="#808080"/>
<rect x="20.2" y="413.6" width="162.5" height="154.39999999999998" filter="url(#gbg)"/>
<g filter="url(#b4)" opacity="0.6">
<ellipse cx="60" cy="440" rx="40" ry="18" fill="#8e8e8e"/>
<ellipse cx="150" cy="470" rx="35" ry="30" fill="#8c8c8c"/>
<ellipse cx="60" cy="548" rx="38" ry="18" fill="#707070"/>
<ellipse cx="150" cy="432" rx="30" ry="10" fill="#8a8a8a"/>
<ellipse cx="38" cy="490" rx="16" ry="25" fill="#7a7a7a"/>
</g>
<g fill="none" stroke="#d0d0d0" stroke-width="1.3" filter="url(#b06)" stroke-linecap="round" opacity="0.6">
<path d="M138 440 Q150 432 165 428 T183 421"/>
<path d="M112 447 Q130 450 150 446 T183 448"/>
<path d="M44 456 Q55 464 64 470"/>
<path d="M136 505 Q150 503 160 506"/>
<path d="M20 528 Q28 530 34 534"/>
<path d="M75 450 Q80 447 84 449"/>
<path d="M150 543 Q154 548 156 553"/>
<path d="M24 417 Q40 422 60 420"/>
<path d="M96 548 Q104 556 108 566"/>
<path d="M34 440 Q36 444 40 446"/>
</g>
<g filter="url(#b1)">
<path d="M120 526 L136 506 L152 510 L154 528 L128 540 L101 538 L104 530 Z" fill="#565656" opacity="0.9"/>
<path d="M131 470 L140 476 L142 492 L137 500 Z" fill="#5c5c5c" opacity="0.6"/>
</g>
<g fill="#e4e4e4" opacity="0.3" filter="url(#b06)"><circle cx="47.9" cy="520.3" r="2.0"/><circle cx="98.3" cy="448.1" r="2.0"/><circle cx="151.1" cy="493.3" r="2.0"/><circle cx="59.3" cy="415.7" r="2.0"/><circle cx="115.4" cy="425.8" r="2.0"/><circle cx="58.7" cy="450.7" r="2.0"/><circle cx="61.1" cy="450.6" r="2.0"/><circle cx="140.0" cy="548.6" r="2.0"/><circle cx="26.9" cy="465.3" r="2.0"/><circle cx="40.0" cy="560.3" r="2.0"/><circle cx="46.2" cy="539.8" r="2.0"/><circle cx="48.4" cy="538.7" r="2.0"/><circle cx="51.4" cy="420.9" r="2.0"/><circle cx="59.1" cy="534.1" r="2.0"/><circle cx="176.9" cy="551.4" r="2.0"/><circle cx="143.8" cy="503.7" r="2.0"/><circle cx="41.1" cy="487.8" r="2.0"/><circle cx="53.7" cy="555.9" r="2.0"/><circle cx="181.1" cy="474.1" r="2.0"/><circle cx="136.7" cy="566.5" r="2.0"/><circle cx="141.5" cy="449.0" r="2.0"/><circle cx="50.4" cy="441.1" r="2.0"/><circle cx="170.2" cy="468.0" r="2.0"/><circle cx="70.6" cy="430.9" r="2.0"/><circle cx="71.5" cy="428.7" r="2.0"/><circle cx="146.1" cy="472.3" r="2.0"/><circle cx="129.9" cy="552.2" r="2.0"/><circle cx="86.7" cy="565.9" r="2.0"/><circle cx="116.2" cy="549.8" r="2.0"/><circle cx="81.7" cy="452.9" r="2.0"/><circle cx="47.4" cy="425.8" r="2.0"/><circle cx="145.6" cy="488.8" r="2.0"/><circle cx="29.8" cy="454.5" r="2.0"/><circle cx="88.7" cy="441.2" r="2.0"/><circle cx="87.5" cy="443.2" r="2.0"/><circle cx="165.7" cy="565.1" r="2.0"/><circle cx="98.3" cy="453.6" r="2.0"/><circle cx="25.9" cy="447.5" r="2.0"/><circle cx="149.0" cy="549.5" r="2.0"/><circle cx="157.7" cy="462.1" r="2.0"/><circle cx="65.7" cy="532.3" r="2.0"/><circle cx="64.7" cy="530.1" r="2.0"/><circle cx="174.5" cy="418.8" r="2.0"/><circle cx="124.7" cy="545.0" r="2.0"/><circle cx="62.7" cy="477.0" r="2.0"/><circle cx="166.7" cy="435.6" r="2.0"/><circle cx="168.7" cy="436.9" r="2.0"/><circle cx="25.5" cy="483.3" r="2.0"/><circle cx="27.1" cy="481.5" r="2.0"/><circle cx="126.6" cy="434.5" r="2.0"/><circle cx="56.6" cy="440.5" r="2.0"/><circle cx="109.7" cy="422.2" r="2.0"/><circle cx="161.7" cy="533.2" r="2.0"/><circle cx="22.7" cy="485.9" r="2.0"/><circle cx="22.9" cy="483.5" r="2.0"/><circle cx="49.5" cy="523.6" r="2.0"/><circle cx="133.2" cy="463.0" r="2.0"/><circle cx="131.4" cy="464.5" r="2.0"/><circle cx="71.1" cy="552.5" r="2.0"/><circle cx="173.6" cy="430.2" r="2.0"/><circle cx="176.6" cy="462.5" r="2.0"/><circle cx="31.6" cy="539.4" r="2.0"/><circle cx="78.4" cy="463.7" r="2.0"/><circle cx="38.7" cy="426.8" r="2.0"/><circle cx="39.6" cy="424.6" r="2.0"/><circle cx="143.4" cy="483.5" r="2.0"/><circle cx="24.6" cy="513.4" r="2.0"/><circle cx="85.8" cy="449.6" r="2.0"/><circle cx="83.6" cy="450.5" r="2.0"/><circle cx="61.1" cy="522.5" r="2.0"/><circle cx="59.3" cy="473.9" r="2.0"/><circle cx="35.1" cy="488.3" r="2.0"/><circle cx="136.5" cy="550.9" r="2.0"/><circle cx="122.0" cy="530.8" r="2.0"/><circle cx="159.3" cy="521.7" r="2.0"/><circle cx="60.8" cy="554.9" r="2.0"/><circle cx="120.1" cy="540.9" r="2.0"/><circle cx="180.2" cy="416.2" r="2.0"/><circle cx="44.7" cy="499.5" r="2.0"/><circle cx="44.0" cy="501.8" r="2.0"/><circle cx="172.8" cy="528.3" r="2.0"/><circle cx="134.4" cy="446.6" r="2.0"/><circle cx="124.4" cy="519.1" r="2.0"/><circle cx="174.1" cy="464.3" r="2.0"/><circle cx="157.1" cy="438.6" r="2.0"/><circle cx="53.5" cy="506.3" r="2.0"/><circle cx="82.2" cy="558.6" r="2.0"/><circle cx="66.4" cy="441.8" r="2.0"/><circle cx="65.1" cy="443.9" r="2.0"/><circle cx="26.9" cy="538.7" r="2.0"/><circle cx="134.5" cy="418.1" r="2.0"/><circle cx="27.7" cy="507.8" r="2.0"/><circle cx="108.8" cy="429.6" r="2.0"/><circle cx="94.3" cy="551.5" r="2.0"/><circle cx="43.1" cy="535.9" r="2.0"/><circle cx="106.4" cy="422.7" r="2.0"/><circle cx="57.5" cy="537.5" r="2.0"/><circle cx="169.9" cy="549.9" r="2.0"/><circle cx="167.8" cy="548.7" r="2.0"/><circle cx="34.3" cy="552.3" r="2.0"/><circle cx="143.3" cy="443.9" r="2.0"/><circle cx="144.2" cy="441.7" r="2.0"/><circle cx="75.6" cy="456.3" r="2.0"/><circle cx="69.2" cy="510.8" r="2.0"/><circle cx="32.8" cy="425.5" r="2.0"/><circle cx="130.2" cy="444.1" r="2.0"/><circle cx="30.8" cy="420.9" r="2.0"/><circle cx="130.7" cy="514.7" r="2.0"/><circle cx="132.6" cy="516.2" r="2.0"/><circle cx="170.8" cy="497.3" r="2.0"/><circle cx="132.3" cy="526.1" r="2.0"/><circle cx="34.0" cy="541.3" r="2.0"/><circle cx="27.9" cy="468.9" r="2.0"/><circle cx="122.2" cy="441.7" r="2.0"/><circle cx="100.7" cy="439.9" r="2.0"/><circle cx="130.5" cy="448.3" r="2.0"/><circle cx="166.3" cy="496.5" r="2.0"/><circle cx="177.1" cy="474.7" r="2.0"/><circle cx="171.8" cy="536.2" r="2.0"/><circle cx="170.3" cy="538.1" r="2.0"/><circle cx="142.7" cy="513.8" r="2.0"/><circle cx="144.9" cy="512.8" r="2.0"/><circle cx="107.5" cy="549.6" r="2.0"/><circle cx="181.6" cy="499.8" r="2.0"/><circle cx="79.6" cy="427.8" r="2.0"/><circle cx="50.0" cy="497.5" r="2.0"/><circle cx="79.5" cy="435.2" r="2.0"/><circle cx="77.4" cy="436.3" r="2.0"/><circle cx="114.6" cy="419.2" r="2.0"/><circle cx="55.2" cy="431.5" r="2.0"/><circle cx="105.3" cy="551.6" r="2.0"/><circle cx="41.1" cy="451.8" r="2.0"/><circle cx="124.3" cy="532.7" r="2.0"/><circle cx="125.9" cy="453.7" r="2.0"/><circle cx="64.0" cy="497.2" r="2.0"/><circle cx="115.5" cy="537.5" r="2.0"/><circle cx="22.0" cy="516.4" r="2.0"/><circle cx="113.9" cy="567.2" r="2.0"/><circle cx="57.9" cy="527.1" r="2.0"/><circle cx="98.9" cy="423.6" r="2.0"/><circle cx="154.0" cy="491.4" r="2.0"/><circle cx="160.3" cy="529.7" r="2.0"/><circle cx="61.6" cy="534.4" r="2.0"/><circle cx="170.4" cy="445.5" r="2.0"/><circle cx="164.3" cy="427.0" r="2.0"/><circle cx="123.1" cy="437.5" r="2.0"/><circle cx="63.9" cy="519.2" r="2.0"/><circle cx="56.4" cy="446.7" r="2.0"/><circle cx="52.4" cy="436.7" r="2.0"/><circle cx="51.6" cy="434.4" r="2.0"/><circle cx="87.8" cy="434.0" r="2.0"/><circle cx="126.5" cy="418.4" r="2.0"/><circle cx="101.8" cy="561.8" r="2.0"/><circle cx="94.4" cy="448.9" r="2.0"/><circle cx="115.0" cy="428.4" r="2.0"/><circle cx="73.9" cy="465.2" r="2.0"/><circle cx="29.1" cy="443.6" r="2.0"/><circle cx="27.4" cy="442.0" r="2.0"/><circle cx="157.4" cy="448.9" r="2.0"/><circle cx="155.1" cy="448.4" r="2.0"/><circle cx="40.0" cy="477.0" r="2.0"/><circle cx="54.0" cy="521.8" r="2.0"/><circle cx="35.0" cy="452.2" r="2.0"/><circle cx="36.8" cy="446.2" r="2.0"/><circle cx="70.0" cy="463.7" r="2.0"/><circle cx="78.8" cy="534.8" r="2.0"/><circle cx="76.4" cy="534.8" r="2.0"/><circle cx="164.5" cy="532.7" r="2.0"/><circle cx="50.6" cy="556.4" r="2.0"/><circle cx="53.0" cy="555.8" r="2.0"/><circle cx="146.0" cy="524.9" r="2.0"/><circle cx="47.7" cy="467.1" r="2.0"/><circle cx="150.0" cy="423.3" r="2.0"/><circle cx="35.9" cy="464.7" r="2.0"/><circle cx="142.3" cy="438.0" r="2.0"/><circle cx="39.4" cy="516.1" r="2.0"/><circle cx="160.3" cy="480.0" r="2.0"/><circle cx="53.2" cy="490.5" r="2.0"/><circle cx="74.4" cy="443.6" r="2.0"/><circle cx="89.7" cy="445.7" r="2.0"/><circle cx="90.2" cy="448.1" r="2.0"/><circle cx="160.8" cy="466.5" r="2.0"/><circle cx="58.4" cy="514.4" r="2.0"/><circle cx="139.6" cy="495.7" r="2.0"/><circle cx="66.4" cy="505.8" r="2.0"/><circle cx="74.1" cy="551.1" r="2.0"/><circle cx="44.8" cy="518.7" r="2.0"/><circle cx="162.5" cy="452.7" r="2.0"/><circle cx="178.1" cy="440.7" r="2.0"/><circle cx="121.9" cy="456.8" r="2.0"/><circle cx="148.9" cy="508.5" r="2.0"/><circle cx="164.8" cy="540.7" r="2.0"/><circle cx="128.0" cy="460.1" r="2.0"/><circle cx="126.2" cy="461.7" r="2.0"/><circle cx="43.4" cy="415.8" r="2.0"/><circle cx="41.1" cy="416.5" r="2.0"/><circle cx="143.9" cy="422.6" r="2.0"/><circle cx="39.3" cy="493.0" r="2.0"/><circle cx="138.3" cy="432.9" r="2.0"/><circle cx="134.0" cy="542.4" r="2.0"/><circle cx="62.7" cy="510.5" r="2.0"/><circle cx="43.1" cy="467.8" r="2.0"/><circle cx="152.8" cy="457.7" r="2.0"/><circle cx="22.0" cy="467.1" r="2.0"/><circle cx="55.6" cy="419.1" r="2.0"/><circle cx="49.2" cy="502.6" r="2.0"/><circle cx="157.7" cy="544.3" r="2.0"/><circle cx="48.5" cy="531.2" r="2.0"/><circle cx="50.7" cy="530.1" r="2.0"/><circle cx="70.9" cy="453.7" r="2.0"/><circle cx="138.5" cy="452.4" r="2.0"/><circle cx="161.8" cy="567.0" r="2.0"/><circle cx="164.1" cy="566.4" r="2.0"/><circle cx="168.8" cy="485.4" r="2.0"/><circle cx="147.3" cy="443.7" r="2.0"/><circle cx="179.0" cy="549.4" r="2.0"/><circle cx="35.0" cy="524.1" r="2.0"/><circle cx="167.3" cy="440.6" r="2.0"/><circle cx="40.8" cy="537.8" r="2.0"/><circle cx="26.4" cy="462.4" r="2.0"/><circle cx="24.8" cy="460.6" r="2.0"/><circle cx="122.5" cy="424.7" r="2.0"/><circle cx="176.3" cy="482.4" r="2.0"/><circle cx="69.3" cy="531.6" r="2.0"/><circle cx="32.4" cy="554.1" r="2.0"/><circle cx="30.4" cy="555.4" r="2.0"/><circle cx="40.0" cy="496.5" r="2.0"/><circle cx="42.1" cy="497.6" r="2.0"/><circle cx="53.8" cy="451.8" r="2.0"/><circle cx="68.1" cy="542.7" r="2.0"/><circle cx="120.2" cy="528.8" r="2.0"/><circle cx="170.3" cy="455.5" r="2.0"/><circle cx="178.2" cy="495.7" r="2.0"/><circle cx="61.3" cy="454.4" r="2.0"/><circle cx="40.0" cy="459.9" r="2.0"/><circle cx="54.0" cy="497.2" r="2.0"/><circle cx="177.1" cy="534.3" r="2.0"/><circle cx="90.6" cy="417.5" r="2.0"/><circle cx="81.9" cy="445.2" r="2.0"/><circle cx="180.7" cy="557.2" r="2.0"/><circle cx="159.0" cy="490.1" r="2.0"/><circle cx="164.8" cy="424.3" r="2.0"/><circle cx="90.1" cy="423.9" r="2.0"/><circle cx="175.0" cy="450.9" r="2.0"/><circle cx="49.1" cy="505.9" r="2.0"/><circle cx="129.6" cy="428.1" r="2.0"/><circle cx="159.3" cy="506.8" r="2.0"/><circle cx="157.4" cy="508.2" r="2.0"/><circle cx="153.1" cy="485.9" r="2.0"/><circle cx="154.3" cy="487.9" r="2.0"/><circle cx="51.3" cy="504.5" r="2.0"/><circle cx="175.9" cy="467.5" r="2.0"/><circle cx="54.2" cy="493.5" r="2.0"/><circle cx="56.1" cy="495.1" r="2.0"/><circle cx="75.4" cy="432.7" r="2.0"/></g>
<g fill="#080808" filter="url(#b03)"><circle cx="47.7" cy="519.7" r="1.35"/><circle cx="98.1" cy="447.5" r="1.35"/><circle cx="150.9" cy="492.7" r="1.35"/><circle cx="59.1" cy="415.1" r="1.35"/><circle cx="115.2" cy="425.2" r="1.35"/><circle cx="58.5" cy="450.1" r="1.35"/><circle cx="60.9" cy="450.0" r="1.35"/><circle cx="139.8" cy="548.0" r="1.35"/><circle cx="26.7" cy="464.7" r="1.35"/><circle cx="39.8" cy="559.7" r="1.35"/><circle cx="46.0" cy="539.2" r="1.35"/><circle cx="48.2" cy="538.1" r="1.35"/><circle cx="51.2" cy="420.3" r="1.35"/><circle cx="58.9" cy="533.5" r="1.35"/><circle cx="176.7" cy="550.8" r="1.35"/><circle cx="143.6" cy="503.1" r="1.35"/><circle cx="40.9" cy="487.2" r="1.35"/><circle cx="53.5" cy="555.3" r="1.35"/><circle cx="180.9" cy="473.5" r="1.35"/><circle cx="136.5" cy="565.9" r="1.35"/><circle cx="141.3" cy="448.4" r="1.35"/><circle cx="50.2" cy="440.5" r="1.35"/><circle cx="170.0" cy="467.4" r="1.35"/><circle cx="70.4" cy="430.3" r="1.35"/><circle cx="71.3" cy="428.1" r="1.35"/><circle cx="145.9" cy="471.7" r="1.35"/><circle cx="129.7" cy="551.6" r="1.35"/><circle cx="86.5" cy="565.3" r="1.35"/><circle cx="116.0" cy="549.2" r="1.35"/><circle cx="81.5" cy="452.3" r="1.35"/><circle cx="47.2" cy="425.2" r="1.35"/><circle cx="145.4" cy="488.2" r="1.35"/><circle cx="29.6" cy="453.9" r="1.35"/><circle cx="88.5" cy="440.6" r="1.35"/><circle cx="87.3" cy="442.6" r="1.35"/><circle cx="165.5" cy="564.5" r="1.35"/><circle cx="98.1" cy="453.0" r="1.35"/><circle cx="25.7" cy="446.9" r="1.35"/><circle cx="148.8" cy="548.9" r="1.35"/><circle cx="157.5" cy="461.5" r="1.35"/><circle cx="65.5" cy="531.7" r="1.35"/><circle cx="64.5" cy="529.5" r="1.35"/><circle cx="174.3" cy="418.2" r="1.35"/><circle cx="124.5" cy="544.4" r="1.35"/><circle cx="62.5" cy="476.4" r="1.35"/><circle cx="166.5" cy="435.0" r="1.35"/><circle cx="168.5" cy="436.3" r="1.35"/><circle cx="25.3" cy="482.7" r="1.35"/><circle cx="26.9" cy="480.9" r="1.35"/><circle cx="126.4" cy="433.9" r="1.35"/><circle cx="56.4" cy="439.9" r="1.35"/><circle cx="109.5" cy="421.6" r="1.35"/><circle cx="161.5" cy="532.6" r="1.35"/><circle cx="22.5" cy="485.3" r="1.35"/><circle cx="22.7" cy="482.9" r="1.35"/><circle cx="49.3" cy="523.0" r="1.35"/><circle cx="133.0" cy="462.4" r="1.35"/><circle cx="131.2" cy="463.9" r="1.35"/><circle cx="70.9" cy="551.9" r="1.35"/><circle cx="173.4" cy="429.6" r="1.35"/><circle cx="176.4" cy="461.9" r="1.35"/><circle cx="31.4" cy="538.8" r="1.35"/><circle cx="78.2" cy="463.1" r="1.35"/><circle cx="38.5" cy="426.2" r="1.35"/><circle cx="39.4" cy="424.0" r="1.35"/><circle cx="143.2" cy="482.9" r="1.35"/><circle cx="24.4" cy="512.8" r="1.35"/><circle cx="85.6" cy="449.0" r="1.35"/><circle cx="83.4" cy="449.9" r="1.35"/><circle cx="60.9" cy="521.9" r="1.35"/><circle cx="59.1" cy="473.3" r="1.35"/><circle cx="34.9" cy="487.7" r="1.35"/><circle cx="136.3" cy="550.3" r="1.35"/><circle cx="121.8" cy="530.2" r="1.35"/><circle cx="159.1" cy="521.1" r="1.35"/><circle cx="60.6" cy="554.3" r="1.35"/><circle cx="119.9" cy="540.3" r="1.35"/><circle cx="180.0" cy="415.6" r="1.35"/><circle cx="44.5" cy="498.9" r="1.35"/><circle cx="43.8" cy="501.2" r="1.35"/><circle cx="172.6" cy="527.7" r="1.35"/><circle cx="134.2" cy="446.0" r="1.35"/><circle cx="124.2" cy="518.5" r="1.35"/><circle cx="173.9" cy="463.7" r="1.35"/><circle cx="156.9" cy="438.0" r="1.35"/><circle cx="53.3" cy="505.7" r="1.35"/><circle cx="82.0" cy="558.0" r="1.35"/><circle cx="66.2" cy="441.2" r="1.35"/><circle cx="64.9" cy="443.3" r="1.35"/><circle cx="26.7" cy="538.1" r="1.35"/><circle cx="134.3" cy="417.5" r="1.35"/><circle cx="27.5" cy="507.2" r="1.35"/><circle cx="108.6" cy="429.0" r="1.35"/><circle cx="94.1" cy="550.9" r="1.35"/><circle cx="42.9" cy="535.3" r="1.35"/><circle cx="106.2" cy="422.1" r="1.35"/><circle cx="57.3" cy="536.9" r="1.35"/><circle cx="169.7" cy="549.3" r="1.35"/><circle cx="167.6" cy="548.1" r="1.35"/><circle cx="34.1" cy="551.7" r="1.35"/><circle cx="143.1" cy="443.3" r="1.35"/><circle cx="144.0" cy="441.1" r="1.35"/><circle cx="75.4" cy="455.7" r="1.35"/><circle cx="69.0" cy="510.2" r="1.35"/><circle cx="32.6" cy="424.9" r="1.35"/><circle cx="130.0" cy="443.5" r="1.35"/><circle cx="30.6" cy="420.3" r="1.35"/><circle cx="130.5" cy="514.1" r="1.35"/><circle cx="132.4" cy="515.6" r="1.35"/><circle cx="170.6" cy="496.7" r="1.35"/><circle cx="132.1" cy="525.5" r="1.35"/><circle cx="33.8" cy="540.7" r="1.35"/><circle cx="27.7" cy="468.3" r="1.35"/><circle cx="122.0" cy="441.1" r="1.35"/><circle cx="100.5" cy="439.3" r="1.35"/><circle cx="130.3" cy="447.7" r="1.35"/><circle cx="166.1" cy="495.9" r="1.35"/><circle cx="176.9" cy="474.1" r="1.35"/><circle cx="171.6" cy="535.6" r="1.35"/><circle cx="170.1" cy="537.5" r="1.35"/><circle cx="142.5" cy="513.2" r="1.35"/><circle cx="144.7" cy="512.2" r="1.35"/><circle cx="107.3" cy="549.0" r="1.35"/><circle cx="181.4" cy="499.2" r="1.35"/><circle cx="79.4" cy="427.2" r="1.35"/><circle cx="49.8" cy="496.9" r="1.35"/><circle cx="79.3" cy="434.6" r="1.35"/><circle cx="77.2" cy="435.7" r="1.35"/><circle cx="114.4" cy="418.6" r="1.35"/><circle cx="55.0" cy="430.9" r="1.35"/><circle cx="105.1" cy="551.0" r="1.35"/><circle cx="40.9" cy="451.2" r="1.35"/><circle cx="124.1" cy="532.1" r="1.35"/><circle cx="125.7" cy="453.1" r="1.35"/><circle cx="63.8" cy="496.6" r="1.35"/><circle cx="115.3" cy="536.9" r="1.35"/><circle cx="21.8" cy="515.8" r="1.35"/><circle cx="113.7" cy="566.6" r="1.35"/><circle cx="57.7" cy="526.5" r="1.35"/><circle cx="98.7" cy="423.0" r="1.35"/><circle cx="153.8" cy="490.8" r="1.35"/><circle cx="160.1" cy="529.1" r="1.35"/><circle cx="61.4" cy="533.8" r="1.35"/><circle cx="170.2" cy="444.9" r="1.35"/><circle cx="164.1" cy="426.4" r="1.35"/><circle cx="122.9" cy="436.9" r="1.35"/><circle cx="63.7" cy="518.6" r="1.35"/><circle cx="56.2" cy="446.1" r="1.35"/><circle cx="52.2" cy="436.1" r="1.35"/><circle cx="51.4" cy="433.8" r="1.35"/><circle cx="87.6" cy="433.4" r="1.35"/><circle cx="126.3" cy="417.8" r="1.35"/><circle cx="101.6" cy="561.2" r="1.35"/><circle cx="94.2" cy="448.3" r="1.35"/><circle cx="114.8" cy="427.8" r="1.35"/><circle cx="73.7" cy="464.6" r="1.35"/><circle cx="28.9" cy="443.0" r="1.35"/><circle cx="27.2" cy="441.4" r="1.35"/><circle cx="157.2" cy="448.3" r="1.35"/><circle cx="154.9" cy="447.8" r="1.35"/><circle cx="39.8" cy="476.4" r="1.35"/><circle cx="53.8" cy="521.2" r="1.35"/><circle cx="34.8" cy="451.6" r="1.35"/><circle cx="36.6" cy="445.6" r="1.35"/><circle cx="69.8" cy="463.1" r="1.35"/><circle cx="78.6" cy="534.2" r="1.35"/><circle cx="76.2" cy="534.2" r="1.35"/><circle cx="164.3" cy="532.1" r="1.35"/><circle cx="50.4" cy="555.8" r="1.35"/><circle cx="52.8" cy="555.2" r="1.35"/><circle cx="145.8" cy="524.3" r="1.35"/><circle cx="47.5" cy="466.5" r="1.35"/><circle cx="149.8" cy="422.7" r="1.35"/><circle cx="35.7" cy="464.1" r="1.35"/><circle cx="142.1" cy="437.4" r="1.35"/><circle cx="39.2" cy="515.5" r="1.35"/><circle cx="160.1" cy="479.4" r="1.35"/><circle cx="53.0" cy="489.9" r="1.35"/><circle cx="74.2" cy="443.0" r="1.35"/><circle cx="89.5" cy="445.1" r="1.35"/><circle cx="90.0" cy="447.5" r="1.35"/><circle cx="160.6" cy="465.9" r="1.35"/><circle cx="58.2" cy="513.8" r="1.35"/><circle cx="139.4" cy="495.1" r="1.35"/><circle cx="66.2" cy="505.2" r="1.35"/><circle cx="73.9" cy="550.5" r="1.35"/><circle cx="44.6" cy="518.1" r="1.35"/><circle cx="162.3" cy="452.1" r="1.35"/><circle cx="177.9" cy="440.1" r="1.35"/><circle cx="121.7" cy="456.2" r="1.35"/><circle cx="148.7" cy="507.9" r="1.35"/><circle cx="164.6" cy="540.1" r="1.35"/><circle cx="127.8" cy="459.5" r="1.35"/><circle cx="126.0" cy="461.1" r="1.35"/><circle cx="43.2" cy="415.2" r="1.35"/><circle cx="40.9" cy="415.9" r="1.35"/><circle cx="143.7" cy="422.0" r="1.35"/><circle cx="39.1" cy="492.4" r="1.35"/><circle cx="138.1" cy="432.3" r="1.35"/><circle cx="133.8" cy="541.8" r="1.35"/><circle cx="62.5" cy="509.9" r="1.35"/><circle cx="42.9" cy="467.2" r="1.35"/><circle cx="152.6" cy="457.1" r="1.35"/><circle cx="21.8" cy="466.5" r="1.35"/><circle cx="55.4" cy="418.5" r="1.35"/><circle cx="49.0" cy="502.0" r="1.35"/><circle cx="157.5" cy="543.7" r="1.35"/><circle cx="48.3" cy="530.6" r="1.35"/><circle cx="50.5" cy="529.5" r="1.35"/><circle cx="70.7" cy="453.1" r="1.35"/><circle cx="138.3" cy="451.8" r="1.35"/><circle cx="161.6" cy="566.4" r="1.35"/><circle cx="163.9" cy="565.8" r="1.35"/><circle cx="168.6" cy="484.8" r="1.35"/><circle cx="147.1" cy="443.1" r="1.35"/><circle cx="178.8" cy="548.8" r="1.35"/><circle cx="34.8" cy="523.5" r="1.35"/><circle cx="167.1" cy="440.0" r="1.35"/><circle cx="40.6" cy="537.2" r="1.35"/><circle cx="26.2" cy="461.8" r="1.35"/><circle cx="24.6" cy="460.0" r="1.35"/><circle cx="122.3" cy="424.1" r="1.35"/><circle cx="176.1" cy="481.8" r="1.35"/><circle cx="69.1" cy="531.0" r="1.35"/><circle cx="32.2" cy="553.5" r="1.35"/><circle cx="30.2" cy="554.8" r="1.35"/><circle cx="39.8" cy="495.9" r="1.35"/><circle cx="41.9" cy="497.0" r="1.35"/><circle cx="53.6" cy="451.2" r="1.35"/><circle cx="67.9" cy="542.1" r="1.35"/><circle cx="120.0" cy="528.2" r="1.35"/><circle cx="170.1" cy="454.9" r="1.35"/><circle cx="178.0" cy="495.1" r="1.35"/><circle cx="61.1" cy="453.8" r="1.35"/><circle cx="39.8" cy="459.3" r="1.35"/><circle cx="53.8" cy="496.6" r="1.35"/><circle cx="176.9" cy="533.7" r="1.35"/><circle cx="90.4" cy="416.9" r="1.35"/><circle cx="81.7" cy="444.6" r="1.35"/><circle cx="180.5" cy="556.6" r="1.35"/><circle cx="158.8" cy="489.5" r="1.35"/><circle cx="164.6" cy="423.7" r="1.35"/><circle cx="89.9" cy="423.3" r="1.35"/><circle cx="174.8" cy="450.3" r="1.35"/><circle cx="48.9" cy="505.3" r="1.35"/><circle cx="129.4" cy="427.5" r="1.35"/><circle cx="159.1" cy="506.2" r="1.35"/><circle cx="157.2" cy="507.6" r="1.35"/><circle cx="152.9" cy="485.3" r="1.35"/><circle cx="154.1" cy="487.3" r="1.35"/><circle cx="51.1" cy="503.9" r="1.35"/><circle cx="175.7" cy="466.9" r="1.35"/><circle cx="54.0" cy="492.9" r="1.35"/><circle cx="55.9" cy="494.5" r="1.35"/><circle cx="75.2" cy="432.1" r="1.35"/></g>
<path d="M72 508 Q56 514 20 505 L20 510 Q50 520 74 527 Q80 530 84 534 Z" fill="#9e9e9e" opacity="0.8" filter="url(#b06)"/>
<path d="M64 497 L70 510 L78 519 L66 516 L58 508 Z" fill="#4e4e4e" opacity="0.8" filter="url(#b1)"/>
<path d="M84 532 Q92 540 97 547 Q104 553 113 557 L112 554 Q104 548 102 540 Q104 534 108 528 Z" fill="#bdbdbd" filter="url(#b06)"/>
<path d="M106.7 522.5 L107.4 524.6 L105.8 526.4 L105.5 528.5 L103.6 529.9 L102.2 531.5 L101.0 533.4 L98.4 533.8 L96.3 535.0 L93.9 535.3 L91.5 535.5 L89.1 535.3 L86.8 534.6 L84.3 534.4 L82.7 532.7 L80.8 531.5 L79.4 529.8 L77.9 528.3 L76.9 526.5 L75.7 524.6 L76.1 522.5 L76.7 520.5 L77.0 518.6 L77.1 516.4 L79.4 515.1 L80.4 513.2 L82.5 512.1 L84.4 510.8 L86.8 510.3 L89.0 509.5 L91.5 509.5 L94.0 509.5 L96.4 509.7 L98.6 510.8 L100.3 512.3 L102.1 513.6 L104.5 514.6 L105.3 516.6 L105.9 518.6 L107.4 520.4Z" fill="#e8e8e8" filter="url(#b06)"/>
<path d="M106.7 522.5 L107.4 524.6 L105.8 526.4 L105.5 528.5 L103.6 529.9 L102.2 531.5 L101.0 533.4 L98.4 533.8 L96.3 535.0 L93.9 535.3 L91.5 535.5 L89.1 535.3 L86.8 534.6 L84.3 534.4 L82.7 532.7 L80.8 531.5 L79.4 529.8 L77.9 528.3 L76.9 526.5 L75.7 524.6 L76.1 522.5 L76.7 520.5 L77.0 518.6 L77.1 516.4 L79.4 515.1 L80.4 513.2 L82.5 512.1 L84.4 510.8 L86.8 510.3 L89.0 509.5 L91.5 509.5 L94.0 509.5 L96.4 509.7 L98.6 510.8 L100.3 512.3 L102.1 513.6 L104.5 514.6 L105.3 516.6 L105.9 518.6 L107.4 520.4Z" fill="#000" filter="url(#cellf)"/>
<path d="M106.7 522.5 L107.4 524.6 L105.8 526.4 L105.5 528.5 L103.6 529.9 L102.2 531.5 L101.0 533.4 L98.4 533.8 L96.3 535.0 L93.9 535.3 L91.5 535.5 L89.1 535.3 L86.8 534.6 L84.3 534.4 L82.7 532.7 L80.8 531.5 L79.4 529.8 L77.9 528.3 L76.9 526.5 L75.7 524.6 L76.1 522.5 L76.7 520.5 L77.0 518.6 L77.1 516.4 L79.4 515.1 L80.4 513.2 L82.5 512.1 L84.4 510.8 L86.8 510.3 L89.0 509.5 L91.5 509.5 L94.0 509.5 L96.4 509.7 L98.6 510.8 L100.3 512.3 L102.1 513.6 L104.5 514.6 L105.3 516.6 L105.9 518.6 L107.4 520.4Z" fill="#000" opacity="0.2"/>
<path d="M137.7 491.8 L137.8 493.9 L137.7 496.1 L137.5 498.2 L136.5 500.2 L136.1 502.4 L133.4 503.7 L133.2 505.9 L132.8 508.2 L130.9 509.7 L129.7 511.7 L126.8 512.3 L125.6 514.2 L123.4 515.2 L121.8 516.9 L119.7 518.1 L117.0 518.2 L114.9 519.3 L112.7 520.1 L110.6 521.8 L108.1 522.0 L105.4 521.2 L103.1 522.5 L100.6 521.3 L98.1 522.0 L95.8 520.9 L93.4 520.2 L90.6 521.2 L88.7 519.3 L86.5 518.5 L83.5 518.7 L81.4 517.4 L80.2 515.3 L77.3 514.9 L76.1 512.8 L74.2 511.4 L73.5 509.2 L70.8 508.2 L70.0 506.1 L68.4 504.4 L67.6 502.4 L68.0 500.0 L67.3 498.0 L67.3 495.9 L67.0 493.9 L67.1 491.8 L66.7 489.7 L66.3 487.6 L68.0 485.7 L67.2 483.4 L68.7 481.6 L69.6 479.7 L69.8 477.4 L71.6 475.8 L73.3 474.2 L74.6 472.4 L75.9 470.6 L78.6 470.0 L79.3 467.3 L82.5 467.5 L83.7 465.3 L85.9 464.1 L88.8 464.6 L90.6 462.6 L93.3 462.7 L95.6 461.9 L98.2 462.7 L100.6 462.4 L103.0 462.2 L105.6 460.9 L107.9 462.6 L110.5 462.0 L113.1 462.3 L115.5 463.1 L117.3 464.9 L119.4 465.9 L121.7 466.7 L124.1 467.6 L125.1 469.9 L127.8 470.5 L129.6 472.0 L131.2 473.7 L131.2 476.2 L134.1 477.2 L133.5 479.8 L134.9 481.6 L136.2 483.4 L137.5 485.4 L136.7 487.6 L138.2 489.6Z" fill="#fafafa" filter="url(#b06)"/>
<path d="M137.7 491.8 L137.8 493.9 L137.7 496.1 L137.5 498.2 L136.5 500.2 L136.1 502.4 L133.4 503.7 L133.2 505.9 L132.8 508.2 L130.9 509.7 L129.7 511.7 L126.8 512.3 L125.6 514.2 L123.4 515.2 L121.8 516.9 L119.7 518.1 L117.0 518.2 L114.9 519.3 L112.7 520.1 L110.6 521.8 L108.1 522.0 L105.4 521.2 L103.1 522.5 L100.6 521.3 L98.1 522.0 L95.8 520.9 L93.4 520.2 L90.6 521.2 L88.7 519.3 L86.5 518.5 L83.5 518.7 L81.4 517.4 L80.2 515.3 L77.3 514.9 L76.1 512.8 L74.2 511.4 L73.5 509.2 L70.8 508.2 L70.0 506.1 L68.4 504.4 L67.6 502.4 L68.0 500.0 L67.3 498.0 L67.3 495.9 L67.0 493.9 L67.1 491.8 L66.7 489.7 L66.3 487.6 L68.0 485.7 L67.2 483.4 L68.7 481.6 L69.6 479.7 L69.8 477.4 L71.6 475.8 L73.3 474.2 L74.6 472.4 L75.9 470.6 L78.6 470.0 L79.3 467.3 L82.5 467.5 L83.7 465.3 L85.9 464.1 L88.8 464.6 L90.6 462.6 L93.3 462.7 L95.6 461.9 L98.2 462.7 L100.6 462.4 L103.0 462.2 L105.6 460.9 L107.9 462.6 L110.5 462.0 L113.1 462.3 L115.5 463.1 L117.3 464.9 L119.4 465.9 L121.7 466.7 L124.1 467.6 L125.1 469.9 L127.8 470.5 L129.6 472.0 L131.2 473.7 L131.2 476.2 L134.1 477.2 L133.5 479.8 L134.9 481.6 L136.2 483.4 L137.5 485.4 L136.7 487.6 L138.2 489.6Z" fill="#000" filter="url(#cellf)"/>
<path d="M137.7 491.8 L137.8 493.9 L137.7 496.1 L137.5 498.2 L136.5 500.2 L136.1 502.4 L133.4 503.7 L133.2 505.9 L132.8 508.2 L130.9 509.7 L129.7 511.7 L126.8 512.3 L125.6 514.2 L123.4 515.2 L121.8 516.9 L119.7 518.1 L117.0 518.2 L114.9 519.3 L112.7 520.1 L110.6 521.8 L108.1 522.0 L105.4 521.2 L103.1 522.5 L100.6 521.3 L98.1 522.0 L95.8 520.9 L93.4 520.2 L90.6 521.2 L88.7 519.3 L86.5 518.5 L83.5 518.7 L81.4 517.4 L80.2 515.3 L77.3 514.9 L76.1 512.8 L74.2 511.4 L73.5 509.2 L70.8 508.2 L70.0 506.1 L68.4 504.4 L67.6 502.4 L68.0 500.0 L67.3 498.0 L67.3 495.9 L67.0 493.9 L67.1 491.8 L66.7 489.7 L66.3 487.6 L68.0 485.7 L67.2 483.4 L68.7 481.6 L69.6 479.7 L69.8 477.4 L71.6 475.8 L73.3 474.2 L74.6 472.4 L75.9 470.6 L78.6 470.0 L79.3 467.3 L82.5 467.5 L83.7 465.3 L85.9 464.1 L88.8 464.6 L90.6 462.6 L93.3 462.7 L95.6 461.9 L98.2 462.7 L100.6 462.4 L103.0 462.2 L105.6 460.9 L107.9 462.6 L110.5 462.0 L113.1 462.3 L115.5 463.1 L117.3 464.9 L119.4 465.9 L121.7 466.7 L124.1 467.6 L125.1 469.9 L127.8 470.5 L129.6 472.0 L131.2 473.7 L131.2 476.2 L134.1 477.2 L133.5 479.8 L134.9 481.6 L136.2 483.4 L137.5 485.4 L136.7 487.6 L138.2 489.6Z" fill="url(#cellg)"/>
<path d="M137.7 491.8 L137.8 493.9 L137.7 496.1 L137.5 498.2 L136.5 500.2 L136.1 502.4 L133.4 503.7 L133.2 505.9 L132.8 508.2 L130.9 509.7 L129.7 511.7 L126.8 512.3 L125.6 514.2 L123.4 515.2 L121.8 516.9 L119.7 518.1 L117.0 518.2 L114.9 519.3 L112.7 520.1 L110.6 521.8 L108.1 522.0 L105.4 521.2 L103.1 522.5 L100.6 521.3 L98.1 522.0 L95.8 520.9 L93.4 520.2 L90.6 521.2 L88.7 519.3 L86.5 518.5 L83.5 518.7 L81.4 517.4 L80.2 515.3 L77.3 514.9 L76.1 512.8 L74.2 511.4 L73.5 509.2 L70.8 508.2 L70.0 506.1 L68.4 504.4 L67.6 502.4 L68.0 500.0 L67.3 498.0 L67.3 495.9 L67.0 493.9 L67.1 491.8 L66.7 489.7 L66.3 487.6 L68.0 485.7 L67.2 483.4 L68.7 481.6 L69.6 479.7 L69.8 477.4 L71.6 475.8 L73.3 474.2 L74.6 472.4 L75.9 470.6 L78.6 470.0 L79.3 467.3 L82.5 467.5 L83.7 465.3 L85.9 464.1 L88.8 464.6 L90.6 462.6 L93.3 462.7 L95.6 461.9 L98.2 462.7 L100.6 462.4 L103.0 462.2 L105.6 460.9 L107.9 462.6 L110.5 462.0 L113.1 462.3 L115.5 463.1 L117.3 464.9 L119.4 465.9 L121.7 466.7 L124.1 467.6 L125.1 469.9 L127.8 470.5 L129.6 472.0 L131.2 473.7 L131.2 476.2 L134.1 477.2 L133.5 479.8 L134.9 481.6 L136.2 483.4 L137.5 485.4 L136.7 487.6 L138.2 489.6Z" fill="url(#cellsh)"/>
<g stroke="#f0f0f0" stroke-width="1" stroke-linecap="round"><path d="M90 462 L89 455"/><path d="M118 463 L119 458"/><path d="M67 489 L59 489"/><path d="M136 500 L150 503"/></g>
<rect x="113.2" y="555.4" width="61.2" height="4.8" fill="#fff"/>
</g>
<text transform="translate(193.80,405.20)" font-size="12.4" text-anchor="start" fill="#111" font-weight="bold" >H</text>
<defs><clipPath id="hclip"><rect x="204.6" y="413.6" width="171.6" height="154.39999999999998"/></clipPath></defs>
<g clip-path="url(#hclip)">
<rect x="204.6" y="413.6" width="171.6" height="154.39999999999998" fill="#050905"/>
<path d="M313.5 442.3 L313.2 444.1 L313.2 446.0 L312.4 447.7 L312.3 449.7 L311.8 451.6 L310.6 453.1 L309.7 455.0 L308.1 456.3 L306.1 456.7 L304.2 457.3 L302.5 458.0 L300.7 458.4 L298.8 458.0 L297.0 457.8 L295.3 457.8 L293.6 457.3 L291.8 457.1 L290.1 456.7 L288.4 456.0 L286.8 455.1 L285.3 454.0 L283.9 452.7 L282.6 451.4 L281.7 449.7 L281.2 447.8 L280.3 446.1 L280.4 444.2 L280.4 442.3 L280.8 440.5 L280.6 438.5 L281.0 436.7 L282.0 435.1 L282.6 433.2 L283.4 431.5 L284.8 430.1 L286.3 428.9 L288.2 428.3 L289.9 427.5 L291.7 427.1 L293.5 427.0 L295.2 426.4 L297.0 425.9 L298.9 425.7 L300.7 426.0 L302.6 426.3 L304.2 427.3 L305.9 428.1 L307.6 429.0 L308.7 430.6 L309.7 432.2 L310.9 433.6 L311.8 435.2 L312.5 436.9 L312.8 438.7 L313.1 440.5Z" fill="#0a3314" fill-opacity="0.45" stroke="#0b6a20" stroke-width="6.6" opacity="0.45" filter="url(#b2)"/>
<path d="M279.9 440.5L274.1 441.0L279.8 442.3ZM314.0 441.3L318.9 439.6L313.8 439.7ZM309.1 429.7L310.7 425.9L307.2 428.1ZM313.7 438.9L316.6 437.5L313.1 436.6ZM281.2 434.6L276.2 435.4L280.3 436.8ZM285.5 455.1L283.5 459.1L287.1 456.4ZM303.8 458.8L305.9 463.2L305.9 457.7ZM289.7 426.9L286.6 424.9L288.5 427.5ZM286.6 455.9L286.3 459.6L288.3 457.0ZM288.8 456.9L289.1 462.0L290.5 457.8ZM279.9 440.0L276.0 440.7L279.8 442.4ZM305.8 458.1L309.0 462.5L307.5 457.0ZM298.8 459.0L301.1 464.0L300.8 458.7ZM313.9 440.1L319.3 436.9L313.4 437.7ZM296.0 458.7L295.9 461.8L297.5 458.7ZM309.5 430.1L313.6 425.5L308.0 428.8ZM280.3 448.6L277.8 452.0L281.2 450.6ZM311.4 432.9L313.0 429.8L310.3 431.5ZM290.0 426.8L288.2 421.4L288.4 427.6ZM297.8 458.9L300.7 463.9L299.4 458.7ZM307.3 428.0L308.5 423.6L305.8 427.0ZM308.6 456.6L313.3 458.8L309.6 455.6ZM287.0 456.1L284.2 460.3L288.6 457.1ZM310.9 432.2L314.9 429.5L309.7 430.7ZM289.9 426.7L286.4 424.8L287.7 427.9ZM309.9 455.3L313.9 456.4L311.5 453.6ZM311.9 433.9L314.4 430.3L310.9 432.2ZM314.0 441.4L318.0 440.3L313.8 439.5ZM313.9 440.1L317.0 437.7L313.5 438.0ZM295.2 458.6L296.4 463.6L296.9 458.7Z" fill="#138a2e" opacity="0.85" filter="url(#b06)"/>
<path d="M279.6 442.3L276.7 444.6L279.8 444.5ZM279.8 441.0L273.5 440.8L279.7 443.1ZM281.8 433.1L276.9 432.5L280.9 434.9ZM310.7 431.8L314.9 428.3L309.3 430.2ZM281.5 433.9L277.6 433.2L280.6 435.7ZM283.9 430.0L279.0 428.9L282.8 431.3ZM303.3 425.8L302.9 419.7L301.0 425.1ZM298.7 425.4L296.7 421.5L296.5 425.3ZM305.0 458.4L307.3 461.7L306.7 457.4ZM280.7 449.7L278.6 453.4L281.9 451.9ZM313.8 445.6L317.1 444.2L314.1 443.4ZM299.1 459.0L299.9 465.2L301.1 458.6ZM289.0 457.0L289.0 462.5L290.6 457.8ZM290.0 457.4L287.6 463.0L291.7 458.1ZM305.2 426.6L307.4 420.7L303.8 425.9ZM283.6 453.6L282.0 458.0L285.2 455.2ZM291.1 457.7L291.5 462.8L293.5 458.4ZM314.0 441.7L319.5 439.8L313.9 440.1ZM310.6 431.6L313.7 427.0L308.9 429.7ZM312.0 434.1L315.1 431.8L310.9 432.3ZM309.6 430.3L313.2 426.9L307.8 428.6ZM312.4 451.2L317.6 453.8L313.4 449.1ZM281.4 433.9L277.2 434.1L280.7 435.5ZM293.5 458.3L292.0 463.7L294.9 458.6ZM313.5 447.5L317.0 448.8L313.9 445.7ZM310.8 454.3L316.7 456.5L312.3 452.2ZM311.3 453.6L316.7 454.6L312.1 452.4ZM289.4 457.1L288.4 460.3L291.7 458.1ZM314.0 441.3L318.8 440.2L313.7 439.1ZM312.1 451.9L315.3 454.1L313.1 450.2Z" fill="#25bd48" opacity="0.85" filter="url(#b06)"/>
<path d="M313.5 442.3 L313.2 444.1 L313.2 446.0 L312.4 447.7 L312.3 449.7 L311.8 451.6 L310.6 453.1 L309.7 455.0 L308.1 456.3 L306.1 456.7 L304.2 457.3 L302.5 458.0 L300.7 458.4 L298.8 458.0 L297.0 457.8 L295.3 457.8 L293.6 457.3 L291.8 457.1 L290.1 456.7 L288.4 456.0 L286.8 455.1 L285.3 454.0 L283.9 452.7 L282.6 451.4 L281.7 449.7 L281.2 447.8 L280.3 446.1 L280.4 444.2 L280.4 442.3 L280.8 440.5 L280.6 438.5 L281.0 436.7 L282.0 435.1 L282.6 433.2 L283.4 431.5 L284.8 430.1 L286.3 428.9 L288.2 428.3 L289.9 427.5 L291.7 427.1 L293.5 427.0 L295.2 426.4 L297.0 425.9 L298.9 425.7 L300.7 426.0 L302.6 426.3 L304.2 427.3 L305.9 428.1 L307.6 429.0 L308.7 430.6 L309.7 432.2 L310.9 433.6 L311.8 435.2 L312.5 436.9 L312.8 438.7 L313.1 440.5Z" fill="none" stroke="#1b9c39" stroke-width="3.6" filter="url(#b06)" stroke-linejoin="round"/>
<path d="M313.5 442.3 L313.2 444.1 L313.2 446.0 L312.4 447.7 L312.3 449.7 L311.8 451.6 L310.6 453.1 L309.7 455.0 L308.1 456.3 L306.1 456.7 L304.2 457.3 L302.5 458.0 L300.7 458.4 L298.8 458.0 L297.0 457.8 L295.3 457.8 L293.6 457.3 L291.8 457.1 L290.1 456.7 L288.4 456.0 L286.8 455.1 L285.3 454.0 L283.9 452.7 L282.6 451.4 L281.7 449.7 L281.2 447.8 L280.3 446.1 L280.4 444.2 L280.4 442.3 L280.8 440.5 L280.6 438.5 L281.0 436.7 L282.0 435.1 L282.6 433.2 L283.4 431.5 L284.8 430.1 L286.3 428.9 L288.2 428.3 L289.9 427.5 L291.7 427.1 L293.5 427.0 L295.2 426.4 L297.0 425.9 L298.9 425.7 L300.7 426.0 L302.6 426.3 L304.2 427.3 L305.9 428.1 L307.6 429.0 L308.7 430.6 L309.7 432.2 L310.9 433.6 L311.8 435.2 L312.5 436.9 L312.8 438.7 L313.1 440.5Z" fill="none" stroke="#3ad45c" stroke-width="1.4" filter="url(#b06)" stroke-linejoin="round" opacity="0.85"/>
<path d="M269.3 472.8 L269.4 475.2 L269.7 477.7 L269.3 480.2 L268.6 482.6 L267.4 484.8 L265.5 486.6 L263.3 487.9 L261.3 489.2 L259.2 490.4 L257.1 491.5 L255.0 492.6 L252.9 493.9 L250.5 494.3 L248.0 494.3 L245.5 494.3 L243.3 493.2 L241.1 492.2 L239.1 490.9 L237.2 489.7 L235.0 488.8 L233.2 487.4 L231.1 486.1 L229.2 484.5 L228.2 482.2 L227.9 479.8 L226.8 477.6 L226.7 475.2 L226.7 472.8 L226.6 470.4 L226.9 468.0 L227.3 465.7 L228.4 463.5 L229.1 461.1 L230.7 459.2 L232.9 457.9 L234.5 456.1 L236.5 454.8 L238.7 453.8 L240.9 452.7 L243.2 451.9 L245.5 450.9 L248.0 451.1 L250.5 450.9 L252.9 451.8 L255.3 452.2 L257.5 453.3 L259.4 454.9 L261.3 456.3 L263.2 457.8 L264.5 459.8 L265.5 462.0 L266.2 464.2 L267.0 466.2 L268.0 468.3 L268.3 470.5Z" fill="#0a3314" fill-opacity="0.45" stroke="#0b6a20" stroke-width="8.0" opacity="0.45" filter="url(#b2)"/>
<path d="M266.6 461.9L269.7 460.1L265.7 460.4ZM235.7 454.3L232.1 451.7L234.3 455.3ZM258.4 452.9L260.7 449.3L257.0 452.2ZM250.4 495.4L253.3 499.6L252.4 495.1ZM227.4 482.5L224.8 486.5L228.2 484.1ZM270.7 477.3L275.2 475.6L270.9 475.6ZM230.5 486.8L228.0 488.6L231.6 488.0ZM264.7 488.3L268.9 488.9L266.0 486.8ZM263.1 456.6L265.3 452.7L261.8 455.5ZM264.3 458.0L266.2 455.0L263.0 456.7ZM230.7 458.1L226.4 457.6L229.4 459.7ZM266.5 486.9L270.7 488.3L267.9 484.8ZM246.7 495.4L247.5 499.6L249.1 495.4ZM270.4 474.2L273.7 473.4L270.4 472.7ZM249.7 495.5L251.0 499.0L251.6 495.3Z" fill="#138a2e" opacity="0.85" filter="url(#b06)"/>
<path d="M268.8 468.2L272.8 466.1L268.3 466.3ZM225.9 470.4L221.2 470.4L225.8 471.9ZM248.1 450.1L247.5 446.8L246.4 450.1ZM262.6 456.0L263.2 452.0L260.6 454.5ZM257.4 492.8L261.6 495.3L259.7 491.6ZM257.8 452.6L257.4 448.7L255.8 451.7ZM270.5 479.1L274.4 479.2L271.0 476.9ZM251.5 450.3L252.0 446.0L249.2 450.1ZM236.9 453.6L233.3 451.6L235.3 454.6ZM226.0 469.9L222.7 469.4L225.8 471.6ZM261.6 490.3L265.0 491.6L262.8 489.3ZM267.9 465.2L271.6 461.6L267.2 463.4ZM243.3 450.8L241.2 447.6L241.3 451.4ZM245.0 450.4L242.7 447.3L243.4 450.7ZM238.9 492.3L239.3 497.0L241.2 493.2ZM246.7 450.2L242.8 433.5L243.7 450.5ZM230.7 458.1L222.9 449.4L228.9 460.5Z" fill="#25bd48" opacity="0.85" filter="url(#b06)"/>
<path d="M269.3 472.8 L269.4 475.2 L269.7 477.7 L269.3 480.2 L268.6 482.6 L267.4 484.8 L265.5 486.6 L263.3 487.9 L261.3 489.2 L259.2 490.4 L257.1 491.5 L255.0 492.6 L252.9 493.9 L250.5 494.3 L248.0 494.3 L245.5 494.3 L243.3 493.2 L241.1 492.2 L239.1 490.9 L237.2 489.7 L235.0 488.8 L233.2 487.4 L231.1 486.1 L229.2 484.5 L228.2 482.2 L227.9 479.8 L226.8 477.6 L226.7 475.2 L226.7 472.8 L226.6 470.4 L226.9 468.0 L227.3 465.7 L228.4 463.5 L229.1 461.1 L230.7 459.2 L232.9 457.9 L234.5 456.1 L236.5 454.8 L238.7 453.8 L240.9 452.7 L243.2 451.9 L245.5 450.9 L248.0 451.1 L250.5 450.9 L252.9 451.8 L255.3 452.2 L257.5 453.3 L259.4 454.9 L261.3 456.3 L263.2 457.8 L264.5 459.8 L265.5 462.0 L266.2 464.2 L267.0 466.2 L268.0 468.3 L268.3 470.5Z" fill="none" stroke="#1b9c39" stroke-width="5.0" filter="url(#b06)" stroke-linejoin="round"/>
<path d="M269.7 480.6 L268.4 483.4 L266.4 485.8 L264.0 487.8 L261.5 489.5 L259.1 491.2 L256.5 492.7 L253.8 494.0 L250.8 494.8 L247.7 494.8 L244.7 494.1 L242.0 493.0 L239.3 491.7 L236.8 490.4 L234.2 489.0" fill="none" stroke="#27bb49" stroke-width="4.0" filter="url(#b1)" stroke-linecap="round" opacity="0.9"/>
<path d="M269.3 472.8 L269.4 475.2 L269.7 477.7 L269.3 480.2 L268.6 482.6 L267.4 484.8 L265.5 486.6 L263.3 487.9 L261.3 489.2 L259.2 490.4 L257.1 491.5 L255.0 492.6 L252.9 493.9 L250.5 494.3 L248.0 494.3 L245.5 494.3 L243.3 493.2 L241.1 492.2 L239.1 490.9 L237.2 489.7 L235.0 488.8 L233.2 487.4 L231.1 486.1 L229.2 484.5 L228.2 482.2 L227.9 479.8 L226.8 477.6 L226.7 475.2 L226.7 472.8 L226.6 470.4 L226.9 468.0 L227.3 465.7 L228.4 463.5 L229.1 461.1 L230.7 459.2 L232.9 457.9 L234.5 456.1 L236.5 454.8 L238.7 453.8 L240.9 452.7 L243.2 451.9 L245.5 450.9 L248.0 451.1 L250.5 450.9 L252.9 451.8 L255.3 452.2 L257.5 453.3 L259.4 454.9 L261.3 456.3 L263.2 457.8 L264.5 459.8 L265.5 462.0 L266.2 464.2 L267.0 466.2 L268.0 468.3 L268.3 470.5Z" fill="none" stroke="#3ad45c" stroke-width="2.0" filter="url(#b06)" stroke-linejoin="round" opacity="0.85"/>
<path d="M369.5 461.6 L368.4 463.8 L367.9 465.9 L367.0 467.9 L366.5 470.0 L365.4 471.9 L364.7 474.1 L363.5 476.0 L361.7 477.3 L360.0 478.7 L358.0 479.7 L355.9 480.2 L354.0 481.5 L351.8 481.9 L349.6 481.9 L347.4 481.6 L345.2 481.6 L343.3 480.3 L341.4 479.2 L339.7 478.0 L338.2 476.5 L336.5 475.2 L335.1 473.6 L333.3 472.2 L332.0 470.4 L330.4 468.6 L329.6 466.3 L329.7 463.9 L329.7 461.6 L329.9 459.3 L329.9 457.0 L331.2 454.9 L332.1 452.8 L333.5 451.1 L334.8 449.4 L336.4 447.9 L338.0 446.6 L339.6 445.1 L341.3 443.8 L343.1 442.4 L345.2 441.5 L347.3 440.7 L349.6 440.7 L351.8 441.0 L353.9 442.2 L355.6 443.8 L357.5 444.6 L359.2 445.7 L361.0 446.8 L362.8 447.9 L364.9 448.9 L366.6 450.5 L368.7 452.1 L369.5 454.4 L369.7 456.8 L369.4 459.3Z" fill="#0a3314" fill-opacity="0.45" stroke="#0b6a20" stroke-width="5.7" opacity="0.45" filter="url(#b2)"/>
<path d="M361.8 447.1L362.1 442.9L359.9 445.7ZM363.4 448.0L364.5 446.0L362.4 447.0ZM328.9 460.1L325.2 461.2L328.9 461.6ZM335.4 447.8L332.5 447.9L333.9 449.7ZM329.2 465.9L326.6 467.3L329.8 467.9ZM330.9 469.6L328.6 472.3L331.6 471.2ZM332.0 471.1L330.6 474.3L333.1 472.9ZM342.2 442.8L340.4 440.8L340.2 443.8ZM348.6 482.6L349.3 485.5L350.3 482.6ZM342.8 480.8L342.1 483.4L344.1 481.3ZM356.8 443.4L356.2 440.6L355.0 442.8ZM359.5 445.6L360.7 443.2L358.1 444.8Z" fill="#138a2e" opacity="0.85" filter="url(#b06)"/>
<path d="M332.4 471.4L331.3 473.9L333.6 473.4ZM346.9 440.7L345.8 438.4L344.3 441.2ZM334.3 449.0L331.8 448.9L333.2 450.5ZM341.2 479.8L339.7 483.0L342.9 480.5ZM331.3 453.1L328.5 452.1L330.5 455.0ZM370.4 459.3L373.3 458.3L370.3 457.9ZM337.3 446.2L335.3 445.2L335.9 447.5ZM368.6 465.6L370.9 464.9L368.9 463.1ZM336.5 475.5L335.8 478.3L338.1 476.9ZM331.9 452.1L328.4 451.9L331.2 453.7ZM344.1 441.8L342.2 440.0L342.4 442.3ZM339.0 477.9L337.5 480.5L340.6 478.9Z" fill="#25bd48" opacity="0.85" filter="url(#b06)"/>
<path d="M369.5 461.6 L368.4 463.8 L367.9 465.9 L367.0 467.9 L366.5 470.0 L365.4 471.9 L364.7 474.1 L363.5 476.0 L361.7 477.3 L360.0 478.7 L358.0 479.7 L355.9 480.2 L354.0 481.5 L351.8 481.9 L349.6 481.9 L347.4 481.6 L345.2 481.6 L343.3 480.3 L341.4 479.2 L339.7 478.0 L338.2 476.5 L336.5 475.2 L335.1 473.6 L333.3 472.2 L332.0 470.4 L330.4 468.6 L329.6 466.3 L329.7 463.9 L329.7 461.6 L329.9 459.3 L329.9 457.0 L331.2 454.9 L332.1 452.8 L333.5 451.1 L334.8 449.4 L336.4 447.9 L338.0 446.6 L339.6 445.1 L341.3 443.8 L343.1 442.4 L345.2 441.5 L347.3 440.7 L349.6 440.7 L351.8 441.0 L353.9 442.2 L355.6 443.8 L357.5 444.6 L359.2 445.7 L361.0 446.8 L362.8 447.9 L364.9 448.9 L366.6 450.5 L368.7 452.1 L369.5 454.4 L369.7 456.8 L369.4 459.3Z" fill="none" stroke="#1b9c39" stroke-width="2.7" filter="url(#b06)" stroke-linejoin="round"/>
<path d="M369.5 461.6 L368.4 463.8 L367.9 465.9 L367.0 467.9 L366.5 470.0 L365.4 471.9 L364.7 474.1 L363.5 476.0 L361.7 477.3 L360.0 478.7 L358.0 479.7 L355.9 480.2 L354.0 481.5 L351.8 481.9 L349.6 481.9 L347.4 481.6 L345.2 481.6 L343.3 480.3 L341.4 479.2 L339.7 478.0 L338.2 476.5 L336.5 475.2 L335.1 473.6 L333.3 472.2 L332.0 470.4 L330.4 468.6 L329.6 466.3 L329.7 463.9 L329.7 461.6 L329.9 459.3 L329.9 457.0 L331.2 454.9 L332.1 452.8 L333.5 451.1 L334.8 449.4 L336.4 447.9 L338.0 446.6 L339.6 445.1 L341.3 443.8 L343.1 442.4 L345.2 441.5 L347.3 440.7 L349.6 440.7 L351.8 441.0 L353.9 442.2 L355.6 443.8 L357.5 444.6 L359.2 445.7 L361.0 446.8 L362.8 447.9 L364.9 448.9 L366.6 450.5 L368.7 452.1 L369.5 454.4 L369.7 456.8 L369.4 459.3Z" fill="none" stroke="#3ad45c" stroke-width="1.1" filter="url(#b06)" stroke-linejoin="round" opacity="0.42"/>
<path d="M273.8 534.8 L273.7 536.7 L273.1 538.5 L272.2 540.2 L271.1 541.7 L270.1 543.2 L268.8 544.4 L267.6 545.6 L266.4 546.8 L264.9 547.8 L263.6 549.0 L262.1 550.0 L260.4 550.6 L258.6 550.8 L256.8 550.6 L255.1 549.6 L253.5 549.4 L251.9 548.9 L250.3 548.3 L248.7 547.6 L247.0 547.2 L245.5 546.1 L243.6 545.3 L242.4 543.8 L241.7 542.1 L241.3 540.2 L240.6 538.5 L240.8 536.6 L240.7 534.8 L241.1 533.0 L241.8 531.4 L242.4 529.8 L243.0 528.2 L243.9 526.7 L244.9 525.3 L245.8 523.8 L246.7 522.2 L248.3 521.4 L249.9 520.4 L251.4 519.3 L253.2 519.1 L255.0 518.9 L256.8 519.0 L258.5 519.3 L260.3 519.3 L261.8 520.4 L263.5 520.9 L264.9 521.9 L266.4 522.8 L267.5 524.1 L268.6 525.4 L269.8 526.6 L270.6 528.2 L271.7 529.6 L272.8 531.1 L273.1 533.0Z" fill="#0a3314" fill-opacity="0.45" stroke="#0b6a20" stroke-width="6.0" opacity="0.45" filter="url(#b2)"/>
<path d="M272.1 542.2L276.4 543.7L272.9 540.2ZM273.2 540.7L279.6 543.1L273.9 538.2ZM273.5 532.5L280.4 529.2L273.0 530.0ZM240.2 539.5L236.8 542.5L241.1 541.9ZM260.9 519.2L260.5 513.6L259.5 518.9ZM272.6 541.4L276.8 542.6L273.1 539.9ZM267.4 546.4L271.6 550.7L268.7 545.0ZM273.6 540.0L279.5 539.1L274.1 537.6ZM256.4 551.1L258.7 555.6L258.8 551.0ZM274.3 534.9L279.7 535.0L274.2 532.7ZM259.6 551.3L260.6 558.9L262.1 550.7ZM264.2 520.5L266.2 514.7L262.1 519.6ZM273.6 532.4L281.8 531.2L273.4 531.0ZM272.1 542.1L276.5 543.1L272.9 540.1ZM271.2 528.0L274.4 526.5L270.5 526.7ZM268.8 524.5L271.9 521.2L267.6 523.2ZM274.1 538.7L277.9 538.6L274.4 536.7ZM259.8 518.8L257.2 512.6L257.4 518.5ZM261.5 519.3L260.8 514.0L259.6 518.9ZM269.4 525.3L273.0 520.2L267.8 523.5ZM250.7 549.0L249.7 556.8L252.9 549.8ZM240.3 534.2L235.1 535.4L240.4 536.6Z" fill="#138a2e" opacity="0.85" filter="url(#b06)"/>
<path d="M257.1 551.2L259.7 556.1L259.1 551.1ZM256.1 518.2L251.7 510.7L254.4 518.4ZM245.6 523.0L238.8 519.3L244.4 524.2ZM248.4 548.2L248.4 552.2L249.8 549.0ZM274.0 533.6L279.3 531.0L273.9 532.1ZM273.3 540.5L279.7 539.7L274.0 538.0ZM274.2 534.4L279.9 531.9L274.1 532.5ZM265.4 521.2L265.7 514.9L263.9 520.4ZM265.9 547.7L268.2 550.6L267.5 546.4ZM261.6 519.4L262.7 512.2L260.2 519.0ZM247.6 547.8L243.9 553.4L249.5 549.0ZM254.3 550.4L251.6 557.8L255.7 550.6ZM270.1 526.3L273.5 524.2L268.8 524.6ZM257.1 518.3L254.7 510.4L255.7 518.4ZM263.7 520.2L267.1 513.9L261.7 519.5ZM269.7 525.7L274.7 520.1L268.4 524.1ZM268.0 523.5L270.2 517.0L266.6 522.3ZM265.1 521.1L266.3 517.1L263.5 520.2ZM273.5 532.3L276.9 529.4L273.1 530.2ZM260.3 519.0L261.1 515.3L258.7 518.7ZM264.2 549.3L270.2 554.7L265.5 548.5ZM253.7 518.2L251.3 515.1L251.7 518.7Z" fill="#25bd48" opacity="0.85" filter="url(#b06)"/>
<path d="M273.8 534.8 L273.7 536.7 L273.1 538.5 L272.2 540.2 L271.1 541.7 L270.1 543.2 L268.8 544.4 L267.6 545.6 L266.4 546.8 L264.9 547.8 L263.6 549.0 L262.1 550.0 L260.4 550.6 L258.6 550.8 L256.8 550.6 L255.1 549.6 L253.5 549.4 L251.9 548.9 L250.3 548.3 L248.7 547.6 L247.0 547.2 L245.5 546.1 L243.6 545.3 L242.4 543.8 L241.7 542.1 L241.3 540.2 L240.6 538.5 L240.8 536.6 L240.7 534.8 L241.1 533.0 L241.8 531.4 L242.4 529.8 L243.0 528.2 L243.9 526.7 L244.9 525.3 L245.8 523.8 L246.7 522.2 L248.3 521.4 L249.9 520.4 L251.4 519.3 L253.2 519.1 L255.0 518.9 L256.8 519.0 L258.5 519.3 L260.3 519.3 L261.8 520.4 L263.5 520.9 L264.9 521.9 L266.4 522.8 L267.5 524.1 L268.6 525.4 L269.8 526.6 L270.6 528.2 L271.7 529.6 L272.8 531.1 L273.1 533.0Z" fill="none" stroke="#1b9c39" stroke-width="3.0" filter="url(#b06)" stroke-linejoin="round"/>
<path d="M273.8 534.8 L273.7 536.7 L273.1 538.5 L272.2 540.2 L271.1 541.7 L270.1 543.2 L268.8 544.4 L267.6 545.6 L266.4 546.8 L264.9 547.8 L263.6 549.0 L262.1 550.0 L260.4 550.6 L258.6 550.8 L256.8 550.6 L255.1 549.6 L253.5 549.4 L251.9 548.9 L250.3 548.3 L248.7 547.6 L247.0 547.2 L245.5 546.1 L243.6 545.3 L242.4 543.8 L241.7 542.1 L241.3 540.2 L240.6 538.5 L240.8 536.6 L240.7 534.8 L241.1 533.0 L241.8 531.4 L242.4 529.8 L243.0 528.2 L243.9 526.7 L244.9 525.3 L245.8 523.8 L246.7 522.2 L248.3 521.4 L249.9 520.4 L251.4 519.3 L253.2 519.1 L255.0 518.9 L256.8 519.0 L258.5 519.3 L260.3 519.3 L261.8 520.4 L263.5 520.9 L264.9 521.9 L266.4 522.8 L267.5 524.1 L268.6 525.4 L269.8 526.6 L270.6 528.2 L271.7 529.6 L272.8 531.1 L273.1 533.0Z" fill="none" stroke="#3ad45c" stroke-width="1.2" filter="url(#b06)" stroke-linejoin="round" opacity="0.85"/>
<path d="M347.1 533.0 L346.8 535.0 L347.5 537.2 L347.4 539.4 L347.3 541.7 L346.2 543.8 L344.3 545.2 L342.5 546.5 L340.5 547.6 L338.8 548.9 L336.8 549.9 L334.8 550.7 L332.9 552.4 L330.6 552.9 L328.3 553.8 L325.9 553.3 L323.6 552.5 L321.3 552.1 L319.6 550.4 L317.7 549.1 L315.5 548.4 L313.6 547.0 L312.1 545.4 L310.0 544.0 L309.0 541.9 L308.2 539.7 L308.5 537.3 L308.1 535.2 L308.7 533.0 L308.9 530.9 L309.3 528.9 L310.1 526.9 L310.5 524.8 L311.4 522.9 L312.5 521.0 L314.0 519.4 L315.7 517.9 L317.5 516.5 L319.7 516.0 L321.6 514.7 L323.9 514.4 L326.1 514.0 L328.3 513.3 L330.6 513.6 L332.9 513.9 L335.2 514.1 L337.6 514.6 L339.6 515.8 L342.2 516.3 L343.6 518.3 L345.6 519.8 L346.6 522.0 L346.5 524.6 L347.1 526.7 L346.6 529.0 L346.7 531.0Z" fill="#0a3314" fill-opacity="0.45" stroke="#0b6a20" stroke-width="7.2" opacity="0.45" filter="url(#b2)"/>
<path d="M347.7 535.3L351.2 533.5L347.9 532.8ZM315.6 549.0L314.1 553.2L317.6 550.3ZM348.2 538.4L354.5 537.2L348.6 536.6ZM309.2 526.8L304.8 526.9L308.8 528.4ZM338.1 550.0L339.7 552.9L339.8 548.9ZM307.1 537.5L303.6 541.3L307.8 539.9ZM327.0 512.8L325.7 506.8L324.7 513.1ZM321.0 552.9L319.4 557.0L323.4 553.6ZM307.5 534.8L303.4 536.5L307.7 536.4ZM308.0 532.2L303.8 534.3L308.0 533.9ZM332.8 513.0L333.1 507.6L330.5 512.6ZM332.2 512.9L330.8 507.3L329.7 512.6ZM327.0 554.5L328.3 559.9L329.4 554.5ZM327.9 512.8L325.6 507.2L325.5 513.0ZM308.6 529.6L303.6 531.4L308.3 532.0ZM326.8 512.9L326.0 509.2L324.7 513.1ZM315.0 517.0L309.7 514.8L313.8 518.1ZM314.4 517.5L311.4 515.5L313.2 518.6ZM334.6 551.8L336.8 554.7L336.4 551.2ZM347.6 534.0L352.1 532.4L347.6 532.1ZM312.8 519.0L309.5 517.2L311.6 520.3ZM337.5 513.9L338.3 508.6L336.0 513.3ZM312.2 519.6L309.2 516.5L311.3 520.7ZM314.3 517.5L309.2 514.2L312.9 518.8ZM347.8 529.2L353.5 527.3L347.3 527.6ZM347.6 532.2L352.1 530.0L347.4 530.2ZM333.5 513.1L331.7 507.1L331.5 512.7ZM324.9 554.3L324.1 557.9L326.7 554.5ZM328.3 512.8L328.0 509.1L326.6 512.8ZM307.2 536.5L303.0 537.8L307.6 538.6ZM346.5 519.7L348.2 514.6L344.9 518.0ZM307.5 534.3L301.7 536.4L307.7 536.2Z" fill="#138a2e" opacity="0.85" filter="url(#b06)"/>
<path d="M333.9 552.1L335.3 557.3L336.3 551.3ZM344.4 547.0L348.6 550.3L345.9 545.1ZM312.8 518.9L306.9 516.6L311.1 520.9ZM347.0 544.1L350.7 545.1L348.3 541.8ZM309.3 543.8L306.5 546.8L310.7 545.8ZM348.1 537.8L352.6 539.1L348.5 536.2ZM344.5 546.8L349.5 547.8L346.0 544.9ZM347.6 531.3L352.1 529.5L347.3 529.1ZM312.2 546.5L307.4 550.0L313.8 548.1ZM333.7 513.1L333.2 507.0L331.4 512.6ZM313.8 547.6L311.6 552.9L315.3 548.9ZM316.6 516.0L311.6 513.7L315.0 517.2ZM316.4 516.1L311.7 512.6L314.7 517.4ZM344.9 517.9L348.7 514.5L343.0 516.1ZM348.1 526.3L352.3 524.1L347.2 524.3ZM318.6 515.0L315.7 511.4L316.6 516.2ZM307.3 539.6L303.3 543.5L308.1 541.7ZM348.2 540.6L352.1 540.6L348.7 539.1ZM312.8 518.9L307.6 517.3L311.2 520.8ZM343.9 547.1L349.0 550.0L344.8 546.0ZM310.5 522.4L305.5 519.1L309.6 524.1ZM311.6 520.5L307.8 517.5L310.2 522.6ZM344.7 546.6L348.8 549.4L345.6 545.4ZM330.6 553.8L330.8 557.8L332.5 553.6ZM347.6 531.7L352.2 529.9L347.4 529.9ZM343.0 547.7L347.5 550.5L344.2 546.4ZM324.1 554.1L322.9 560.0L325.8 554.4ZM312.4 519.4L308.3 516.9L311.1 521.0ZM309.0 528.0L304.4 528.7L308.5 530.0ZM348.1 538.7L352.4 538.3L348.6 536.3ZM307.9 541.4L303.5 543.9L308.8 543.3ZM342.8 516.3L343.7 512.1L340.9 514.8Z" fill="#25bd48" opacity="0.85" filter="url(#b06)"/>
<path d="M347.1 533.0 L346.8 535.0 L347.5 537.2 L347.4 539.4 L347.3 541.7 L346.2 543.8 L344.3 545.2 L342.5 546.5 L340.5 547.6 L338.8 548.9 L336.8 549.9 L334.8 550.7 L332.9 552.4 L330.6 552.9 L328.3 553.8 L325.9 553.3 L323.6 552.5 L321.3 552.1 L319.6 550.4 L317.7 549.1 L315.5 548.4 L313.6 547.0 L312.1 545.4 L310.0 544.0 L309.0 541.9 L308.2 539.7 L308.5 537.3 L308.1 535.2 L308.7 533.0 L308.9 530.9 L309.3 528.9 L310.1 526.9 L310.5 524.8 L311.4 522.9 L312.5 521.0 L314.0 519.4 L315.7 517.9 L317.5 516.5 L319.7 516.0 L321.6 514.7 L323.9 514.4 L326.1 514.0 L328.3 513.3 L330.6 513.6 L332.9 513.9 L335.2 514.1 L337.6 514.6 L339.6 515.8 L342.2 516.3 L343.6 518.3 L345.6 519.8 L346.6 522.0 L346.5 524.6 L347.1 526.7 L346.6 529.0 L346.7 531.0Z" fill="none" stroke="#1b9c39" stroke-width="4.2" filter="url(#b06)" stroke-linejoin="round"/>
<path d="M320.9 552.5 L317.4 550.1 L313.9 547.8 L310.5 545.3 L308.1 541.7 L307.4 537.6 L308.0 533.5 L308.7 529.7 L309.4 525.9 L310.6 522.1 L313.0 518.8 L316.4 516.3 L320.2 514.6 L324.2 513.4 L328.3 512.8" fill="none" stroke="#27bb49" stroke-width="4.5" filter="url(#b1)" stroke-linecap="round" opacity="0.9"/>
<path d="M347.1 533.0 L346.8 535.0 L347.5 537.2 L347.4 539.4 L347.3 541.7 L346.2 543.8 L344.3 545.2 L342.5 546.5 L340.5 547.6 L338.8 548.9 L336.8 549.9 L334.8 550.7 L332.9 552.4 L330.6 552.9 L328.3 553.8 L325.9 553.3 L323.6 552.5 L321.3 552.1 L319.6 550.4 L317.7 549.1 L315.5 548.4 L313.6 547.0 L312.1 545.4 L310.0 544.0 L309.0 541.9 L308.2 539.7 L308.5 537.3 L308.1 535.2 L308.7 533.0 L308.9 530.9 L309.3 528.9 L310.1 526.9 L310.5 524.8 L311.4 522.9 L312.5 521.0 L314.0 519.4 L315.7 517.9 L317.5 516.5 L319.7 516.0 L321.6 514.7 L323.9 514.4 L326.1 514.0 L328.3 513.3 L330.6 513.6 L332.9 513.9 L335.2 514.1 L337.6 514.6 L339.6 515.8 L342.2 516.3 L343.6 518.3 L345.6 519.8 L346.6 522.0 L346.5 524.6 L347.1 526.7 L346.6 529.0 L346.7 531.0Z" fill="none" stroke="#3ad45c" stroke-width="1.7" filter="url(#b06)" stroke-linejoin="round" opacity="0.85"/>
<g fill="#1c9a3a" opacity="0.55" filter="url(#b06)"><circle cx="252" cy="472" r="1"/><circle cx="246" cy="480" r="0.9"/><circle cx="255" cy="484" r="0.8"/><path d="M243 462 L250 476" stroke="#167a2c" stroke-width="0.8"/><circle cx="257" cy="531" r="1.1"/><circle cx="251" cy="537" r="1"/><circle cx="259" cy="540" r="0.9"/><circle cx="249" cy="527" r="0.8"/><circle cx="314.5" cy="536" r="1.6" fill="#3ad65c"/></g>
<text transform="translate(372.80,424.50)" font-size="8.7" text-anchor="end" fill="#2f8a3a" font-weight="normal" >F-actin</text>
<rect x="335.2" y="555.8" width="31.6" height="4.1" fill="#fff"/>
</g>
<text transform="translate(392.60,405.20)" font-size="12.4" text-anchor="start" fill="#111" font-weight="bold" >I</text>
<path d="M424.4 417.6V553.6H512.8" fill="none" stroke="#222" stroke-width="1"/>
<text transform="translate(417.00,556.70) scale(0.9,1)" font-size="8.8" text-anchor="end" fill="#333" font-weight="normal" >10</text>
<text transform="translate(417.00,530.06) scale(0.9,1)" font-size="8.8" text-anchor="end" fill="#333" font-weight="normal" >11</text>
<text transform="translate(417.00,503.42) scale(0.9,1)" font-size="8.8" text-anchor="end" fill="#333" font-weight="normal" >12</text>
<text transform="translate(417.00,476.78) scale(0.9,1)" font-size="8.8" text-anchor="end" fill="#333" font-weight="normal" >13</text>
<text transform="translate(417.00,450.14) scale(0.9,1)" font-size="8.8" text-anchor="end" fill="#333" font-weight="normal" >14</text>
<text transform="translate(417.00,423.50) scale(0.9,1)" font-size="8.8" text-anchor="end" fill="#333" font-weight="normal" >15</text>
<path d="M421.2 553.6H424.4M421.2 527.0H424.4M421.2 500.3H424.4M421.2 473.7H424.4M421.2 447.0H424.4M421.2 420.4H424.4M469 553.6V556.8" stroke="#222" stroke-width="1"/>
<path d="M468.6 432.4V531.4M457.2 432.4H480M457.2 531.4H480" stroke="#222" stroke-width="0.9" fill="none"/>
<rect x="447.9" y="466.5" width="42.2" height="46.6" fill="#8a7fc6"/>
<line x1="447.9" y1="489" x2="490.1" y2="489" stroke="#231a4d" stroke-width="1.3"/>
<text transform="translate(468.80,568.20)" font-size="9.2" text-anchor="middle" fill="#333" font-weight="normal" >Untreated</text>
<text transform="translate(402.00,520.00) rotate(-90)" font-size="9.6" text-anchor="start" fill="#333" font-weight="normal"  textLength="67.5" lengthAdjust="spacingAndGlyphs">iMK diameter, µm</text>
<path d="M0.5 0.5H518.8V576.3H0.5Z" fill="none" stroke="#3c3c3c" stroke-width="1"/>
</svg>
</div>
</body></html>
